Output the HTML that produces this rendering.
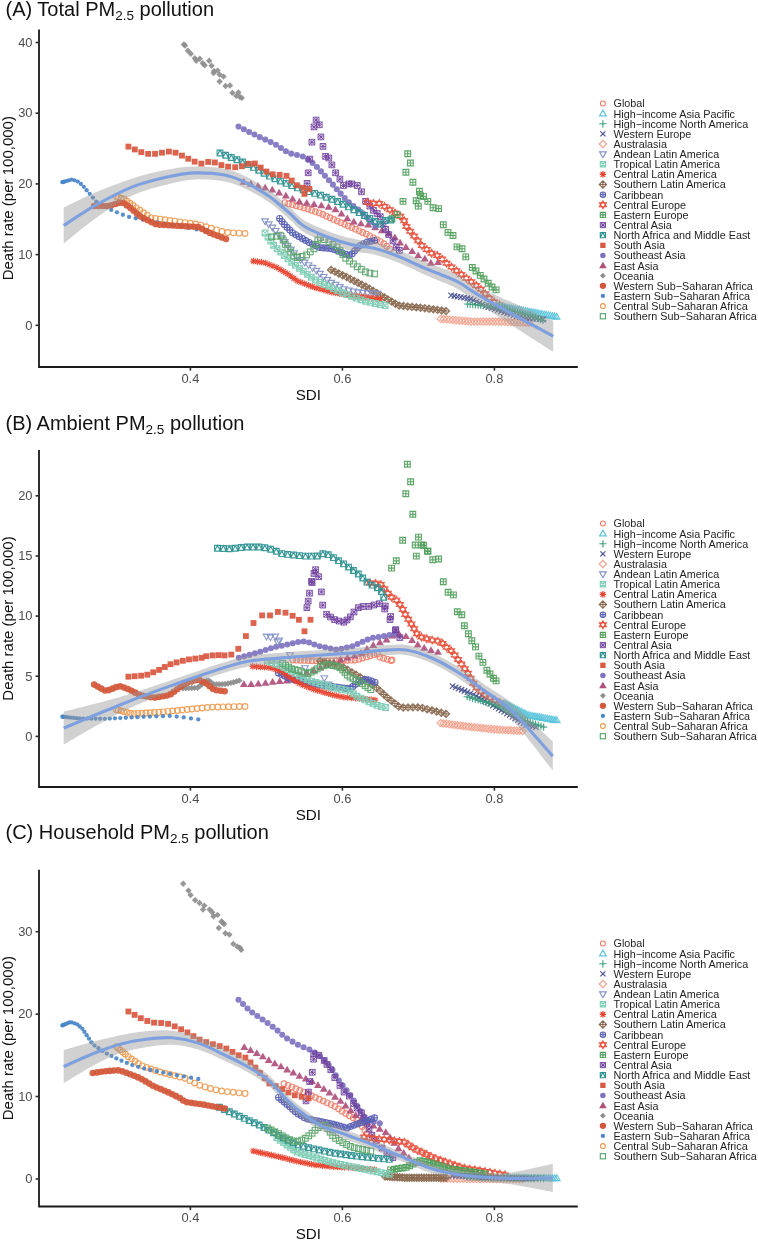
<!DOCTYPE html><html><head><meta charset="utf-8"><style>html,body{margin:0;padding:0;background:#fff;width:758px;height:1241px;overflow:hidden;position:relative}</style></head><body><svg width="758" height="1241" viewBox="0 0 758 1241" style="position:absolute;left:0;top:0;font-family:'Liberation Sans', sans-serif;filter:blur(0.3px)"><rect width="758" height="1241" fill="#fff"/><circle cx="284.90" cy="202.60" r="2.86" fill="none" stroke="#F07F6A" stroke-width="1.15" opacity="0.92"/><circle cx="288.73" cy="203.67" r="2.86" fill="none" stroke="#F07F6A" stroke-width="1.15" opacity="0.92"/><circle cx="292.56" cy="204.73" r="2.86" fill="none" stroke="#F07F6A" stroke-width="1.15" opacity="0.92"/><circle cx="296.39" cy="205.80" r="2.86" fill="none" stroke="#F07F6A" stroke-width="1.15" opacity="0.92"/><circle cx="300.22" cy="206.87" r="2.86" fill="none" stroke="#F07F6A" stroke-width="1.15" opacity="0.92"/><circle cx="304.05" cy="207.93" r="2.86" fill="none" stroke="#F07F6A" stroke-width="1.15" opacity="0.92"/><circle cx="307.89" cy="209.00" r="2.86" fill="none" stroke="#F07F6A" stroke-width="1.15" opacity="0.92"/><circle cx="311.65" cy="210.27" r="2.86" fill="none" stroke="#F07F6A" stroke-width="1.15" opacity="0.92"/><circle cx="315.40" cy="211.59" r="2.86" fill="none" stroke="#F07F6A" stroke-width="1.15" opacity="0.92"/><circle cx="319.16" cy="212.90" r="2.86" fill="none" stroke="#F07F6A" stroke-width="1.15" opacity="0.92"/><circle cx="322.81" cy="214.48" r="2.86" fill="none" stroke="#F07F6A" stroke-width="1.15" opacity="0.92"/><circle cx="326.42" cy="216.13" r="2.86" fill="none" stroke="#F07F6A" stroke-width="1.15" opacity="0.92"/><circle cx="330.04" cy="217.78" r="2.86" fill="none" stroke="#F07F6A" stroke-width="1.15" opacity="0.92"/><circle cx="333.66" cy="219.43" r="2.86" fill="none" stroke="#F07F6A" stroke-width="1.15" opacity="0.92"/><circle cx="337.29" cy="221.06" r="2.86" fill="none" stroke="#F07F6A" stroke-width="1.15" opacity="0.92"/><circle cx="340.92" cy="222.68" r="2.86" fill="none" stroke="#F07F6A" stroke-width="1.15" opacity="0.92"/><circle cx="344.55" cy="224.31" r="2.86" fill="none" stroke="#F07F6A" stroke-width="1.15" opacity="0.92"/><circle cx="348.18" cy="225.93" r="2.86" fill="none" stroke="#F07F6A" stroke-width="1.15" opacity="0.92"/><circle cx="351.81" cy="227.55" r="2.86" fill="none" stroke="#F07F6A" stroke-width="1.15" opacity="0.92"/><circle cx="355.44" cy="229.18" r="2.86" fill="none" stroke="#F07F6A" stroke-width="1.15" opacity="0.92"/><circle cx="359.06" cy="230.81" r="2.86" fill="none" stroke="#F07F6A" stroke-width="1.15" opacity="0.92"/><circle cx="362.69" cy="232.44" r="2.86" fill="none" stroke="#F07F6A" stroke-width="1.15" opacity="0.92"/><circle cx="366.32" cy="234.07" r="2.86" fill="none" stroke="#F07F6A" stroke-width="1.15" opacity="0.92"/><circle cx="369.85" cy="235.89" r="2.86" fill="none" stroke="#F07F6A" stroke-width="1.15" opacity="0.92"/><circle cx="373.33" cy="237.81" r="2.86" fill="none" stroke="#F07F6A" stroke-width="1.15" opacity="0.92"/><circle cx="376.82" cy="239.73" r="2.86" fill="none" stroke="#F07F6A" stroke-width="1.15" opacity="0.92"/><circle cx="380.30" cy="241.65" r="2.86" fill="none" stroke="#F07F6A" stroke-width="1.15" opacity="0.92"/><circle cx="383.71" cy="243.66" r="2.86" fill="none" stroke="#F07F6A" stroke-width="1.15" opacity="0.92"/><circle cx="386.71" cy="246.28" r="2.86" fill="none" stroke="#F07F6A" stroke-width="1.15" opacity="0.92"/><circle cx="389.70" cy="248.90" r="2.86" fill="none" stroke="#F07F6A" stroke-width="1.15" opacity="0.92"/><path d="M243.70 178.04L247.66 184.77H239.74Z" fill="#B04F7B" opacity="0.92"/><path d="M250.86 179.98L254.82 186.71H246.90Z" fill="#B04F7B" opacity="0.92"/><path d="M258.01 181.93L261.97 188.66H254.05Z" fill="#B04F7B" opacity="0.92"/><path d="M265.17 183.87L269.13 190.60H261.21Z" fill="#B04F7B" opacity="0.92"/><path d="M272.32 185.81L276.28 192.54H268.36Z" fill="#B04F7B" opacity="0.92"/><path d="M279.11 188.78L283.07 195.52H275.15Z" fill="#B04F7B" opacity="0.92"/><path d="M285.87 191.83L289.83 198.56H281.91Z" fill="#B04F7B" opacity="0.92"/><path d="M292.63 194.88L296.59 201.61H288.67Z" fill="#B04F7B" opacity="0.92"/><path d="M299.41 197.87L303.37 204.61H295.45Z" fill="#B04F7B" opacity="0.92"/><path d="M306.72 199.11L310.68 205.84H302.76Z" fill="#B04F7B" opacity="0.92"/><path d="M314.03 200.34L317.99 207.07H310.07Z" fill="#B04F7B" opacity="0.92"/><path d="M321.34 201.59L325.30 208.33H317.38Z" fill="#B04F7B" opacity="0.92"/><path d="M328.63 202.97L332.59 209.70H324.67Z" fill="#B04F7B" opacity="0.92"/><path d="M335.41 205.57L339.37 212.30H331.45Z" fill="#B04F7B" opacity="0.92"/><path d="M341.45 209.86L345.41 216.59H337.49Z" fill="#B04F7B" opacity="0.92"/><path d="M347.25 214.48L351.21 221.21H343.29Z" fill="#B04F7B" opacity="0.92"/><path d="M353.83 217.87L357.79 224.60H349.87Z" fill="#B04F7B" opacity="0.92"/><path d="M360.97 219.64L364.93 226.37H357.01Z" fill="#B04F7B" opacity="0.92"/><path d="M368.28 220.87L372.24 227.60H364.32Z" fill="#B04F7B" opacity="0.92"/><path d="M375.17 223.51L379.13 230.24H371.21Z" fill="#B04F7B" opacity="0.92"/><path d="M381.93 226.55L385.89 233.28H377.97Z" fill="#B04F7B" opacity="0.92"/><path d="M388.69 229.59L392.65 236.32H384.73Z" fill="#B04F7B" opacity="0.92"/><path d="M394.86 233.50L398.82 240.23H390.90Z" fill="#B04F7B" opacity="0.92"/><path d="M400.10 238.74L404.06 245.47H396.14Z" fill="#B04F7B" opacity="0.92"/><path d="M405.98 243.18L409.94 249.91H402.02Z" fill="#B04F7B" opacity="0.92"/><path d="M412.17 247.24L416.13 253.98H408.21Z" fill="#B04F7B" opacity="0.92"/><path d="M418.16 251.58L422.12 258.31H414.20Z" fill="#B04F7B" opacity="0.92"/><path d="M424.87 254.71L428.83 261.44H420.91Z" fill="#B04F7B" opacity="0.92"/><path d="M430.86 259.08L434.82 265.81H426.90Z" fill="#B04F7B" opacity="0.92"/><path d="M438.00 258.24L441.96 264.97H434.04Z" fill="#B04F7B" opacity="0.92"/><circle cx="238.50" cy="126.60" r="3.03" fill="#7E73C0" opacity="0.92"/><circle cx="243.82" cy="129.26" r="3.03" fill="#7E73C0" opacity="0.92"/><circle cx="249.13" cy="131.92" r="3.03" fill="#7E73C0" opacity="0.92"/><circle cx="254.45" cy="134.58" r="3.03" fill="#7E73C0" opacity="0.92"/><circle cx="259.81" cy="137.14" r="3.03" fill="#7E73C0" opacity="0.92"/><circle cx="265.21" cy="139.62" r="3.03" fill="#7E73C0" opacity="0.92"/><circle cx="270.62" cy="142.10" r="3.03" fill="#7E73C0" opacity="0.92"/><circle cx="275.97" cy="144.67" r="3.03" fill="#7E73C0" opacity="0.92"/><circle cx="280.93" cy="147.95" r="3.03" fill="#7E73C0" opacity="0.92"/><circle cx="285.89" cy="151.22" r="3.03" fill="#7E73C0" opacity="0.92"/><circle cx="291.22" cy="153.65" r="3.03" fill="#7E73C0" opacity="0.92"/><circle cx="297.00" cy="155.07" r="3.03" fill="#7E73C0" opacity="0.92"/><circle cx="302.77" cy="156.50" r="3.03" fill="#7E73C0" opacity="0.92"/><circle cx="307.80" cy="159.47" r="3.03" fill="#7E73C0" opacity="0.92"/><circle cx="312.55" cy="163.05" r="3.03" fill="#7E73C0" opacity="0.92"/><circle cx="316.94" cy="167.02" r="3.03" fill="#7E73C0" opacity="0.92"/><circle cx="320.96" cy="171.40" r="3.03" fill="#7E73C0" opacity="0.92"/><circle cx="324.97" cy="175.78" r="3.03" fill="#7E73C0" opacity="0.92"/><circle cx="328.99" cy="180.17" r="3.03" fill="#7E73C0" opacity="0.92"/><circle cx="332.90" cy="184.64" r="3.03" fill="#7E73C0" opacity="0.92"/><circle cx="336.77" cy="189.16" r="3.03" fill="#7E73C0" opacity="0.92"/><circle cx="340.67" cy="193.63" r="3.03" fill="#7E73C0" opacity="0.92"/><circle cx="344.74" cy="197.97" r="3.03" fill="#7E73C0" opacity="0.92"/><circle cx="348.80" cy="202.31" r="3.03" fill="#7E73C0" opacity="0.92"/><circle cx="353.38" cy="206.06" r="3.03" fill="#7E73C0" opacity="0.92"/><circle cx="358.20" cy="209.54" r="3.03" fill="#7E73C0" opacity="0.92"/><circle cx="362.79" cy="213.29" r="3.03" fill="#7E73C0" opacity="0.92"/><circle cx="366.99" cy="217.49" r="3.03" fill="#7E73C0" opacity="0.92"/><circle cx="371.20" cy="221.70" r="3.03" fill="#7E73C0" opacity="0.92"/><circle cx="375.40" cy="225.90" r="3.03" fill="#7E73C0" opacity="0.92"/><path d="M183.90 41.21L187.09 44.40L183.90 47.59L180.71 44.40Z" fill="#8E8E8E" opacity="0.92"/><path d="M185.00 42.31L188.19 45.50L185.00 48.69L181.81 45.50Z" fill="#8E8E8E" opacity="0.92"/><path d="M187.90 47.61L191.09 50.80L187.90 53.99L184.71 50.80Z" fill="#8E8E8E" opacity="0.92"/><path d="M190.80 50.61L193.99 53.80L190.80 56.99L187.61 53.80Z" fill="#8E8E8E" opacity="0.92"/><path d="M194.80 55.11L197.99 58.30L194.80 61.49L191.61 58.30Z" fill="#8E8E8E" opacity="0.92"/><path d="M199.80 55.61L202.99 58.80L199.80 61.99L196.61 58.80Z" fill="#8E8E8E" opacity="0.92"/><path d="M196.30 57.51L199.49 60.70L196.30 63.89L193.11 60.70Z" fill="#8E8E8E" opacity="0.92"/><path d="M202.70 60.01L205.89 63.20L202.70 66.39L199.51 63.20Z" fill="#8E8E8E" opacity="0.92"/><path d="M204.70 62.01L207.89 65.20L204.70 68.39L201.51 65.20Z" fill="#8E8E8E" opacity="0.92"/><path d="M209.20 57.51L212.39 60.70L209.20 63.89L206.01 60.70Z" fill="#8E8E8E" opacity="0.92"/><path d="M211.60 62.51L214.79 65.70L211.60 68.89L208.41 65.70Z" fill="#8E8E8E" opacity="0.92"/><path d="M214.10 67.91L217.29 71.10L214.10 74.29L210.91 71.10Z" fill="#8E8E8E" opacity="0.92"/><path d="M217.60 67.41L220.79 70.60L217.60 73.79L214.41 70.60Z" fill="#8E8E8E" opacity="0.92"/><path d="M213.60 69.91L216.79 73.10L213.60 76.29L210.41 73.10Z" fill="#8E8E8E" opacity="0.92"/><path d="M219.60 71.41L222.79 74.60L219.60 77.79L216.41 74.60Z" fill="#8E8E8E" opacity="0.92"/><path d="M223.50 73.41L226.69 76.60L223.50 79.79L220.31 76.60Z" fill="#8E8E8E" opacity="0.92"/><path d="M219.60 78.31L222.79 81.50L219.60 84.69L216.41 81.50Z" fill="#8E8E8E" opacity="0.92"/><path d="M225.50 82.81L228.69 86.00L225.50 89.19L222.31 86.00Z" fill="#8E8E8E" opacity="0.92"/><path d="M230.00 82.31L233.19 85.50L230.00 88.69L226.81 85.50Z" fill="#8E8E8E" opacity="0.92"/><path d="M232.40 89.71L235.59 92.90L232.40 96.09L229.21 92.90Z" fill="#8E8E8E" opacity="0.92"/><path d="M238.40 89.21L241.59 92.40L238.40 95.59L235.21 92.40Z" fill="#8E8E8E" opacity="0.92"/><path d="M236.40 92.71L239.59 95.90L236.40 99.09L233.21 95.90Z" fill="#8E8E8E" opacity="0.92"/><path d="M241.80 94.71L244.99 97.90L241.80 101.09L238.61 97.90Z" fill="#8E8E8E" opacity="0.92"/><path d="M240.00 93.81L243.19 97.00L240.00 100.19L236.81 97.00Z" fill="#8E8E8E" opacity="0.92"/><path d="M313.24 117.14H318.96V122.86H313.24ZM313.24 117.14L318.96 122.86M313.24 122.86L318.96 117.14M313.24 120.00H318.96M316.10 117.14V122.86" fill="none" stroke="#6E3F9E" stroke-width="0.92" opacity="0.92"/><path d="M316.44 121.94H322.16V127.66H316.44ZM316.44 121.94L322.16 127.66M316.44 127.66L322.16 121.94M316.44 124.80H322.16M319.30 121.94V127.66" fill="none" stroke="#6E3F9E" stroke-width="0.92" opacity="0.92"/><path d="M311.14 124.04H316.86V129.76H311.14ZM311.14 124.04L316.86 129.76M311.14 129.76L316.86 124.04M311.14 126.90H316.86M314.00 124.04V129.76" fill="none" stroke="#6E3F9E" stroke-width="0.92" opacity="0.92"/><path d="M318.04 134.04H323.76V139.76H318.04ZM318.04 134.04L323.76 139.76M318.04 139.76L323.76 134.04M318.04 136.90H323.76M320.90 134.04V139.76" fill="none" stroke="#6E3F9E" stroke-width="0.92" opacity="0.92"/><path d="M309.04 139.34H314.76V145.06H309.04ZM309.04 139.34L314.76 145.06M309.04 145.06L314.76 139.34M309.04 142.20H314.76M311.90 139.34V145.06" fill="none" stroke="#6E3F9E" stroke-width="0.92" opacity="0.92"/><path d="M320.14 143.54H325.86V149.26H320.14ZM320.14 143.54L325.86 149.26M320.14 149.26L325.86 143.54M320.14 146.40H325.86M323.00 143.54V149.26" fill="none" stroke="#6E3F9E" stroke-width="0.92" opacity="0.92"/><path d="M322.74 153.54H328.46V159.26H322.74ZM322.74 153.54L328.46 159.26M322.74 159.26L328.46 153.54M322.74 156.40H328.46M325.60 153.54V159.26" fill="none" stroke="#6E3F9E" stroke-width="0.92" opacity="0.92"/><path d="M325.94 155.14H331.66V160.86H325.94ZM325.94 155.14L331.66 160.86M325.94 160.86L331.66 155.14M325.94 158.00H331.66M328.80 155.14V160.86" fill="none" stroke="#6E3F9E" stroke-width="0.92" opacity="0.92"/><path d="M306.94 156.24H312.66V161.96H306.94ZM306.94 156.24L312.66 161.96M306.94 161.96L312.66 156.24M306.94 159.10H312.66M309.80 156.24V161.96" fill="none" stroke="#6E3F9E" stroke-width="0.92" opacity="0.92"/><path d="M329.04 162.04H334.76V167.76H329.04ZM329.04 162.04L334.76 167.76M329.04 167.76L334.76 162.04M329.04 164.90H334.76M331.90 162.04V167.76" fill="none" stroke="#6E3F9E" stroke-width="0.92" opacity="0.92"/><path d="M305.34 169.94H311.06V175.66H305.34ZM305.34 169.94L311.06 175.66M305.34 175.66L311.06 169.94M305.34 172.80H311.06M308.20 169.94V175.66" fill="none" stroke="#6E3F9E" stroke-width="0.92" opacity="0.92"/><path d="M332.74 169.94H338.46V175.66H332.74ZM332.74 169.94L338.46 175.66M332.74 175.66L338.46 169.94M332.74 172.80H338.46M335.60 169.94V175.66" fill="none" stroke="#6E3F9E" stroke-width="0.92" opacity="0.92"/><path d="M337.04 176.24H342.76V181.96H337.04ZM337.04 176.24L342.76 181.96M337.04 181.96L342.76 176.24M337.04 179.10H342.76M339.90 176.24V181.96" fill="none" stroke="#6E3F9E" stroke-width="0.92" opacity="0.92"/><path d="M304.24 180.54H309.96V186.26H304.24ZM304.24 180.54L309.96 186.26M304.24 186.26L309.96 180.54M304.24 183.40H309.96M307.10 180.54V186.26" fill="none" stroke="#6E3F9E" stroke-width="0.92" opacity="0.92"/><path d="M340.64 182.64H346.36V188.36H340.64ZM340.64 182.64L346.36 188.36M340.64 188.36L346.36 182.64M340.64 185.50H346.36M343.50 182.64V188.36" fill="none" stroke="#6E3F9E" stroke-width="0.92" opacity="0.92"/><path d="M345.94 181.04H351.66V186.76H345.94ZM345.94 181.04L351.66 186.76M345.94 186.76L351.66 181.04M345.94 183.90H351.66M348.80 181.04V186.76" fill="none" stroke="#6E3F9E" stroke-width="0.92" opacity="0.92"/><path d="M349.14 181.04H354.86V186.76H349.14ZM349.14 181.04L354.86 186.76M349.14 186.76L354.86 181.04M349.14 183.90H354.86M352.00 181.04V186.76" fill="none" stroke="#6E3F9E" stroke-width="0.92" opacity="0.92"/><path d="M354.44 182.64H360.16V188.36H354.44ZM354.44 182.64L360.16 188.36M354.44 188.36L360.16 182.64M354.44 185.50H360.16M357.30 182.64V188.36" fill="none" stroke="#6E3F9E" stroke-width="0.92" opacity="0.92"/><path d="M358.64 188.94H364.36V194.66H358.64ZM358.64 188.94L364.36 194.66M358.64 194.66L364.36 188.94M358.64 191.80H364.36M361.50 188.94V194.66" fill="none" stroke="#6E3F9E" stroke-width="0.92" opacity="0.92"/><path d="M362.74 198.54H368.46V204.26H362.74ZM362.74 198.54L368.46 204.26M362.74 204.26L368.46 198.54M362.74 201.40H368.46M365.60 198.54V204.26" fill="none" stroke="#6E3F9E" stroke-width="0.92" opacity="0.92"/><path d="M366.94 203.24H372.66V208.96H366.94ZM366.94 203.24L372.66 208.96M366.94 208.96L372.66 203.24M366.94 206.10H372.66M369.80 203.24V208.96" fill="none" stroke="#6E3F9E" stroke-width="0.92" opacity="0.92"/><path d="M370.64 207.44H376.36V213.16H370.64ZM370.64 207.44L376.36 213.16M370.64 213.16L376.36 207.44M370.64 210.30H376.36M373.50 207.44V213.16" fill="none" stroke="#6E3F9E" stroke-width="0.92" opacity="0.92"/><path d="M374.34 210.64H380.06V216.36H374.34ZM374.34 210.64L380.06 216.36M374.34 216.36L380.06 210.64M374.34 213.50H380.06M377.20 210.64V216.36" fill="none" stroke="#6E3F9E" stroke-width="0.92" opacity="0.92"/><path d="M377.44 213.84H383.16V219.56H377.44ZM377.44 213.84L383.16 219.56M377.44 219.56L383.16 213.84M377.44 216.70H383.16M380.30 213.84V219.56" fill="none" stroke="#6E3F9E" stroke-width="0.92" opacity="0.92"/><path d="M382.74 226.44H388.46V232.16H382.74ZM382.74 226.44L388.46 232.16M382.74 232.16L388.46 226.44M382.74 229.30H388.46M385.60 226.44V232.16" fill="none" stroke="#6E3F9E" stroke-width="0.92" opacity="0.92"/><path d="M385.94 231.74H391.66V237.46H385.94ZM385.94 231.74L391.66 237.46M385.94 237.46L391.66 231.74M385.94 234.60H391.66M388.80 231.74V237.46" fill="none" stroke="#6E3F9E" stroke-width="0.92" opacity="0.92"/><path d="M390.14 238.04H395.86V243.76H390.14ZM390.14 238.04L395.86 243.76M390.14 243.76L395.86 238.04M390.14 240.90H395.86M393.00 238.04V243.76" fill="none" stroke="#6E3F9E" stroke-width="0.92" opacity="0.92"/><path d="M393.34 244.44H399.06V250.16H393.34ZM393.34 244.44L399.06 250.16M393.34 250.16L399.06 244.44M393.34 247.30H399.06M396.20 244.44V250.16" fill="none" stroke="#6E3F9E" stroke-width="0.92" opacity="0.92"/><path d="M396.44 247.54H402.16V253.26H396.44ZM396.44 247.54L402.16 253.26M396.44 253.26L402.16 247.54M396.44 250.40H402.16M399.30 247.54V253.26" fill="none" stroke="#6E3F9E" stroke-width="0.92" opacity="0.92"/><path d="M380.14 221.14H385.86V226.86H380.14ZM380.14 221.14L385.86 226.86M380.14 226.86L385.86 221.14M380.14 224.00H385.86M383.00 221.14V226.86" fill="none" stroke="#6E3F9E" stroke-width="0.92" opacity="0.92"/><path d="M367.50 198.35L370.96 204.12H364.04ZM367.50 206.05L370.96 200.27H364.04Z" fill="none" stroke="#E8523E" stroke-width="1.15" opacity="0.92"/><path d="M373.49 199.50L376.95 205.28H370.02ZM373.49 207.20L376.95 201.43H370.02Z" fill="none" stroke="#E8523E" stroke-width="1.15" opacity="0.92"/><path d="M379.28 199.59L382.74 205.36H375.81ZM379.28 207.29L382.74 201.51H375.81Z" fill="none" stroke="#E8523E" stroke-width="1.15" opacity="0.92"/><path d="M384.59 202.70L388.05 208.47H381.12ZM384.59 210.40L388.05 204.62H381.12Z" fill="none" stroke="#E8523E" stroke-width="1.15" opacity="0.92"/><path d="M389.81 205.96L393.28 211.73H386.35ZM389.81 213.66L393.28 207.88H386.35Z" fill="none" stroke="#E8523E" stroke-width="1.15" opacity="0.92"/><path d="M395.05 209.19L398.52 214.96H391.59ZM395.05 216.89L398.52 211.11H391.59Z" fill="none" stroke="#E8523E" stroke-width="1.15" opacity="0.92"/><path d="M400.25 212.48L403.72 218.25H396.79ZM400.25 220.18L403.72 214.40H396.79Z" fill="none" stroke="#E8523E" stroke-width="1.15" opacity="0.92"/><path d="M404.24 216.89L407.70 222.67H400.77ZM404.24 224.59L407.70 218.82H400.77Z" fill="none" stroke="#E8523E" stroke-width="1.15" opacity="0.92"/><path d="M406.43 222.65L409.90 228.42H402.97ZM406.43 230.35L409.90 224.57H402.97Z" fill="none" stroke="#E8523E" stroke-width="1.15" opacity="0.92"/><path d="M410.18 227.49L413.64 233.26H406.71ZM410.18 235.19L413.64 229.41H406.71Z" fill="none" stroke="#E8523E" stroke-width="1.15" opacity="0.92"/><path d="M414.12 232.21L417.59 237.99H410.66ZM414.12 239.91L417.59 234.14H410.66Z" fill="none" stroke="#E8523E" stroke-width="1.15" opacity="0.92"/><path d="M418.03 236.97L421.50 242.75H414.57ZM418.03 244.67L421.50 238.90H414.57Z" fill="none" stroke="#E8523E" stroke-width="1.15" opacity="0.92"/><path d="M421.95 241.71L425.42 247.48H418.49ZM421.95 249.41L425.42 243.63H418.49Z" fill="none" stroke="#E8523E" stroke-width="1.15" opacity="0.92"/><path d="M426.78 245.53L430.24 251.31H423.31ZM426.78 253.23L430.24 247.46H423.31Z" fill="none" stroke="#E8523E" stroke-width="1.15" opacity="0.92"/><path d="M431.57 249.40L435.03 255.18H428.10ZM431.57 257.10L435.03 251.33H428.10Z" fill="none" stroke="#E8523E" stroke-width="1.15" opacity="0.92"/><path d="M437.27 251.64L440.74 257.41H433.81ZM437.27 259.34L440.74 253.56H433.81Z" fill="none" stroke="#E8523E" stroke-width="1.15" opacity="0.92"/><path d="M442.15 255.25L445.62 261.03H438.69ZM442.15 262.95L445.62 257.18H438.69Z" fill="none" stroke="#E8523E" stroke-width="1.15" opacity="0.92"/><path d="M446.73 259.37L450.20 265.15H443.27ZM446.73 267.07L450.20 261.30H443.27Z" fill="none" stroke="#E8523E" stroke-width="1.15" opacity="0.92"/><path d="M451.52 263.23L454.99 269.01H448.06ZM451.52 270.93L454.99 265.16H448.06Z" fill="none" stroke="#E8523E" stroke-width="1.15" opacity="0.92"/><path d="M456.46 266.92L459.92 272.69H452.99ZM456.46 274.62L459.92 268.84H452.99Z" fill="none" stroke="#E8523E" stroke-width="1.15" opacity="0.92"/><path d="M461.39 270.60L464.86 276.38H457.93ZM461.39 278.30L464.86 272.53H457.93Z" fill="none" stroke="#E8523E" stroke-width="1.15" opacity="0.92"/><path d="M466.32 274.29L469.79 280.06H462.86ZM466.32 281.99L469.79 276.21H462.86Z" fill="none" stroke="#E8523E" stroke-width="1.15" opacity="0.92"/><path d="M471.25 277.98L474.72 283.75H467.79ZM471.25 285.68L474.72 279.90H467.79Z" fill="none" stroke="#E8523E" stroke-width="1.15" opacity="0.92"/><path d="M476.18 281.67L479.65 287.45H472.72ZM476.18 289.37L479.65 283.60H472.72Z" fill="none" stroke="#E8523E" stroke-width="1.15" opacity="0.92"/><path d="M480.99 285.49L484.46 291.27H477.53ZM480.99 293.19L484.46 287.42H477.53Z" fill="none" stroke="#E8523E" stroke-width="1.15" opacity="0.92"/><path d="M485.20 290.00L488.66 295.77H481.73ZM485.20 297.70L488.66 291.92H481.73Z" fill="none" stroke="#E8523E" stroke-width="1.15" opacity="0.92"/><path d="M489.40 294.50L492.86 300.27H485.93ZM489.40 302.20L492.86 296.42H485.93Z" fill="none" stroke="#E8523E" stroke-width="1.15" opacity="0.92"/><path d="M494.20 298.23L497.66 304.00H490.73ZM494.20 305.93L497.66 300.15H490.73Z" fill="none" stroke="#E8523E" stroke-width="1.15" opacity="0.92"/><path d="M499.60 301.19L503.06 306.96H496.13ZM499.60 308.89L503.06 303.11H496.13Z" fill="none" stroke="#E8523E" stroke-width="1.15" opacity="0.92"/><path d="M505.00 304.15L508.46 309.93H501.54ZM505.00 311.85L508.46 306.07H501.54Z" fill="none" stroke="#E8523E" stroke-width="1.15" opacity="0.92"/><path d="M404.84 150.84H410.56V156.56H404.84ZM404.84 153.70H410.56M407.70 150.84V156.56" fill="none" stroke="#4F9E5A" stroke-width="1.15" opacity="0.92"/><path d="M407.54 160.14H413.26V165.86H407.54ZM407.54 163.00H413.26M410.40 160.14V165.86" fill="none" stroke="#4F9E5A" stroke-width="1.15" opacity="0.92"/><path d="M403.04 169.34H408.76V175.06H403.04ZM403.04 172.20H408.76M405.90 169.34V175.06" fill="none" stroke="#4F9E5A" stroke-width="1.15" opacity="0.92"/><path d="M410.04 179.34H415.76V185.06H410.04ZM410.04 182.20H415.76M412.90 179.34V185.06" fill="none" stroke="#4F9E5A" stroke-width="1.15" opacity="0.92"/><path d="M416.54 188.44H422.26V194.16H416.54ZM416.54 191.30H422.26M419.40 188.44V194.16" fill="none" stroke="#4F9E5A" stroke-width="1.15" opacity="0.92"/><path d="M417.54 192.74H423.26V198.46H417.54ZM417.54 195.60H423.26M420.40 192.74V198.46" fill="none" stroke="#4F9E5A" stroke-width="1.15" opacity="0.92"/><path d="M420.74 193.74H426.46V199.46H420.74ZM420.74 196.60H426.46M423.60 193.74V199.46" fill="none" stroke="#4F9E5A" stroke-width="1.15" opacity="0.92"/><path d="M424.94 198.54H430.66V204.26H424.94ZM424.94 201.40H430.66M427.80 198.54V204.26" fill="none" stroke="#4F9E5A" stroke-width="1.15" opacity="0.92"/><path d="M430.24 204.84H435.96V210.56H430.24ZM430.24 207.70H435.96M433.10 204.84V210.56" fill="none" stroke="#4F9E5A" stroke-width="1.15" opacity="0.92"/><path d="M415.44 203.24H421.16V208.96H415.44ZM415.44 206.10H421.16M418.30 203.24V208.96" fill="none" stroke="#4F9E5A" stroke-width="1.15" opacity="0.92"/><path d="M413.34 197.94H419.06V203.66H413.34ZM413.34 200.80H419.06M416.20 197.94V203.66" fill="none" stroke="#4F9E5A" stroke-width="1.15" opacity="0.92"/><path d="M400.14 198.54H405.86V204.26H400.14ZM400.14 201.40H405.86M403.00 198.54V204.26" fill="none" stroke="#4F9E5A" stroke-width="1.15" opacity="0.92"/><path d="M394.34 211.74H400.06V217.46H394.34ZM394.34 214.60H400.06M397.20 211.74V217.46" fill="none" stroke="#4F9E5A" stroke-width="1.15" opacity="0.92"/><path d="M389.04 215.94H394.76V221.66H389.04ZM389.04 218.80H394.76M391.90 215.94V221.66" fill="none" stroke="#4F9E5A" stroke-width="1.15" opacity="0.92"/><path d="M435.74 205.74H441.46V211.46H435.74ZM435.74 208.60H441.46M438.60 205.74V211.46" fill="none" stroke="#4F9E5A" stroke-width="1.15" opacity="0.92"/><path d="M440.44 221.84H446.16V227.56H440.44ZM440.44 224.70H446.16M443.30 221.84V227.56" fill="none" stroke="#4F9E5A" stroke-width="1.15" opacity="0.92"/><path d="M445.14 229.54H450.86V235.26H445.14ZM445.14 232.40H450.86M448.00 229.54V235.26" fill="none" stroke="#4F9E5A" stroke-width="1.15" opacity="0.92"/><path d="M450.14 232.64H455.86V238.36H450.14ZM450.14 235.50H455.86M453.00 232.64V238.36" fill="none" stroke="#4F9E5A" stroke-width="1.15" opacity="0.92"/><path d="M454.14 244.04H459.86V249.76H454.14ZM454.14 246.90H459.86M457.00 244.04V249.76" fill="none" stroke="#4F9E5A" stroke-width="1.15" opacity="0.92"/><path d="M459.14 245.84H464.86V251.56H459.14ZM459.14 248.70H464.86M462.00 245.84V251.56" fill="none" stroke="#4F9E5A" stroke-width="1.15" opacity="0.92"/><path d="M462.94 254.04H468.66V259.76H462.94ZM462.94 256.90H468.66M465.80 254.04V259.76" fill="none" stroke="#4F9E5A" stroke-width="1.15" opacity="0.92"/><path d="M469.44 264.64H475.16V270.36H469.44ZM469.44 267.50H475.16M472.30 264.64V270.36" fill="none" stroke="#4F9E5A" stroke-width="1.15" opacity="0.92"/><path d="M473.14 268.14H478.86V273.86H473.14ZM473.14 271.00H478.86M476.00 268.14V273.86" fill="none" stroke="#4F9E5A" stroke-width="1.15" opacity="0.92"/><path d="M477.44 272.54H483.16V278.26H477.44ZM477.44 275.40H483.16M480.30 272.54V278.26" fill="none" stroke="#4F9E5A" stroke-width="1.15" opacity="0.92"/><path d="M481.14 276.14H486.86V281.86H481.14ZM481.14 279.00H486.86M484.00 276.14V281.86" fill="none" stroke="#4F9E5A" stroke-width="1.15" opacity="0.92"/><path d="M485.34 280.44H491.06V286.16H485.34ZM485.34 283.30H491.06M488.20 280.44V286.16" fill="none" stroke="#4F9E5A" stroke-width="1.15" opacity="0.92"/><path d="M489.14 284.14H494.86V289.86H489.14ZM489.14 287.00H494.86M492.00 284.14V289.86" fill="none" stroke="#4F9E5A" stroke-width="1.15" opacity="0.92"/><path d="M493.24 287.04H498.96V292.76H493.24ZM493.24 289.90H498.96M496.10 287.04V292.76" fill="none" stroke="#4F9E5A" stroke-width="1.15" opacity="0.92"/><path d="M496.60 302.18L499.94 307.99H493.26Z" fill="none" stroke="#5CC4DB" stroke-width="1.15" opacity="0.92"/><path d="M498.67 302.56L502.01 308.37H495.33Z" fill="none" stroke="#5CC4DB" stroke-width="1.15" opacity="0.92"/><path d="M500.74 302.95L504.08 308.76H497.39Z" fill="none" stroke="#5CC4DB" stroke-width="1.15" opacity="0.92"/><path d="M502.81 303.33L506.15 309.14H499.46Z" fill="none" stroke="#5CC4DB" stroke-width="1.15" opacity="0.92"/><path d="M504.88 303.72L508.22 309.53H501.53Z" fill="none" stroke="#5CC4DB" stroke-width="1.15" opacity="0.92"/><path d="M506.95 304.10L510.29 309.91H503.60Z" fill="none" stroke="#5CC4DB" stroke-width="1.15" opacity="0.92"/><path d="M509.02 304.49L512.36 310.30H505.67Z" fill="none" stroke="#5CC4DB" stroke-width="1.15" opacity="0.92"/><path d="M511.08 304.87L514.43 310.68H507.74Z" fill="none" stroke="#5CC4DB" stroke-width="1.15" opacity="0.92"/><path d="M513.15 305.26L516.50 311.07H509.81Z" fill="none" stroke="#5CC4DB" stroke-width="1.15" opacity="0.92"/><path d="M515.22 305.64L518.57 311.45H511.88Z" fill="none" stroke="#5CC4DB" stroke-width="1.15" opacity="0.92"/><path d="M517.29 306.03L520.64 311.84H513.95Z" fill="none" stroke="#5CC4DB" stroke-width="1.15" opacity="0.92"/><path d="M519.36 306.41L522.71 312.22H516.02Z" fill="none" stroke="#5CC4DB" stroke-width="1.15" opacity="0.92"/><path d="M521.43 306.80L524.77 312.61H518.09Z" fill="none" stroke="#5CC4DB" stroke-width="1.15" opacity="0.92"/><path d="M523.50 307.18L526.84 312.99H520.16Z" fill="none" stroke="#5CC4DB" stroke-width="1.15" opacity="0.92"/><path d="M525.57 307.57L528.91 313.38H522.23Z" fill="none" stroke="#5CC4DB" stroke-width="1.15" opacity="0.92"/><path d="M527.64 307.96L530.98 313.76H524.29Z" fill="none" stroke="#5CC4DB" stroke-width="1.15" opacity="0.92"/><path d="M529.71 308.34L533.05 314.15H526.36Z" fill="none" stroke="#5CC4DB" stroke-width="1.15" opacity="0.92"/><path d="M531.78 308.73L535.12 314.54H528.43Z" fill="none" stroke="#5CC4DB" stroke-width="1.15" opacity="0.92"/><path d="M533.84 309.12L537.19 314.93H530.50Z" fill="none" stroke="#5CC4DB" stroke-width="1.15" opacity="0.92"/><path d="M535.91 309.51L539.26 315.31H532.57Z" fill="none" stroke="#5CC4DB" stroke-width="1.15" opacity="0.92"/><path d="M537.98 309.89L541.33 315.70H534.64Z" fill="none" stroke="#5CC4DB" stroke-width="1.15" opacity="0.92"/><path d="M540.05 310.28L543.39 316.09H536.71Z" fill="none" stroke="#5CC4DB" stroke-width="1.15" opacity="0.92"/><path d="M542.12 310.67L545.46 316.48H538.77Z" fill="none" stroke="#5CC4DB" stroke-width="1.15" opacity="0.92"/><path d="M544.19 311.06L547.53 316.86H540.84Z" fill="none" stroke="#5CC4DB" stroke-width="1.15" opacity="0.92"/><path d="M546.26 311.44L549.60 317.25H542.91Z" fill="none" stroke="#5CC4DB" stroke-width="1.15" opacity="0.92"/><path d="M548.33 311.83L551.67 317.64H544.98Z" fill="none" stroke="#5CC4DB" stroke-width="1.15" opacity="0.92"/><path d="M550.39 312.22L553.74 318.03H547.05Z" fill="none" stroke="#5CC4DB" stroke-width="1.15" opacity="0.92"/><path d="M552.46 312.61L555.81 318.41H549.12Z" fill="none" stroke="#5CC4DB" stroke-width="1.15" opacity="0.92"/><path d="M554.53 312.99L557.88 318.80H551.19Z" fill="none" stroke="#5CC4DB" stroke-width="1.15" opacity="0.92"/><path d="M556.60 313.38L559.94 319.19H553.26Z" fill="none" stroke="#5CC4DB" stroke-width="1.15" opacity="0.92"/><path d="M440.70 315.27L444.33 318.90L440.70 322.53L437.07 318.90Z" fill="none" stroke="#F5A08A" stroke-width="1.15" opacity="0.92"/><path d="M443.75 315.53L447.38 319.16L443.75 322.79L440.12 319.16Z" fill="none" stroke="#F5A08A" stroke-width="1.15" opacity="0.92"/><path d="M446.79 315.79L450.42 319.42L446.79 323.05L443.16 319.42Z" fill="none" stroke="#F5A08A" stroke-width="1.15" opacity="0.92"/><path d="M449.84 316.05L453.47 319.68L449.84 323.31L446.21 319.68Z" fill="none" stroke="#F5A08A" stroke-width="1.15" opacity="0.92"/><path d="M452.88 316.31L456.51 319.94L452.88 323.57L449.25 319.94Z" fill="none" stroke="#F5A08A" stroke-width="1.15" opacity="0.92"/><path d="M455.93 316.57L459.56 320.20L455.93 323.83L452.30 320.20Z" fill="none" stroke="#F5A08A" stroke-width="1.15" opacity="0.92"/><path d="M458.97 316.83L462.60 320.46L458.97 324.09L455.34 320.46Z" fill="none" stroke="#F5A08A" stroke-width="1.15" opacity="0.92"/><path d="M462.02 317.09L465.65 320.72L462.02 324.35L458.39 320.72Z" fill="none" stroke="#F5A08A" stroke-width="1.15" opacity="0.92"/><path d="M465.06 317.35L468.69 320.98L465.06 324.61L461.43 320.98Z" fill="none" stroke="#F5A08A" stroke-width="1.15" opacity="0.92"/><path d="M468.11 317.61L471.74 321.24L468.11 324.87L464.48 321.24Z" fill="none" stroke="#F5A08A" stroke-width="1.15" opacity="0.92"/><path d="M471.16 317.87L474.79 321.50L471.16 325.13L467.53 321.50Z" fill="none" stroke="#F5A08A" stroke-width="1.15" opacity="0.92"/><path d="M474.21 317.97L477.84 321.60L474.21 325.23L470.58 321.60Z" fill="none" stroke="#F5A08A" stroke-width="1.15" opacity="0.92"/><path d="M477.26 317.97L480.89 321.60L477.26 325.23L473.63 321.60Z" fill="none" stroke="#F5A08A" stroke-width="1.15" opacity="0.92"/><path d="M480.32 317.97L483.95 321.60L480.32 325.23L476.69 321.60Z" fill="none" stroke="#F5A08A" stroke-width="1.15" opacity="0.92"/><path d="M483.38 317.97L487.01 321.60L483.38 325.23L479.75 321.60Z" fill="none" stroke="#F5A08A" stroke-width="1.15" opacity="0.92"/><path d="M486.43 317.97L490.06 321.60L486.43 325.23L482.80 321.60Z" fill="none" stroke="#F5A08A" stroke-width="1.15" opacity="0.92"/><path d="M489.49 317.97L493.12 321.60L489.49 325.23L485.86 321.60Z" fill="none" stroke="#F5A08A" stroke-width="1.15" opacity="0.92"/><path d="M492.55 317.97L496.18 321.60L492.55 325.23L488.92 321.60Z" fill="none" stroke="#F5A08A" stroke-width="1.15" opacity="0.92"/><path d="M495.60 317.97L499.23 321.60L495.60 325.23L491.97 321.60Z" fill="none" stroke="#F5A08A" stroke-width="1.15" opacity="0.92"/><path d="M498.66 317.97L502.29 321.60L498.66 325.23L495.03 321.60Z" fill="none" stroke="#F5A08A" stroke-width="1.15" opacity="0.92"/><path d="M501.72 318.10L505.35 321.73L501.72 325.36L498.09 321.73Z" fill="none" stroke="#F5A08A" stroke-width="1.15" opacity="0.92"/><path d="M504.77 318.23L508.40 321.86L504.77 325.49L501.14 321.86Z" fill="none" stroke="#F5A08A" stroke-width="1.15" opacity="0.92"/><path d="M507.82 318.36L511.45 321.99L507.82 325.62L504.19 321.99Z" fill="none" stroke="#F5A08A" stroke-width="1.15" opacity="0.92"/><path d="M510.88 318.49L514.51 322.12L510.88 325.75L507.25 322.12Z" fill="none" stroke="#F5A08A" stroke-width="1.15" opacity="0.92"/><path d="M513.93 318.62L517.56 322.25L513.93 325.88L510.30 322.25Z" fill="none" stroke="#F5A08A" stroke-width="1.15" opacity="0.92"/><path d="M516.98 318.75L520.61 322.38L516.98 326.01L513.35 322.38Z" fill="none" stroke="#F5A08A" stroke-width="1.15" opacity="0.92"/><path d="M520.04 318.88L523.67 322.51L520.04 326.14L516.41 322.51Z" fill="none" stroke="#F5A08A" stroke-width="1.15" opacity="0.92"/><path d="M523.09 319.01L526.72 322.64L523.09 326.27L519.46 322.64Z" fill="none" stroke="#F5A08A" stroke-width="1.15" opacity="0.92"/><path d="M526.15 319.14L529.78 322.77L526.15 326.40L522.52 322.77Z" fill="none" stroke="#F5A08A" stroke-width="1.15" opacity="0.92"/><path d="M529.20 319.27L532.83 322.90L529.20 326.53L525.57 322.90Z" fill="none" stroke="#F5A08A" stroke-width="1.15" opacity="0.92"/><path d="M448.35 292.65L453.85 298.15M448.35 298.15L453.85 292.65" fill="none" stroke="#434C8E" stroke-width="1.15" opacity="0.92"/><path d="M451.60 293.22L457.10 298.72M451.60 298.72L457.10 293.22" fill="none" stroke="#434C8E" stroke-width="1.15" opacity="0.92"/><path d="M454.84 293.80L460.34 299.30M454.84 299.30L460.34 293.80" fill="none" stroke="#434C8E" stroke-width="1.15" opacity="0.92"/><path d="M458.09 294.37L463.59 299.87M458.09 299.87L463.59 294.37" fill="none" stroke="#434C8E" stroke-width="1.15" opacity="0.92"/><path d="M461.33 294.95L466.83 300.45M461.33 300.45L466.83 294.95" fill="none" stroke="#434C8E" stroke-width="1.15" opacity="0.92"/><path d="M464.58 295.52L470.08 301.02M464.58 301.02L470.08 295.52" fill="none" stroke="#434C8E" stroke-width="1.15" opacity="0.92"/><path d="M467.83 296.09L473.33 301.59M467.83 301.59L473.33 296.09" fill="none" stroke="#434C8E" stroke-width="1.15" opacity="0.92"/><path d="M470.83 297.42L476.33 302.92M470.83 302.92L476.33 297.42" fill="none" stroke="#434C8E" stroke-width="1.15" opacity="0.92"/><path d="M473.81 298.83L479.31 304.33M473.81 304.33L479.31 298.83" fill="none" stroke="#434C8E" stroke-width="1.15" opacity="0.92"/><path d="M476.79 300.24L482.29 305.74M476.79 305.74L482.29 300.24" fill="none" stroke="#434C8E" stroke-width="1.15" opacity="0.92"/><path d="M479.77 301.64L485.27 307.14M479.77 307.14L485.27 301.64" fill="none" stroke="#434C8E" stroke-width="1.15" opacity="0.92"/><path d="M482.76 303.05L488.26 308.55M482.76 308.55L488.26 303.05" fill="none" stroke="#434C8E" stroke-width="1.15" opacity="0.92"/><path d="M485.87 304.14L491.37 309.64M485.87 309.64L491.37 304.14" fill="none" stroke="#434C8E" stroke-width="1.15" opacity="0.92"/><path d="M488.98 305.24L494.48 310.74M488.98 310.74L494.48 305.24" fill="none" stroke="#434C8E" stroke-width="1.15" opacity="0.92"/><path d="M492.09 306.33L497.59 311.83M492.09 311.83L497.59 306.33" fill="none" stroke="#434C8E" stroke-width="1.15" opacity="0.92"/><path d="M495.20 307.42L500.70 312.92M495.20 312.92L500.70 307.42" fill="none" stroke="#434C8E" stroke-width="1.15" opacity="0.92"/><path d="M498.31 308.52L503.81 314.02M498.31 314.02L503.81 308.52" fill="none" stroke="#434C8E" stroke-width="1.15" opacity="0.92"/><path d="M501.42 309.60L506.92 315.10M501.42 315.10L506.92 309.60" fill="none" stroke="#434C8E" stroke-width="1.15" opacity="0.92"/><path d="M504.59 310.51L510.09 316.01M504.59 316.01L510.09 310.51" fill="none" stroke="#434C8E" stroke-width="1.15" opacity="0.92"/><path d="M507.76 311.41L513.26 316.91M507.76 316.91L513.26 311.41" fill="none" stroke="#434C8E" stroke-width="1.15" opacity="0.92"/><path d="M510.93 312.32L516.43 317.82M510.93 317.82L516.43 312.32" fill="none" stroke="#434C8E" stroke-width="1.15" opacity="0.92"/><path d="M514.09 313.23L519.59 318.73M514.09 318.73L519.59 313.23" fill="none" stroke="#434C8E" stroke-width="1.15" opacity="0.92"/><path d="M517.26 314.14L522.76 319.64M517.26 319.64L522.76 314.14" fill="none" stroke="#434C8E" stroke-width="1.15" opacity="0.92"/><path d="M520.46 314.92L525.96 320.42M520.46 320.42L525.96 314.92" fill="none" stroke="#434C8E" stroke-width="1.15" opacity="0.92"/><path d="M523.74 315.22L529.24 320.72M523.74 320.72L529.24 315.22" fill="none" stroke="#434C8E" stroke-width="1.15" opacity="0.92"/><path d="M527.02 315.53L532.52 321.03M527.02 321.03L532.52 315.53" fill="none" stroke="#434C8E" stroke-width="1.15" opacity="0.92"/><path d="M530.30 315.83L535.80 321.33M530.30 321.33L535.80 315.83" fill="none" stroke="#434C8E" stroke-width="1.15" opacity="0.92"/><path d="M533.59 316.14L539.09 321.64M533.59 321.64L539.09 316.14" fill="none" stroke="#434C8E" stroke-width="1.15" opacity="0.92"/><path d="M536.87 316.44L542.37 321.94M536.87 321.94L542.37 316.44" fill="none" stroke="#434C8E" stroke-width="1.15" opacity="0.92"/><path d="M540.15 316.75L545.65 322.25M540.15 322.25L545.65 316.75" fill="none" stroke="#434C8E" stroke-width="1.15" opacity="0.92"/><path d="M331.00 266.27L334.63 269.90L331.00 273.53L327.37 269.90ZM327.37 269.90H334.63M331.00 266.27V273.53" fill="none" stroke="#8A6A50" stroke-width="1.15" opacity="0.92"/><path d="M334.90 268.04L338.53 271.67L334.90 275.30L331.27 271.67ZM331.27 271.67H338.53M334.90 268.04V275.30" fill="none" stroke="#8A6A50" stroke-width="1.15" opacity="0.92"/><path d="M338.80 269.82L342.43 273.45L338.80 277.08L335.17 273.45ZM335.17 273.45H342.43M338.80 269.82V277.08" fill="none" stroke="#8A6A50" stroke-width="1.15" opacity="0.92"/><path d="M342.70 271.59L346.33 275.22L342.70 278.85L339.07 275.22ZM339.07 275.22H346.33M342.70 271.59V278.85" fill="none" stroke="#8A6A50" stroke-width="1.15" opacity="0.92"/><path d="M346.57 273.41L350.20 277.04L346.57 280.67L342.94 277.04ZM342.94 277.04H350.20M346.57 273.41V280.67" fill="none" stroke="#8A6A50" stroke-width="1.15" opacity="0.92"/><path d="M350.40 275.33L354.03 278.96L350.40 282.59L346.77 278.96ZM346.77 278.96H354.03M350.40 275.33V282.59" fill="none" stroke="#8A6A50" stroke-width="1.15" opacity="0.92"/><path d="M354.23 277.26L357.86 280.89L354.23 284.52L350.60 280.89ZM350.60 280.89H357.86M354.23 277.26V284.52" fill="none" stroke="#8A6A50" stroke-width="1.15" opacity="0.92"/><path d="M358.06 279.18L361.69 282.81L358.06 286.44L354.43 282.81ZM354.43 282.81H361.69M358.06 279.18V286.44" fill="none" stroke="#8A6A50" stroke-width="1.15" opacity="0.92"/><path d="M361.88 281.10L365.51 284.73L361.88 288.36L358.25 284.73ZM358.25 284.73H365.51M361.88 281.10V288.36" fill="none" stroke="#8A6A50" stroke-width="1.15" opacity="0.92"/><path d="M365.71 283.02L369.34 286.65L365.71 290.28L362.08 286.65ZM362.08 286.65H369.34M365.71 283.02V290.28" fill="none" stroke="#8A6A50" stroke-width="1.15" opacity="0.92"/><path d="M369.45 285.12L373.08 288.75L369.45 292.38L365.82 288.75ZM365.82 288.75H373.08M369.45 285.12V292.38" fill="none" stroke="#8A6A50" stroke-width="1.15" opacity="0.92"/><path d="M373.15 287.26L376.78 290.89L373.15 294.52L369.52 290.89ZM369.52 290.89H376.78M373.15 287.26V294.52" fill="none" stroke="#8A6A50" stroke-width="1.15" opacity="0.92"/><path d="M376.86 289.41L380.49 293.04L376.86 296.67L373.23 293.04ZM373.23 293.04H380.49M376.86 289.41V296.67" fill="none" stroke="#8A6A50" stroke-width="1.15" opacity="0.92"/><path d="M380.57 291.55L384.20 295.18L380.57 298.81L376.94 295.18ZM376.94 295.18H384.20M380.57 291.55V298.81" fill="none" stroke="#8A6A50" stroke-width="1.15" opacity="0.92"/><path d="M384.27 293.70L387.90 297.33L384.27 300.96L380.64 297.33ZM380.64 297.33H387.90M384.27 293.70V300.96" fill="none" stroke="#8A6A50" stroke-width="1.15" opacity="0.92"/><path d="M387.98 295.86L391.61 299.49L387.98 303.12L384.35 299.49ZM384.35 299.49H391.61M387.98 295.86V303.12" fill="none" stroke="#8A6A50" stroke-width="1.15" opacity="0.92"/><path d="M391.68 298.01L395.31 301.64L391.68 305.27L388.05 301.64ZM388.05 301.64H395.31M391.68 298.01V305.27" fill="none" stroke="#8A6A50" stroke-width="1.15" opacity="0.92"/><path d="M395.38 300.17L399.01 303.80L395.38 307.43L391.75 303.80ZM391.75 303.80H399.01M395.38 300.17V307.43" fill="none" stroke="#8A6A50" stroke-width="1.15" opacity="0.92"/><path d="M399.20 301.96L402.83 305.59L399.20 309.22L395.57 305.59ZM395.57 305.59H402.83M399.20 301.96V309.22" fill="none" stroke="#8A6A50" stroke-width="1.15" opacity="0.92"/><path d="M403.46 302.40L407.09 306.03L403.46 309.66L399.83 306.03ZM399.83 306.03H407.09M403.46 302.40V309.66" fill="none" stroke="#8A6A50" stroke-width="1.15" opacity="0.92"/><path d="M407.72 302.83L411.35 306.46L407.72 310.09L404.09 306.46ZM404.09 306.46H411.35M407.72 302.83V310.09" fill="none" stroke="#8A6A50" stroke-width="1.15" opacity="0.92"/><path d="M411.98 303.27L415.61 306.90L411.98 310.53L408.35 306.90ZM408.35 306.90H415.61M411.98 303.27V310.53" fill="none" stroke="#8A6A50" stroke-width="1.15" opacity="0.92"/><path d="M416.24 303.71L419.87 307.34L416.24 310.97L412.61 307.34ZM412.61 307.34H419.87M416.24 303.71V310.97" fill="none" stroke="#8A6A50" stroke-width="1.15" opacity="0.92"/><path d="M420.50 304.14L424.13 307.77L420.50 311.40L416.87 307.77ZM416.87 307.77H424.13M420.50 304.14V311.40" fill="none" stroke="#8A6A50" stroke-width="1.15" opacity="0.92"/><path d="M424.77 304.58L428.40 308.21L424.77 311.84L421.14 308.21ZM421.14 308.21H428.40M424.77 304.58V311.84" fill="none" stroke="#8A6A50" stroke-width="1.15" opacity="0.92"/><path d="M429.01 305.14L432.64 308.77L429.01 312.40L425.38 308.77ZM425.38 308.77H432.64M429.01 305.14V312.40" fill="none" stroke="#8A6A50" stroke-width="1.15" opacity="0.92"/><path d="M433.26 305.70L436.89 309.33L433.26 312.96L429.63 309.33ZM429.63 309.33H436.89M433.26 305.70V312.96" fill="none" stroke="#8A6A50" stroke-width="1.15" opacity="0.92"/><path d="M437.51 306.25L441.14 309.88L437.51 313.51L433.88 309.88ZM433.88 309.88H441.14M437.51 306.25V313.51" fill="none" stroke="#8A6A50" stroke-width="1.15" opacity="0.92"/><path d="M441.75 306.81L445.38 310.44L441.75 314.07L438.12 310.44ZM438.12 310.44H445.38M441.75 306.81V314.07" fill="none" stroke="#8A6A50" stroke-width="1.15" opacity="0.92"/><path d="M446.00 307.37L449.63 311.00L446.00 314.63L442.37 311.00ZM442.37 311.00H449.63M446.00 307.37V314.63" fill="none" stroke="#8A6A50" stroke-width="1.15" opacity="0.92"/><path d="M463.77 304.00H471.03M467.40 300.37V307.63" fill="none" stroke="#3D9E7E" stroke-width="1.15" opacity="0.92"/><path d="M466.44 304.26H473.70M470.07 300.63V307.89" fill="none" stroke="#3D9E7E" stroke-width="1.15" opacity="0.92"/><path d="M469.10 304.53H476.36M472.73 300.90V308.16" fill="none" stroke="#3D9E7E" stroke-width="1.15" opacity="0.92"/><path d="M471.77 304.79H479.03M475.40 301.16V308.42" fill="none" stroke="#3D9E7E" stroke-width="1.15" opacity="0.92"/><path d="M474.44 305.06H481.70M478.07 301.43V308.69" fill="none" stroke="#3D9E7E" stroke-width="1.15" opacity="0.92"/><path d="M477.10 305.32H484.36M480.73 301.69V308.95" fill="none" stroke="#3D9E7E" stroke-width="1.15" opacity="0.92"/><path d="M479.77 305.58H487.03M483.40 301.95V309.21" fill="none" stroke="#3D9E7E" stroke-width="1.15" opacity="0.92"/><path d="M482.43 305.85H489.69M486.06 302.22V309.48" fill="none" stroke="#3D9E7E" stroke-width="1.15" opacity="0.92"/><path d="M485.10 306.11H492.36M488.73 302.48V309.74" fill="none" stroke="#3D9E7E" stroke-width="1.15" opacity="0.92"/><path d="M487.77 306.38H495.03M491.40 302.75V310.01" fill="none" stroke="#3D9E7E" stroke-width="1.15" opacity="0.92"/><path d="M490.43 306.64H497.69M494.06 303.01V310.27" fill="none" stroke="#3D9E7E" stroke-width="1.15" opacity="0.92"/><path d="M493.10 306.90H500.36M496.73 303.27V310.53" fill="none" stroke="#3D9E7E" stroke-width="1.15" opacity="0.92"/><path d="M495.75 307.28H503.01M499.38 303.65V310.91" fill="none" stroke="#3D9E7E" stroke-width="1.15" opacity="0.92"/><path d="M498.33 307.99H505.59M501.96 304.36V311.62" fill="none" stroke="#3D9E7E" stroke-width="1.15" opacity="0.92"/><path d="M500.92 308.69H508.18M504.55 305.06V312.32" fill="none" stroke="#3D9E7E" stroke-width="1.15" opacity="0.92"/><path d="M503.50 309.39H510.76M507.13 305.76V313.02" fill="none" stroke="#3D9E7E" stroke-width="1.15" opacity="0.92"/><path d="M506.09 310.09H513.35M509.72 306.46V313.72" fill="none" stroke="#3D9E7E" stroke-width="1.15" opacity="0.92"/><path d="M508.68 310.79H515.94M512.31 307.16V314.42" fill="none" stroke="#3D9E7E" stroke-width="1.15" opacity="0.92"/><path d="M511.26 311.50H518.52M514.89 307.87V315.13" fill="none" stroke="#3D9E7E" stroke-width="1.15" opacity="0.92"/><path d="M513.85 312.20H521.11M517.48 308.57V315.83" fill="none" stroke="#3D9E7E" stroke-width="1.15" opacity="0.92"/><path d="M516.43 312.90H523.69M520.06 309.27V316.53" fill="none" stroke="#3D9E7E" stroke-width="1.15" opacity="0.92"/><path d="M519.02 313.60H526.28M522.65 309.97V317.23" fill="none" stroke="#3D9E7E" stroke-width="1.15" opacity="0.92"/><path d="M521.60 314.30H528.86M525.23 310.67V317.93" fill="none" stroke="#3D9E7E" stroke-width="1.15" opacity="0.92"/><path d="M524.19 315.01H531.45M527.82 311.38V318.64" fill="none" stroke="#3D9E7E" stroke-width="1.15" opacity="0.92"/><path d="M526.72 315.89H533.98M530.35 312.26V319.52" fill="none" stroke="#3D9E7E" stroke-width="1.15" opacity="0.92"/><path d="M529.25 316.77H536.51M532.88 313.14V320.40" fill="none" stroke="#3D9E7E" stroke-width="1.15" opacity="0.92"/><path d="M531.78 317.65H539.04M535.41 314.02V321.28" fill="none" stroke="#3D9E7E" stroke-width="1.15" opacity="0.92"/><path d="M534.31 318.54H541.57M537.94 314.91V322.17" fill="none" stroke="#3D9E7E" stroke-width="1.15" opacity="0.92"/><path d="M536.84 319.42H544.10M540.47 315.79V323.05" fill="none" stroke="#3D9E7E" stroke-width="1.15" opacity="0.92"/><path d="M539.37 320.30H546.63M543.00 316.67V323.93" fill="none" stroke="#3D9E7E" stroke-width="1.15" opacity="0.92"/><path d="M276.63 218.50H282.57M279.60 215.53V221.47" fill="none" stroke="#5A62B4" stroke-width="1.15" opacity="0.92"/><circle cx="279.60" cy="218.50" r="2.97" fill="none" stroke="#5A62B4" stroke-width="1.15" opacity="0.92"/><path d="M279.04 221.51H284.98M282.01 218.54V224.48" fill="none" stroke="#5A62B4" stroke-width="1.15" opacity="0.92"/><circle cx="282.01" cy="221.51" r="2.97" fill="none" stroke="#5A62B4" stroke-width="1.15" opacity="0.92"/><path d="M281.46 224.51H287.40M284.43 221.54V227.48" fill="none" stroke="#5A62B4" stroke-width="1.15" opacity="0.92"/><circle cx="284.43" cy="224.51" r="2.97" fill="none" stroke="#5A62B4" stroke-width="1.15" opacity="0.92"/><path d="M284.12 227.29H290.06M287.09 224.32V230.26" fill="none" stroke="#5A62B4" stroke-width="1.15" opacity="0.92"/><circle cx="287.09" cy="227.29" r="2.97" fill="none" stroke="#5A62B4" stroke-width="1.15" opacity="0.92"/><path d="M286.85 230.02H292.79M289.82 227.05V232.99" fill="none" stroke="#5A62B4" stroke-width="1.15" opacity="0.92"/><circle cx="289.82" cy="230.02" r="2.97" fill="none" stroke="#5A62B4" stroke-width="1.15" opacity="0.92"/><path d="M289.57 232.74H295.51M292.54 229.77V235.71" fill="none" stroke="#5A62B4" stroke-width="1.15" opacity="0.92"/><circle cx="292.54" cy="232.74" r="2.97" fill="none" stroke="#5A62B4" stroke-width="1.15" opacity="0.92"/><path d="M292.85 234.76H298.79M295.82 231.79V237.73" fill="none" stroke="#5A62B4" stroke-width="1.15" opacity="0.92"/><circle cx="295.82" cy="234.76" r="2.97" fill="none" stroke="#5A62B4" stroke-width="1.15" opacity="0.92"/><path d="M296.18 236.70H302.12M299.15 233.73V239.67" fill="none" stroke="#5A62B4" stroke-width="1.15" opacity="0.92"/><circle cx="299.15" cy="236.70" r="2.97" fill="none" stroke="#5A62B4" stroke-width="1.15" opacity="0.92"/><path d="M299.51 238.63H305.45M302.48 235.66V241.60" fill="none" stroke="#5A62B4" stroke-width="1.15" opacity="0.92"/><circle cx="302.48" cy="238.63" r="2.97" fill="none" stroke="#5A62B4" stroke-width="1.15" opacity="0.92"/><path d="M302.84 240.57H308.78M305.81 237.60V243.54" fill="none" stroke="#5A62B4" stroke-width="1.15" opacity="0.92"/><circle cx="305.81" cy="240.57" r="2.97" fill="none" stroke="#5A62B4" stroke-width="1.15" opacity="0.92"/><path d="M306.19 242.48H312.13M309.16 239.51V245.45" fill="none" stroke="#5A62B4" stroke-width="1.15" opacity="0.92"/><circle cx="309.16" cy="242.48" r="2.97" fill="none" stroke="#5A62B4" stroke-width="1.15" opacity="0.92"/><path d="M309.64 244.20H315.58M312.61 241.23V247.17" fill="none" stroke="#5A62B4" stroke-width="1.15" opacity="0.92"/><circle cx="312.61" cy="244.20" r="2.97" fill="none" stroke="#5A62B4" stroke-width="1.15" opacity="0.92"/><path d="M313.08 245.93H319.02M316.05 242.96V248.90" fill="none" stroke="#5A62B4" stroke-width="1.15" opacity="0.92"/><circle cx="316.05" cy="245.93" r="2.97" fill="none" stroke="#5A62B4" stroke-width="1.15" opacity="0.92"/><path d="M316.56 247.53H322.50M319.53 244.56V250.50" fill="none" stroke="#5A62B4" stroke-width="1.15" opacity="0.92"/><circle cx="319.53" cy="247.53" r="2.97" fill="none" stroke="#5A62B4" stroke-width="1.15" opacity="0.92"/><path d="M320.40 247.91H326.34M323.37 244.94V250.88" fill="none" stroke="#5A62B4" stroke-width="1.15" opacity="0.92"/><circle cx="323.37" cy="247.91" r="2.97" fill="none" stroke="#5A62B4" stroke-width="1.15" opacity="0.92"/><path d="M324.24 248.29H330.18M327.21 245.32V251.26" fill="none" stroke="#5A62B4" stroke-width="1.15" opacity="0.92"/><circle cx="327.21" cy="248.29" r="2.97" fill="none" stroke="#5A62B4" stroke-width="1.15" opacity="0.92"/><path d="M328.07 248.68H334.01M331.04 245.71V251.65" fill="none" stroke="#5A62B4" stroke-width="1.15" opacity="0.92"/><circle cx="331.04" cy="248.68" r="2.97" fill="none" stroke="#5A62B4" stroke-width="1.15" opacity="0.92"/><path d="M331.73 249.76H337.67M334.70 246.79V252.73" fill="none" stroke="#5A62B4" stroke-width="1.15" opacity="0.92"/><circle cx="334.70" cy="249.76" r="2.97" fill="none" stroke="#5A62B4" stroke-width="1.15" opacity="0.92"/><path d="M335.31 251.20H341.25M338.28 248.23V254.17" fill="none" stroke="#5A62B4" stroke-width="1.15" opacity="0.92"/><circle cx="338.28" cy="251.20" r="2.97" fill="none" stroke="#5A62B4" stroke-width="1.15" opacity="0.92"/><path d="M338.89 252.64H344.83M341.86 249.67V255.61" fill="none" stroke="#5A62B4" stroke-width="1.15" opacity="0.92"/><circle cx="341.86" cy="252.64" r="2.97" fill="none" stroke="#5A62B4" stroke-width="1.15" opacity="0.92"/><path d="M342.46 254.07H348.40M345.43 251.10V257.04" fill="none" stroke="#5A62B4" stroke-width="1.15" opacity="0.92"/><circle cx="345.43" cy="254.07" r="2.97" fill="none" stroke="#5A62B4" stroke-width="1.15" opacity="0.92"/><path d="M346.20 255.00H352.14M349.17 252.03V257.97" fill="none" stroke="#5A62B4" stroke-width="1.15" opacity="0.92"/><circle cx="349.17" cy="255.00" r="2.97" fill="none" stroke="#5A62B4" stroke-width="1.15" opacity="0.92"/><path d="M349.25 253.75H355.19M352.22 250.78V256.72" fill="none" stroke="#5A62B4" stroke-width="1.15" opacity="0.92"/><circle cx="352.22" cy="253.75" r="2.97" fill="none" stroke="#5A62B4" stroke-width="1.15" opacity="0.92"/><path d="M351.76 250.82H357.70M354.73 247.85V253.79" fill="none" stroke="#5A62B4" stroke-width="1.15" opacity="0.92"/><circle cx="354.73" cy="250.82" r="2.97" fill="none" stroke="#5A62B4" stroke-width="1.15" opacity="0.92"/><path d="M354.27 247.90H360.21M357.24 244.93V250.87" fill="none" stroke="#5A62B4" stroke-width="1.15" opacity="0.92"/><circle cx="357.24" cy="247.90" r="2.97" fill="none" stroke="#5A62B4" stroke-width="1.15" opacity="0.92"/><path d="M357.17 245.47H363.11M360.14 242.50V248.44" fill="none" stroke="#5A62B4" stroke-width="1.15" opacity="0.92"/><circle cx="360.14" cy="245.47" r="2.97" fill="none" stroke="#5A62B4" stroke-width="1.15" opacity="0.92"/><path d="M360.61 243.73H366.55M363.58 240.76V246.70" fill="none" stroke="#5A62B4" stroke-width="1.15" opacity="0.92"/><circle cx="363.58" cy="243.73" r="2.97" fill="none" stroke="#5A62B4" stroke-width="1.15" opacity="0.92"/><path d="M364.09 242.10H370.03M367.06 239.13V245.07" fill="none" stroke="#5A62B4" stroke-width="1.15" opacity="0.92"/><circle cx="367.06" cy="242.10" r="2.97" fill="none" stroke="#5A62B4" stroke-width="1.15" opacity="0.92"/><path d="M367.86 241.30H373.80M370.83 238.33V244.27" fill="none" stroke="#5A62B4" stroke-width="1.15" opacity="0.92"/><circle cx="370.83" cy="241.30" r="2.97" fill="none" stroke="#5A62B4" stroke-width="1.15" opacity="0.92"/><path d="M371.63 240.50H377.57M374.60 237.53V243.47" fill="none" stroke="#5A62B4" stroke-width="1.15" opacity="0.92"/><circle cx="374.60" cy="240.50" r="2.97" fill="none" stroke="#5A62B4" stroke-width="1.15" opacity="0.92"/><path d="M265.10 224.62L268.44 218.81H261.76Z" fill="none" stroke="#8391C4" stroke-width="1.15" opacity="0.92"/><path d="M268.74 227.74L272.08 221.93H265.39Z" fill="none" stroke="#8391C4" stroke-width="1.15" opacity="0.92"/><path d="M272.37 230.86L275.71 225.05H269.03Z" fill="none" stroke="#8391C4" stroke-width="1.15" opacity="0.92"/><path d="M275.71 234.27L279.05 228.46H272.36Z" fill="none" stroke="#8391C4" stroke-width="1.15" opacity="0.92"/><path d="M278.71 238.01L282.05 232.20H275.36Z" fill="none" stroke="#8391C4" stroke-width="1.15" opacity="0.92"/><path d="M281.71 241.74L285.05 235.94H278.36Z" fill="none" stroke="#8391C4" stroke-width="1.15" opacity="0.92"/><path d="M284.71 245.48L288.05 239.67H281.36Z" fill="none" stroke="#8391C4" stroke-width="1.15" opacity="0.92"/><path d="M287.76 249.17L291.11 243.36H284.42Z" fill="none" stroke="#8391C4" stroke-width="1.15" opacity="0.92"/><path d="M290.82 252.86L294.16 247.05H287.48Z" fill="none" stroke="#8391C4" stroke-width="1.15" opacity="0.92"/><path d="M293.88 256.55L297.22 250.74H290.53Z" fill="none" stroke="#8391C4" stroke-width="1.15" opacity="0.92"/><path d="M296.94 260.24L300.28 254.43H293.59Z" fill="none" stroke="#8391C4" stroke-width="1.15" opacity="0.92"/><path d="M300.60 263.25L303.94 257.45H297.26Z" fill="none" stroke="#8391C4" stroke-width="1.15" opacity="0.92"/><path d="M304.59 265.91L307.93 260.10H301.24Z" fill="none" stroke="#8391C4" stroke-width="1.15" opacity="0.92"/><path d="M308.57 268.57L311.92 262.76H305.23Z" fill="none" stroke="#8391C4" stroke-width="1.15" opacity="0.92"/><path d="M312.56 271.23L315.90 265.42H309.22Z" fill="none" stroke="#8391C4" stroke-width="1.15" opacity="0.92"/><path d="M316.34 274.16L319.69 268.35H313.00Z" fill="none" stroke="#8391C4" stroke-width="1.15" opacity="0.92"/><path d="M320.02 277.23L323.36 271.42H316.67Z" fill="none" stroke="#8391C4" stroke-width="1.15" opacity="0.92"/><path d="M323.70 280.30L327.04 274.50H320.35Z" fill="none" stroke="#8391C4" stroke-width="1.15" opacity="0.92"/><path d="M327.37 283.38L330.72 277.57H324.03Z" fill="none" stroke="#8391C4" stroke-width="1.15" opacity="0.92"/><path d="M331.27 286.11L334.62 280.30H327.93Z" fill="none" stroke="#8391C4" stroke-width="1.15" opacity="0.92"/><path d="M335.56 288.25L338.90 282.44H332.21Z" fill="none" stroke="#8391C4" stroke-width="1.15" opacity="0.92"/><path d="M339.84 290.39L343.19 284.58H336.50Z" fill="none" stroke="#8391C4" stroke-width="1.15" opacity="0.92"/><path d="M344.13 292.53L347.47 286.73H340.78Z" fill="none" stroke="#8391C4" stroke-width="1.15" opacity="0.92"/><path d="M348.70 293.85L352.04 288.04H345.35Z" fill="none" stroke="#8391C4" stroke-width="1.15" opacity="0.92"/><path d="M353.40 294.78L356.74 288.97H350.05Z" fill="none" stroke="#8391C4" stroke-width="1.15" opacity="0.92"/><path d="M358.10 295.70L361.44 289.89H354.76Z" fill="none" stroke="#8391C4" stroke-width="1.15" opacity="0.92"/><path d="M362.87 296.14L366.21 290.33H359.52Z" fill="none" stroke="#8391C4" stroke-width="1.15" opacity="0.92"/><path d="M367.64 296.50L370.99 290.69H364.30Z" fill="none" stroke="#8391C4" stroke-width="1.15" opacity="0.92"/><path d="M372.42 296.86L375.77 291.05H369.08Z" fill="none" stroke="#8391C4" stroke-width="1.15" opacity="0.92"/><path d="M377.20 297.22L380.54 291.41H373.86Z" fill="none" stroke="#8391C4" stroke-width="1.15" opacity="0.92"/><path d="M250.10 261.10H256.70M253.40 257.80V264.40M251.02 258.72L255.78 263.48M251.02 263.48L255.78 258.72" fill="none" stroke="#E8412C" stroke-width="1.15" opacity="0.92"/><path d="M254.13 261.63H260.73M257.43 258.33V264.93M255.05 259.26L259.80 264.01M255.05 264.01L259.80 259.26" fill="none" stroke="#E8412C" stroke-width="1.15" opacity="0.92"/><path d="M258.15 262.16H264.75M261.45 258.86V265.46M259.08 259.79L263.83 264.54M259.08 264.54L263.83 259.79" fill="none" stroke="#E8412C" stroke-width="1.15" opacity="0.92"/><path d="M262.09 263.04H268.69M265.39 259.74V266.34M263.01 260.66L267.76 265.42M263.01 265.42L267.76 260.66" fill="none" stroke="#E8412C" stroke-width="1.15" opacity="0.92"/><path d="M265.87 264.51H272.47M269.17 261.21V267.81M266.80 262.14L271.55 266.89M266.80 266.89L271.55 262.14" fill="none" stroke="#E8412C" stroke-width="1.15" opacity="0.92"/><path d="M269.66 265.98H276.26M272.96 262.68V269.28M270.58 263.61L275.33 268.36M270.58 268.36L275.33 263.61" fill="none" stroke="#E8412C" stroke-width="1.15" opacity="0.92"/><path d="M273.43 267.48H280.03M276.73 264.18V270.78M274.36 265.10L279.11 269.85M274.36 269.85L279.11 265.10" fill="none" stroke="#E8412C" stroke-width="1.15" opacity="0.92"/><path d="M276.93 269.53H283.53M280.23 266.23V272.83M277.86 267.16L282.61 271.91M277.86 271.91L282.61 267.16" fill="none" stroke="#E8412C" stroke-width="1.15" opacity="0.92"/><path d="M280.44 271.59H287.04M283.74 268.29V274.89M281.36 269.21L286.11 273.96M281.36 273.96L286.11 269.21" fill="none" stroke="#E8412C" stroke-width="1.15" opacity="0.92"/><path d="M283.93 273.66H290.53M287.23 270.36V276.96M284.85 271.29L289.60 276.04M284.85 276.04L289.60 271.29" fill="none" stroke="#E8412C" stroke-width="1.15" opacity="0.92"/><path d="M287.24 276.01H293.84M290.54 272.71V279.31M288.16 273.64L292.91 278.39M288.16 278.39L292.91 273.64" fill="none" stroke="#E8412C" stroke-width="1.15" opacity="0.92"/><path d="M290.55 278.36H297.15M293.85 275.06V281.66M291.47 275.99L296.22 280.74M291.47 280.74L296.22 275.99" fill="none" stroke="#E8412C" stroke-width="1.15" opacity="0.92"/><path d="M293.86 280.72H300.46M297.16 277.42V284.02M294.78 278.34L299.54 283.09M294.78 283.09L299.54 278.34" fill="none" stroke="#E8412C" stroke-width="1.15" opacity="0.92"/><path d="M297.58 282.30H304.18M300.88 279.00V285.60M298.50 279.93L303.25 284.68M298.50 284.68L303.25 279.93" fill="none" stroke="#E8412C" stroke-width="1.15" opacity="0.92"/><path d="M301.37 283.74H307.97M304.67 280.44V287.04M302.30 281.37L307.05 286.12M302.30 286.12L307.05 281.37" fill="none" stroke="#E8412C" stroke-width="1.15" opacity="0.92"/><path d="M305.17 285.18H311.77M308.47 281.88V288.48M306.10 282.80L310.85 287.56M306.10 287.56L310.85 282.80" fill="none" stroke="#E8412C" stroke-width="1.15" opacity="0.92"/><path d="M308.97 286.62H315.57M312.27 283.32V289.92M309.89 284.24L314.65 288.99M309.89 288.99L314.65 284.24" fill="none" stroke="#E8412C" stroke-width="1.15" opacity="0.92"/><path d="M312.81 287.91H319.41M316.11 284.61V291.21M313.74 285.54L318.49 290.29M313.74 290.29L318.49 285.54" fill="none" stroke="#E8412C" stroke-width="1.15" opacity="0.92"/><path d="M316.73 288.99H323.33M320.03 285.69V292.29M317.65 286.61L322.41 291.36M317.65 291.36L322.41 286.61" fill="none" stroke="#E8412C" stroke-width="1.15" opacity="0.92"/><path d="M320.65 290.06H327.25M323.95 286.76V293.36M321.57 287.68L326.32 292.43M321.57 292.43L326.32 287.68" fill="none" stroke="#E8412C" stroke-width="1.15" opacity="0.92"/><path d="M324.56 291.13H331.16M327.86 287.83V294.43M325.49 288.75L330.24 293.51M325.49 293.51L330.24 288.75" fill="none" stroke="#E8412C" stroke-width="1.15" opacity="0.92"/><path d="M328.48 292.20H335.08M331.78 288.90V295.50M329.40 289.83L334.16 294.58M329.40 294.58L334.16 289.83" fill="none" stroke="#E8412C" stroke-width="1.15" opacity="0.92"/><path d="M332.45 293.03H339.05M335.75 289.73V296.33M333.37 290.65L338.13 295.40M333.37 295.40L338.13 290.65" fill="none" stroke="#E8412C" stroke-width="1.15" opacity="0.92"/><path d="M336.46 293.63H343.06M339.76 290.33V296.93M337.39 291.26L342.14 296.01M337.39 296.01L342.14 291.26" fill="none" stroke="#E8412C" stroke-width="1.15" opacity="0.92"/><path d="M340.48 294.24H347.08M343.78 290.94V297.54M341.40 291.87L346.16 296.62M341.40 296.62L346.16 291.87" fill="none" stroke="#E8412C" stroke-width="1.15" opacity="0.92"/><path d="M344.49 294.85H351.09M347.79 291.55V298.15M345.42 292.48L350.17 297.23M345.42 297.23L350.17 292.48" fill="none" stroke="#E8412C" stroke-width="1.15" opacity="0.92"/><path d="M348.51 295.46H355.11M351.81 292.16V298.76M349.43 293.09L354.19 297.84M349.43 297.84L354.19 293.09" fill="none" stroke="#E8412C" stroke-width="1.15" opacity="0.92"/><path d="M352.53 296.04H359.13M355.83 292.74V299.34M353.45 293.66L358.20 298.42M353.45 298.42L358.20 293.66" fill="none" stroke="#E8412C" stroke-width="1.15" opacity="0.92"/><path d="M356.56 296.54H363.16M359.86 293.24V299.84M357.48 294.16L362.23 298.92M357.48 298.92L362.23 294.16" fill="none" stroke="#E8412C" stroke-width="1.15" opacity="0.92"/><path d="M360.59 297.04H367.19M363.89 293.74V300.34M361.51 294.67L366.26 299.42M361.51 299.42L366.26 294.67" fill="none" stroke="#E8412C" stroke-width="1.15" opacity="0.92"/><path d="M364.62 297.54H371.22M367.92 294.24V300.84M365.54 295.17L370.29 299.92M365.54 299.92L370.29 295.17" fill="none" stroke="#E8412C" stroke-width="1.15" opacity="0.92"/><path d="M368.65 298.05H375.25M371.95 294.75V301.35M369.57 295.67L374.32 300.42M369.57 300.42L374.32 295.67" fill="none" stroke="#E8412C" stroke-width="1.15" opacity="0.92"/><path d="M372.67 298.57H379.27M375.97 295.27V301.87M373.60 296.20L378.35 300.95M373.60 300.95L378.35 296.20" fill="none" stroke="#E8412C" stroke-width="1.15" opacity="0.92"/><path d="M376.70 299.10H383.30M380.00 295.80V302.40M377.62 296.72L382.38 301.48M377.62 301.48L382.38 296.72" fill="none" stroke="#E8412C" stroke-width="1.15" opacity="0.92"/><path d="M262.24 230.14H267.96V235.86H262.24ZL267.96 235.86M262.24 235.86L267.96 230.14" fill="none" stroke="#7FCDB6" stroke-width="1.15" opacity="0.92"/><path d="M265.08 234.21H270.80V239.93H265.08ZL270.80 239.93M265.08 239.93L270.80 234.21" fill="none" stroke="#7FCDB6" stroke-width="1.15" opacity="0.92"/><path d="M267.92 238.29H273.64V244.01H267.92ZL273.64 244.01M267.92 244.01L273.64 238.29" fill="none" stroke="#7FCDB6" stroke-width="1.15" opacity="0.92"/><path d="M270.76 242.36H276.48V248.08H270.76ZL276.48 248.08M270.76 248.08L276.48 242.36" fill="none" stroke="#7FCDB6" stroke-width="1.15" opacity="0.92"/><path d="M274.21 245.90H279.93V251.62H274.21ZL279.93 251.62M274.21 251.62L279.93 245.90" fill="none" stroke="#7FCDB6" stroke-width="1.15" opacity="0.92"/><path d="M277.85 249.27H283.57V254.99H277.85ZL283.57 254.99M277.85 254.99L283.57 249.27" fill="none" stroke="#7FCDB6" stroke-width="1.15" opacity="0.92"/><path d="M281.50 252.64H287.22V258.36H281.50ZL287.22 258.36M281.50 258.36L287.22 252.64" fill="none" stroke="#7FCDB6" stroke-width="1.15" opacity="0.92"/><path d="M285.14 256.01H290.86V261.73H285.14ZL290.86 261.73M285.14 261.73L290.86 256.01" fill="none" stroke="#7FCDB6" stroke-width="1.15" opacity="0.92"/><path d="M288.79 259.38H294.51V265.10H288.79ZL294.51 265.10M288.79 265.10L294.51 259.38" fill="none" stroke="#7FCDB6" stroke-width="1.15" opacity="0.92"/><path d="M292.65 262.48H298.37V268.20H292.65ZL298.37 268.20M292.65 268.20L298.37 262.48" fill="none" stroke="#7FCDB6" stroke-width="1.15" opacity="0.92"/><path d="M296.62 265.47H302.34V271.19H296.62ZL302.34 271.19M296.62 271.19L302.34 265.47" fill="none" stroke="#7FCDB6" stroke-width="1.15" opacity="0.92"/><path d="M300.58 268.46H306.30V274.18H300.58ZL306.30 274.18M300.58 274.18L306.30 268.46" fill="none" stroke="#7FCDB6" stroke-width="1.15" opacity="0.92"/><path d="M304.55 271.45H310.27V277.17H304.55ZL310.27 277.17M304.55 277.17L310.27 271.45" fill="none" stroke="#7FCDB6" stroke-width="1.15" opacity="0.92"/><path d="M308.51 274.43H314.23V280.15H308.51ZL314.23 280.15M308.51 280.15L314.23 274.43" fill="none" stroke="#7FCDB6" stroke-width="1.15" opacity="0.92"/><path d="M312.65 277.14H318.37V282.86H312.65ZL318.37 282.86M312.65 282.86L318.37 277.14" fill="none" stroke="#7FCDB6" stroke-width="1.15" opacity="0.92"/><path d="M317.09 279.36H322.81V285.08H317.09ZL322.81 285.08M317.09 285.08L322.81 279.36" fill="none" stroke="#7FCDB6" stroke-width="1.15" opacity="0.92"/><path d="M321.53 281.58H327.25V287.30H321.53ZL327.25 287.30M321.53 287.30L327.25 281.58" fill="none" stroke="#7FCDB6" stroke-width="1.15" opacity="0.92"/><path d="M325.97 283.80H331.69V289.52H325.97ZL331.69 289.52M325.97 289.52L331.69 283.80" fill="none" stroke="#7FCDB6" stroke-width="1.15" opacity="0.92"/><path d="M330.43 285.96H336.15V291.68H330.43ZL336.15 291.68M330.43 291.68L336.15 285.96" fill="none" stroke="#7FCDB6" stroke-width="1.15" opacity="0.92"/><path d="M335.00 287.91H340.72V293.63H335.00ZL340.72 293.63M335.00 293.63L340.72 287.91" fill="none" stroke="#7FCDB6" stroke-width="1.15" opacity="0.92"/><path d="M339.57 289.86H345.29V295.58H339.57ZL345.29 295.58M339.57 295.58L345.29 289.86" fill="none" stroke="#7FCDB6" stroke-width="1.15" opacity="0.92"/><path d="M344.13 291.81H349.85V297.53H344.13ZL349.85 297.53M344.13 297.53L349.85 291.81" fill="none" stroke="#7FCDB6" stroke-width="1.15" opacity="0.92"/><path d="M348.72 293.70H354.44V299.42H348.72ZL354.44 299.42M348.72 299.42L354.44 293.70" fill="none" stroke="#7FCDB6" stroke-width="1.15" opacity="0.92"/><path d="M353.43 295.28H359.15V301.00H353.43ZL359.15 301.00M353.43 301.00L359.15 295.28" fill="none" stroke="#7FCDB6" stroke-width="1.15" opacity="0.92"/><path d="M358.13 296.86H363.85V302.58H358.13ZL363.85 302.58M358.13 302.58L363.85 296.86" fill="none" stroke="#7FCDB6" stroke-width="1.15" opacity="0.92"/><path d="M362.84 298.44H368.56V304.16H362.84ZL368.56 304.16M362.84 304.16L368.56 298.44" fill="none" stroke="#7FCDB6" stroke-width="1.15" opacity="0.92"/><path d="M367.67 299.57H373.39V305.29H367.67ZL373.39 305.29M367.67 305.29L373.39 299.57" fill="none" stroke="#7FCDB6" stroke-width="1.15" opacity="0.92"/><path d="M372.53 300.59H378.25V306.31H372.53ZL378.25 306.31M372.53 306.31L378.25 300.59" fill="none" stroke="#7FCDB6" stroke-width="1.15" opacity="0.92"/><path d="M377.38 301.62H383.10V307.34H377.38ZL383.10 307.34M377.38 307.34L383.10 301.62" fill="none" stroke="#7FCDB6" stroke-width="1.15" opacity="0.92"/><path d="M382.24 302.64H387.96V308.36H382.24ZL387.96 308.36M382.24 308.36L387.96 302.64" fill="none" stroke="#7FCDB6" stroke-width="1.15" opacity="0.92"/><path d="M217.14 150.14H222.86V155.86H217.14ZM217.14 155.86L220.00 150.14L222.86 155.86" fill="none" stroke="#2E9191" stroke-width="1.15" opacity="0.92"/><path d="M222.78 152.38H228.50V158.10H222.78ZM222.78 158.10L225.64 152.38L228.50 158.10" fill="none" stroke="#2E9191" stroke-width="1.15" opacity="0.92"/><path d="M228.42 154.63H234.14V160.35H228.42ZM228.42 160.35L231.28 154.63L234.14 160.35" fill="none" stroke="#2E9191" stroke-width="1.15" opacity="0.92"/><path d="M234.07 156.87H239.79V162.59H234.07ZM234.07 162.59L236.93 156.87L239.79 162.59" fill="none" stroke="#2E9191" stroke-width="1.15" opacity="0.92"/><path d="M239.71 159.12H245.43V164.84H239.71ZM239.71 164.84L242.57 159.12L245.43 164.84" fill="none" stroke="#2E9191" stroke-width="1.15" opacity="0.92"/><path d="M245.25 161.58H250.97V167.30H245.25ZM245.25 167.30L248.11 161.58L250.97 167.30" fill="none" stroke="#2E9191" stroke-width="1.15" opacity="0.92"/><path d="M250.57 164.50H256.29V170.22H250.57ZM250.57 170.22L253.43 164.50L256.29 170.22" fill="none" stroke="#2E9191" stroke-width="1.15" opacity="0.92"/><path d="M255.89 167.42H261.61V173.14H255.89ZM255.89 173.14L258.75 167.42L261.61 173.14" fill="none" stroke="#2E9191" stroke-width="1.15" opacity="0.92"/><path d="M261.21 170.35H266.93V176.07H261.21ZM261.21 176.07L264.07 170.35L266.93 176.07" fill="none" stroke="#2E9191" stroke-width="1.15" opacity="0.92"/><path d="M266.53 173.27H272.25V178.99H266.53ZM266.53 178.99L269.39 173.27L272.25 178.99" fill="none" stroke="#2E9191" stroke-width="1.15" opacity="0.92"/><path d="M271.97 175.95H277.69V181.67H271.97ZM271.97 181.67L274.83 175.95L277.69 181.67" fill="none" stroke="#2E9191" stroke-width="1.15" opacity="0.92"/><path d="M277.60 178.22H283.32V183.94H277.60ZM277.60 183.94L280.46 178.22L283.32 183.94" fill="none" stroke="#2E9191" stroke-width="1.15" opacity="0.92"/><path d="M283.24 180.48H288.96V186.20H283.24ZM283.24 186.20L286.10 180.48L288.96 186.20" fill="none" stroke="#2E9191" stroke-width="1.15" opacity="0.92"/><path d="M288.87 182.74H294.59V188.46H288.87ZM288.87 188.46L291.73 182.74L294.59 188.46" fill="none" stroke="#2E9191" stroke-width="1.15" opacity="0.92"/><path d="M294.51 185.00H300.23V190.72H294.51ZM294.51 190.72L297.37 185.00L300.23 190.72" fill="none" stroke="#2E9191" stroke-width="1.15" opacity="0.92"/><path d="M300.26 186.94H305.98V192.66H300.26ZM300.26 192.66L303.12 186.94L305.98 192.66" fill="none" stroke="#2E9191" stroke-width="1.15" opacity="0.92"/><path d="M306.06 188.73H311.78V194.45H306.06ZM306.06 194.45L308.92 188.73L311.78 194.45" fill="none" stroke="#2E9191" stroke-width="1.15" opacity="0.92"/><path d="M311.86 190.52H317.58V196.24H311.86ZM311.86 196.24L314.72 190.52L317.58 196.24" fill="none" stroke="#2E9191" stroke-width="1.15" opacity="0.92"/><path d="M317.66 192.32H323.38V198.04H317.66ZM317.66 198.04L320.52 192.32L323.38 198.04" fill="none" stroke="#2E9191" stroke-width="1.15" opacity="0.92"/><path d="M323.38 194.35H329.10V200.07H323.38ZM323.38 200.07L326.24 194.35L329.10 200.07" fill="none" stroke="#2E9191" stroke-width="1.15" opacity="0.92"/><path d="M329.10 196.38H334.82V202.10H329.10ZM329.10 202.10L331.96 196.38L334.82 202.10" fill="none" stroke="#2E9191" stroke-width="1.15" opacity="0.92"/><path d="M334.73 198.63H340.45V204.35H334.73ZM334.73 204.35L337.59 198.63L340.45 204.35" fill="none" stroke="#2E9191" stroke-width="1.15" opacity="0.92"/><path d="M340.17 201.33H345.89V207.05H340.17ZM340.17 207.05L343.03 201.33L345.89 207.05" fill="none" stroke="#2E9191" stroke-width="1.15" opacity="0.92"/><path d="M345.61 204.03H351.33V209.75H345.61ZM345.61 209.75L348.47 204.03L351.33 209.75" fill="none" stroke="#2E9191" stroke-width="1.15" opacity="0.92"/><path d="M351.00 206.83H356.72V212.55H351.00ZM351.00 212.55L353.86 206.83L356.72 212.55" fill="none" stroke="#2E9191" stroke-width="1.15" opacity="0.92"/><path d="M356.32 209.76H362.04V215.48H356.32ZM356.32 215.48L359.18 209.76L362.04 215.48" fill="none" stroke="#2E9191" stroke-width="1.15" opacity="0.92"/><path d="M361.63 212.69H367.35V218.41H361.63ZM361.63 218.41L364.49 212.69L367.35 218.41" fill="none" stroke="#2E9191" stroke-width="1.15" opacity="0.92"/><path d="M366.94 215.63H372.66V221.35H366.94ZM366.94 221.35L369.80 215.63L372.66 221.35" fill="none" stroke="#2E9191" stroke-width="1.15" opacity="0.92"/><path d="M372.24 218.59H377.96V224.31H372.24ZM372.24 224.31L375.10 218.59L377.96 224.31" fill="none" stroke="#2E9191" stroke-width="1.15" opacity="0.92"/><path d="M377.53 221.30H383.25V227.02H377.53ZM377.53 227.02L380.39 221.30L383.25 227.02" fill="none" stroke="#2E9191" stroke-width="1.15" opacity="0.92"/><path d="M382.39 217.67H388.11V223.39H382.39ZM382.39 223.39L385.25 217.67L388.11 223.39" fill="none" stroke="#2E9191" stroke-width="1.15" opacity="0.92"/><path d="M388.14 217.14H393.86V222.86H388.14ZM388.14 222.86L391.00 217.14L393.86 222.86" fill="none" stroke="#2E9191" stroke-width="1.15" opacity="0.92"/><rect x="125.48" y="143.69" width="5.83" height="5.83" fill="#D9573F" opacity="0.92"/><rect x="131.91" y="146.55" width="5.83" height="5.83" fill="#D9573F" opacity="0.92"/><rect x="138.39" y="149.23" width="5.83" height="5.83" fill="#D9573F" opacity="0.92"/><rect x="145.22" y="150.92" width="5.83" height="5.83" fill="#D9573F" opacity="0.92"/><rect x="152.12" y="150.90" width="5.83" height="5.83" fill="#D9573F" opacity="0.92"/><rect x="159.06" y="149.78" width="5.83" height="5.83" fill="#D9573F" opacity="0.92"/><rect x="166.00" y="148.67" width="5.83" height="5.83" fill="#D9573F" opacity="0.92"/><rect x="172.67" y="149.77" width="5.83" height="5.83" fill="#D9573F" opacity="0.92"/><rect x="179.07" y="152.68" width="5.83" height="5.83" fill="#D9573F" opacity="0.92"/><rect x="185.36" y="155.82" width="5.83" height="5.83" fill="#D9573F" opacity="0.92"/><rect x="191.75" y="158.73" width="5.83" height="5.83" fill="#D9573F" opacity="0.92"/><rect x="198.45" y="160.70" width="5.83" height="5.83" fill="#D9573F" opacity="0.92"/><rect x="205.27" y="159.01" width="5.83" height="5.83" fill="#D9573F" opacity="0.92"/><rect x="211.94" y="159.53" width="5.83" height="5.83" fill="#D9573F" opacity="0.92"/><rect x="218.47" y="162.15" width="5.83" height="5.83" fill="#D9573F" opacity="0.92"/><rect x="225.23" y="163.76" width="5.83" height="5.83" fill="#D9573F" opacity="0.92"/><rect x="232.24" y="164.32" width="5.83" height="5.83" fill="#D9573F" opacity="0.92"/><rect x="239.04" y="163.32" width="5.83" height="5.83" fill="#D9573F" opacity="0.92"/><rect x="245.65" y="160.91" width="5.83" height="5.83" fill="#D9573F" opacity="0.92"/><rect x="251.98" y="160.60" width="5.83" height="5.83" fill="#D9573F" opacity="0.92"/><rect x="257.75" y="164.62" width="5.83" height="5.83" fill="#D9573F" opacity="0.92"/><rect x="263.52" y="168.64" width="5.83" height="5.83" fill="#D9573F" opacity="0.92"/><rect x="269.75" y="171.39" width="5.83" height="5.83" fill="#D9573F" opacity="0.92"/><rect x="276.76" y="171.97" width="5.83" height="5.83" fill="#D9573F" opacity="0.92"/><rect x="283.59" y="172.94" width="5.83" height="5.83" fill="#D9573F" opacity="0.92"/><rect x="288.82" y="177.65" width="5.83" height="5.83" fill="#D9573F" opacity="0.92"/><rect x="294.04" y="182.36" width="5.83" height="5.83" fill="#D9573F" opacity="0.92"/><rect x="300.27" y="184.88" width="5.83" height="5.83" fill="#D9573F" opacity="0.92"/><rect x="306.46" y="186.01" width="5.83" height="5.83" fill="#D9573F" opacity="0.92"/><rect x="301.48" y="190.99" width="5.83" height="5.83" fill="#D9573F" opacity="0.92"/><circle cx="116.50" cy="196.70" r="2.86" fill="none" stroke="#EE9A50" stroke-width="1.15" opacity="0.92"/><circle cx="118.42" cy="197.36" r="2.86" fill="none" stroke="#EE9A50" stroke-width="1.15" opacity="0.92"/><circle cx="121.06" cy="198.26" r="2.86" fill="none" stroke="#EE9A50" stroke-width="1.15" opacity="0.92"/><circle cx="124.07" cy="199.29" r="2.86" fill="none" stroke="#EE9A50" stroke-width="1.15" opacity="0.92"/><circle cx="126.96" cy="201.18" r="2.86" fill="none" stroke="#EE9A50" stroke-width="1.15" opacity="0.92"/><circle cx="129.98" cy="203.29" r="2.86" fill="none" stroke="#EE9A50" stroke-width="1.15" opacity="0.92"/><circle cx="133.16" cy="205.51" r="2.86" fill="none" stroke="#EE9A50" stroke-width="1.15" opacity="0.92"/><circle cx="136.48" cy="207.82" r="2.86" fill="none" stroke="#EE9A50" stroke-width="1.15" opacity="0.92"/><circle cx="139.92" cy="210.22" r="2.86" fill="none" stroke="#EE9A50" stroke-width="1.15" opacity="0.92"/><circle cx="143.47" cy="212.69" r="2.86" fill="none" stroke="#EE9A50" stroke-width="1.15" opacity="0.92"/><circle cx="147.12" cy="215.23" r="2.86" fill="none" stroke="#EE9A50" stroke-width="1.15" opacity="0.92"/><circle cx="150.87" cy="217.81" r="2.86" fill="none" stroke="#EE9A50" stroke-width="1.15" opacity="0.92"/><circle cx="155.49" cy="218.45" r="2.86" fill="none" stroke="#EE9A50" stroke-width="1.15" opacity="0.92"/><circle cx="160.20" cy="219.11" r="2.86" fill="none" stroke="#EE9A50" stroke-width="1.15" opacity="0.92"/><circle cx="165.01" cy="219.77" r="2.86" fill="none" stroke="#EE9A50" stroke-width="1.15" opacity="0.92"/><circle cx="169.91" cy="220.46" r="2.86" fill="none" stroke="#EE9A50" stroke-width="1.15" opacity="0.92"/><circle cx="174.89" cy="221.15" r="2.86" fill="none" stroke="#EE9A50" stroke-width="1.15" opacity="0.92"/><circle cx="179.94" cy="221.85" r="2.86" fill="none" stroke="#EE9A50" stroke-width="1.15" opacity="0.92"/><circle cx="185.08" cy="222.56" r="2.86" fill="none" stroke="#EE9A50" stroke-width="1.15" opacity="0.92"/><circle cx="190.28" cy="223.29" r="2.86" fill="none" stroke="#EE9A50" stroke-width="1.15" opacity="0.92"/><circle cx="195.55" cy="224.02" r="2.86" fill="none" stroke="#EE9A50" stroke-width="1.15" opacity="0.92"/><circle cx="200.81" cy="225.15" r="2.86" fill="none" stroke="#EE9A50" stroke-width="1.15" opacity="0.92"/><circle cx="206.03" cy="226.71" r="2.86" fill="none" stroke="#EE9A50" stroke-width="1.15" opacity="0.92"/><circle cx="211.32" cy="228.29" r="2.86" fill="none" stroke="#EE9A50" stroke-width="1.15" opacity="0.92"/><circle cx="216.66" cy="229.89" r="2.86" fill="none" stroke="#EE9A50" stroke-width="1.15" opacity="0.92"/><circle cx="222.06" cy="231.51" r="2.86" fill="none" stroke="#EE9A50" stroke-width="1.15" opacity="0.92"/><circle cx="227.63" cy="232.47" r="2.86" fill="none" stroke="#EE9A50" stroke-width="1.15" opacity="0.92"/><circle cx="233.37" cy="232.81" r="2.86" fill="none" stroke="#EE9A50" stroke-width="1.15" opacity="0.92"/><circle cx="239.16" cy="233.15" r="2.86" fill="none" stroke="#EE9A50" stroke-width="1.15" opacity="0.92"/><circle cx="245.00" cy="233.50" r="2.86" fill="none" stroke="#EE9A50" stroke-width="1.15" opacity="0.92"/><circle cx="62.40" cy="182.20" r="2.15" fill="#4A86C8" opacity="0.92"/><circle cx="63.09" cy="182.01" r="2.15" fill="#4A86C8" opacity="0.92"/><circle cx="64.50" cy="181.61" r="2.15" fill="#4A86C8" opacity="0.92"/><circle cx="66.41" cy="181.08" r="2.15" fill="#4A86C8" opacity="0.92"/><circle cx="68.75" cy="180.42" r="2.15" fill="#4A86C8" opacity="0.92"/><circle cx="71.48" cy="179.66" r="2.15" fill="#4A86C8" opacity="0.92"/><circle cx="74.57" cy="180.36" r="2.15" fill="#4A86C8" opacity="0.92"/><circle cx="77.81" cy="181.61" r="2.15" fill="#4A86C8" opacity="0.92"/><circle cx="80.89" cy="183.92" r="2.15" fill="#4A86C8" opacity="0.92"/><circle cx="83.81" cy="186.83" r="2.15" fill="#4A86C8" opacity="0.92"/><circle cx="86.65" cy="190.23" r="2.15" fill="#4A86C8" opacity="0.92"/><circle cx="89.69" cy="193.83" r="2.15" fill="#4A86C8" opacity="0.92"/><circle cx="92.93" cy="197.61" r="2.15" fill="#4A86C8" opacity="0.92"/><circle cx="96.33" cy="201.57" r="2.15" fill="#4A86C8" opacity="0.92"/><circle cx="101.02" cy="204.35" r="2.15" fill="#4A86C8" opacity="0.92"/><circle cx="106.04" cy="207.09" r="2.15" fill="#4A86C8" opacity="0.92"/><circle cx="111.26" cy="209.93" r="2.15" fill="#4A86C8" opacity="0.92"/><circle cx="116.96" cy="212.31" r="2.15" fill="#4A86C8" opacity="0.92"/><circle cx="122.87" cy="214.77" r="2.15" fill="#4A86C8" opacity="0.92"/><circle cx="129.09" cy="216.92" r="2.15" fill="#4A86C8" opacity="0.92"/><circle cx="135.79" cy="218.26" r="2.15" fill="#4A86C8" opacity="0.92"/><circle cx="142.69" cy="219.64" r="2.15" fill="#4A86C8" opacity="0.92"/><circle cx="149.79" cy="221.06" r="2.15" fill="#4A86C8" opacity="0.92"/><circle cx="157.10" cy="222.43" r="2.15" fill="#4A86C8" opacity="0.92"/><circle cx="164.62" cy="223.76" r="2.15" fill="#4A86C8" opacity="0.92"/><circle cx="172.33" cy="225.12" r="2.15" fill="#4A86C8" opacity="0.92"/><circle cx="180.23" cy="226.51" r="2.15" fill="#4A86C8" opacity="0.92"/><circle cx="188.31" cy="227.94" r="2.15" fill="#4A86C8" opacity="0.92"/><circle cx="196.58" cy="229.40" r="2.15" fill="#4A86C8" opacity="0.92"/><circle cx="205.00" cy="231.00" r="2.15" fill="#4A86C8" opacity="0.92"/><rect x="268.84" y="234.04" width="5.72" height="5.72" fill="none" stroke="#5BA56B" stroke-width="1.15" opacity="0.92"/><rect x="273.57" y="233.37" width="5.72" height="5.72" fill="none" stroke="#5BA56B" stroke-width="1.15" opacity="0.92"/><rect x="278.16" y="232.98" width="5.72" height="5.72" fill="none" stroke="#5BA56B" stroke-width="1.15" opacity="0.92"/><rect x="280.29" y="237.25" width="5.72" height="5.72" fill="none" stroke="#5BA56B" stroke-width="1.15" opacity="0.92"/><rect x="282.43" y="241.52" width="5.72" height="5.72" fill="none" stroke="#5BA56B" stroke-width="1.15" opacity="0.92"/><rect x="285.03" y="245.50" width="5.72" height="5.72" fill="none" stroke="#5BA56B" stroke-width="1.15" opacity="0.92"/><rect x="287.96" y="249.27" width="5.72" height="5.72" fill="none" stroke="#5BA56B" stroke-width="1.15" opacity="0.92"/><rect x="290.90" y="253.04" width="5.72" height="5.72" fill="none" stroke="#5BA56B" stroke-width="1.15" opacity="0.92"/><rect x="294.59" y="254.64" width="5.72" height="5.72" fill="none" stroke="#5BA56B" stroke-width="1.15" opacity="0.92"/><rect x="299.23" y="253.50" width="5.72" height="5.72" fill="none" stroke="#5BA56B" stroke-width="1.15" opacity="0.92"/><rect x="303.72" y="252.06" width="5.72" height="5.72" fill="none" stroke="#5BA56B" stroke-width="1.15" opacity="0.92"/><rect x="307.38" y="248.99" width="5.72" height="5.72" fill="none" stroke="#5BA56B" stroke-width="1.15" opacity="0.92"/><rect x="311.05" y="245.93" width="5.72" height="5.72" fill="none" stroke="#5BA56B" stroke-width="1.15" opacity="0.92"/><rect x="312.99" y="241.56" width="5.72" height="5.72" fill="none" stroke="#5BA56B" stroke-width="1.15" opacity="0.92"/><rect x="314.93" y="237.20" width="5.72" height="5.72" fill="none" stroke="#5BA56B" stroke-width="1.15" opacity="0.92"/><rect x="317.52" y="234.63" width="5.72" height="5.72" fill="none" stroke="#5BA56B" stroke-width="1.15" opacity="0.92"/><rect x="321.78" y="236.79" width="5.72" height="5.72" fill="none" stroke="#5BA56B" stroke-width="1.15" opacity="0.92"/><rect x="326.05" y="238.94" width="5.72" height="5.72" fill="none" stroke="#5BA56B" stroke-width="1.15" opacity="0.92"/><rect x="330.07" y="241.51" width="5.72" height="5.72" fill="none" stroke="#5BA56B" stroke-width="1.15" opacity="0.92"/><rect x="334.04" y="244.17" width="5.72" height="5.72" fill="none" stroke="#5BA56B" stroke-width="1.15" opacity="0.92"/><rect x="337.10" y="247.78" width="5.72" height="5.72" fill="none" stroke="#5BA56B" stroke-width="1.15" opacity="0.92"/><rect x="339.98" y="251.60" width="5.72" height="5.72" fill="none" stroke="#5BA56B" stroke-width="1.15" opacity="0.92"/><rect x="342.92" y="255.35" width="5.72" height="5.72" fill="none" stroke="#5BA56B" stroke-width="1.15" opacity="0.92"/><rect x="346.73" y="258.23" width="5.72" height="5.72" fill="none" stroke="#5BA56B" stroke-width="1.15" opacity="0.92"/><rect x="350.54" y="261.10" width="5.72" height="5.72" fill="none" stroke="#5BA56B" stroke-width="1.15" opacity="0.92"/><rect x="354.42" y="263.88" width="5.72" height="5.72" fill="none" stroke="#5BA56B" stroke-width="1.15" opacity="0.92"/><rect x="358.47" y="266.43" width="5.72" height="5.72" fill="none" stroke="#5BA56B" stroke-width="1.15" opacity="0.92"/><rect x="362.51" y="268.97" width="5.72" height="5.72" fill="none" stroke="#5BA56B" stroke-width="1.15" opacity="0.92"/><rect x="367.02" y="270.27" width="5.72" height="5.72" fill="none" stroke="#5BA56B" stroke-width="1.15" opacity="0.92"/><rect x="371.74" y="271.04" width="5.72" height="5.72" fill="none" stroke="#5BA56B" stroke-width="1.15" opacity="0.92"/><circle cx="94.10" cy="206.00" r="3.30" fill="#D3583B" opacity="0.92"/><circle cx="98.40" cy="206.00" r="3.30" fill="#D3583B" opacity="0.92"/><circle cx="102.71" cy="206.00" r="3.30" fill="#D3583B" opacity="0.92"/><circle cx="107.01" cy="206.00" r="3.30" fill="#D3583B" opacity="0.92"/><circle cx="111.20" cy="205.21" r="3.30" fill="#D3583B" opacity="0.92"/><circle cx="115.32" cy="203.96" r="3.30" fill="#D3583B" opacity="0.92"/><circle cx="119.44" cy="202.72" r="3.30" fill="#D3583B" opacity="0.92"/><circle cx="123.32" cy="203.02" r="3.30" fill="#D3583B" opacity="0.92"/><circle cx="126.90" cy="205.42" r="3.30" fill="#D3583B" opacity="0.92"/><circle cx="130.40" cy="207.91" r="3.30" fill="#D3583B" opacity="0.92"/><circle cx="133.65" cy="210.73" r="3.30" fill="#D3583B" opacity="0.92"/><circle cx="136.90" cy="213.55" r="3.30" fill="#D3583B" opacity="0.92"/><circle cx="140.15" cy="216.37" r="3.30" fill="#D3583B" opacity="0.92"/><circle cx="143.98" cy="218.34" r="3.30" fill="#D3583B" opacity="0.92"/><circle cx="147.82" cy="220.26" r="3.30" fill="#D3583B" opacity="0.92"/><circle cx="151.67" cy="222.19" r="3.30" fill="#D3583B" opacity="0.92"/><circle cx="155.52" cy="224.11" r="3.30" fill="#D3583B" opacity="0.92"/><circle cx="159.75" cy="224.64" r="3.30" fill="#D3583B" opacity="0.92"/><circle cx="164.05" cy="224.93" r="3.30" fill="#D3583B" opacity="0.92"/><circle cx="168.34" cy="225.21" r="3.30" fill="#D3583B" opacity="0.92"/><circle cx="172.63" cy="225.50" r="3.30" fill="#D3583B" opacity="0.92"/><circle cx="176.93" cy="225.78" r="3.30" fill="#D3583B" opacity="0.92"/><circle cx="181.23" cy="226.03" r="3.30" fill="#D3583B" opacity="0.92"/><circle cx="185.52" cy="226.27" r="3.30" fill="#D3583B" opacity="0.92"/><circle cx="189.82" cy="226.52" r="3.30" fill="#D3583B" opacity="0.92"/><circle cx="194.12" cy="226.76" r="3.30" fill="#D3583B" opacity="0.92"/><circle cx="198.40" cy="227.05" r="3.30" fill="#D3583B" opacity="0.92"/><circle cx="202.24" cy="229.00" r="3.30" fill="#D3583B" opacity="0.92"/><circle cx="206.08" cy="230.95" r="3.30" fill="#D3583B" opacity="0.92"/><circle cx="209.92" cy="232.90" r="3.30" fill="#D3583B" opacity="0.92"/><circle cx="213.87" cy="234.57" r="3.30" fill="#D3583B" opacity="0.92"/><circle cx="217.92" cy="236.04" r="3.30" fill="#D3583B" opacity="0.92"/><circle cx="221.96" cy="237.52" r="3.30" fill="#D3583B" opacity="0.92"/><circle cx="226.00" cy="239.00" r="3.30" fill="#D3583B" opacity="0.92"/><path d="M63.70 207.50C68.98 204.98 83.95 197.25 95.40 192.40C106.85 187.55 120.08 182.25 132.40 178.40C144.72 174.55 158.83 171.28 169.30 169.28C179.77 167.28 185.97 166.49 195.20 166.40C204.43 166.31 216.08 166.98 224.70 168.74C233.32 170.50 239.52 173.40 246.90 176.95C254.28 180.50 263.48 186.39 269.00 190.05C274.52 193.71 276.30 195.82 280.00 198.90C283.70 201.99 287.25 205.04 291.20 208.56C295.15 212.07 297.65 216.26 303.70 219.99C309.75 223.71 319.58 227.85 327.50 230.90C335.42 233.96 343.28 236.43 351.20 238.32C359.12 240.21 367.08 240.26 375.00 242.23C382.92 244.20 390.78 247.06 398.70 250.15C406.62 253.24 414.58 257.48 422.50 260.76C430.42 264.05 439.95 267.42 446.20 269.86C452.45 272.29 453.45 272.01 460.00 275.39C466.55 278.77 469.97 282.58 485.50 290.15C501.03 297.72 541.92 315.69 553.20 320.80 L553.20 351.80C541.92 344.54 501.03 318.45 485.50 308.25C469.97 298.05 466.55 294.73 460.00 290.61C453.45 286.49 452.45 286.37 446.20 283.54C439.95 280.72 430.42 277.09 422.50 273.64C414.58 270.19 406.62 266.00 398.70 262.85C390.78 259.71 382.92 256.80 375.00 254.77C367.08 252.74 359.12 252.63 351.20 250.68C343.28 248.74 335.42 246.21 327.50 243.10C319.58 239.99 309.75 235.76 303.70 232.01C297.65 228.27 295.15 224.13 291.20 220.64C287.25 217.16 283.70 214.14 280.00 211.10C276.30 208.05 274.52 205.95 269.00 202.35C263.48 198.74 254.28 192.93 246.90 189.45C239.52 185.97 233.32 183.13 224.70 181.46C216.08 179.78 204.43 178.99 195.20 179.40C185.97 179.81 179.77 181.25 169.30 183.92C158.83 186.59 144.72 189.65 132.40 195.40C120.08 201.15 106.85 210.38 95.40 218.40C83.95 226.42 68.98 239.32 63.70 243.50Z" fill="#999999" fill-opacity="0.45"/><path d="M63.70 225.50C68.98 222.15 83.95 211.83 95.40 205.40C106.85 198.97 120.08 191.70 132.40 186.90C144.72 182.10 158.83 178.93 169.30 176.60C179.77 174.27 185.97 173.15 195.20 172.90C204.43 172.65 216.08 173.38 224.70 175.10C233.32 176.82 239.52 179.68 246.90 183.20C254.28 186.72 263.48 192.57 269.00 196.20C274.52 199.83 276.30 201.93 280.00 205.00C283.70 208.07 287.25 211.10 291.20 214.60C295.15 218.10 297.65 222.27 303.70 226.00C309.75 229.73 319.58 233.92 327.50 237.00C335.42 240.08 343.28 242.58 351.20 244.50C359.12 246.42 367.08 246.50 375.00 248.50C382.92 250.50 390.78 253.38 398.70 256.50C406.62 259.62 414.58 263.83 422.50 267.20C430.42 270.57 439.95 274.07 446.20 276.70C452.45 279.33 453.45 279.25 460.00 283.00C466.55 286.75 469.97 290.32 485.50 299.20C501.03 308.08 541.92 330.12 553.20 336.30" fill="none" stroke="#7FA0DE" stroke-width="3.1" stroke-linejoin="round"/><path d="M39.0 29.4V367.0H577.8" fill="none" stroke="#1a1a1a" stroke-width="1.8"/><path d="M35.6 325.3H39.0" stroke="#2a2a2a" stroke-width="1.6"/><text x="32.5" y="329.5" font-size="12.9" fill="#4D4D4D" text-anchor="end">0</text><path d="M35.6 254.6H39.0" stroke="#2a2a2a" stroke-width="1.6"/><text x="32.5" y="258.8" font-size="12.9" fill="#4D4D4D" text-anchor="end">10</text><path d="M35.6 183.9H39.0" stroke="#2a2a2a" stroke-width="1.6"/><text x="32.5" y="188.1" font-size="12.9" fill="#4D4D4D" text-anchor="end">20</text><path d="M35.6 113.2H39.0" stroke="#2a2a2a" stroke-width="1.6"/><text x="32.5" y="117.4" font-size="12.9" fill="#4D4D4D" text-anchor="end">30</text><path d="M35.6 42.5H39.0" stroke="#2a2a2a" stroke-width="1.6"/><text x="32.5" y="46.7" font-size="12.9" fill="#4D4D4D" text-anchor="end">40</text><path d="M190.4 367.0V370.6" stroke="#2a2a2a" stroke-width="1.6"/><text x="190.4" y="382.8" font-size="12.9" fill="#4D4D4D" text-anchor="middle">0.4</text><path d="M342.4 367.0V370.6" stroke="#2a2a2a" stroke-width="1.6"/><text x="342.4" y="382.8" font-size="12.9" fill="#4D4D4D" text-anchor="middle">0.6</text><path d="M494.4 367.0V370.6" stroke="#2a2a2a" stroke-width="1.6"/><text x="494.4" y="382.8" font-size="12.9" fill="#4D4D4D" text-anchor="middle">0.8</text><text x="308.3" y="399.6" font-size="15.2" fill="#111" text-anchor="middle">SDI</text><text transform="translate(12.6 198.2) rotate(-90)" font-size="15" fill="#111" text-anchor="middle">Death rate (per 100,000)</text><text x="5.5" y="15.8" font-size="20" fill="#111">(A) Total PM<tspan font-size="13.5" dy="4">2.5</tspan><tspan dy="-4"> pollution</tspan></text><circle cx="602.90" cy="103.50" r="2.47" fill="none" stroke="#F07F6A" stroke-width="1.15"/><text x="613.5" y="107.4" font-size="10.8" fill="#1e1e1e">Global</text><path d="M602.90 110.11L606.24 115.92H599.56Z" fill="none" stroke="#5CC4DB" stroke-width="1.15"/><text x="613.5" y="117.5" font-size="10.8" fill="#1e1e1e">High−income Asia Pacific</text><path d="M599.27 123.76H606.53M602.90 120.13V127.39" fill="none" stroke="#3D9E7E" stroke-width="1.15"/><text x="613.5" y="127.7" font-size="10.8" fill="#1e1e1e">High−income North America</text><path d="M600.40 131.39L605.40 136.39M600.40 136.39L605.40 131.39" fill="none" stroke="#434C8E" stroke-width="1.15"/><text x="613.5" y="137.8" font-size="10.8" fill="#1e1e1e">Western Europe</text><path d="M602.90 140.39L606.53 144.02L602.90 147.65L599.27 144.02Z" fill="none" stroke="#F5A08A" stroke-width="1.15"/><text x="613.5" y="147.9" font-size="10.8" fill="#1e1e1e">Australasia</text><path d="M602.90 157.67L606.24 151.86H599.56Z" fill="none" stroke="#8391C4" stroke-width="1.15"/><text x="613.5" y="158.1" font-size="10.8" fill="#1e1e1e">Andean Latin America</text><path d="M600.30 161.68H605.50V166.88H600.30ZL605.50 166.88M600.30 166.88L605.50 161.68" fill="none" stroke="#7FCDB6" stroke-width="1.15"/><text x="613.5" y="168.2" font-size="10.8" fill="#1e1e1e">Tropical Latin America</text><path d="M599.60 174.41H606.20M602.90 171.11V177.71M600.52 172.03L605.28 176.79M600.52 176.79L605.28 172.03" fill="none" stroke="#E8412C" stroke-width="1.15"/><text x="613.5" y="178.3" font-size="10.8" fill="#1e1e1e">Central Latin America</text><path d="M602.90 180.91L606.53 184.54L602.90 188.17L599.27 184.54ZM599.27 184.54H606.53M602.90 180.91V188.17" fill="none" stroke="#8A6A50" stroke-width="1.15"/><text x="613.5" y="188.4" font-size="10.8" fill="#1e1e1e">Southern Latin America</text><path d="M600.20 194.67H605.60M602.90 191.97V197.37" fill="none" stroke="#5A62B4" stroke-width="1.15"/><circle cx="602.90" cy="194.67" r="2.70" fill="none" stroke="#5A62B4" stroke-width="1.15"/><text x="613.5" y="198.6" font-size="10.8" fill="#1e1e1e">Caribbean</text><path d="M602.90 200.95L606.37 206.73H599.43ZM602.90 208.65L606.37 202.88H599.43Z" fill="none" stroke="#E8523E" stroke-width="1.15"/><text x="613.5" y="208.7" font-size="10.8" fill="#1e1e1e">Central Europe</text><path d="M600.30 212.33H605.50V217.53H600.30ZM600.30 214.93H605.50M602.90 212.33V217.53" fill="none" stroke="#4F9E5A" stroke-width="1.15"/><text x="613.5" y="218.8" font-size="10.8" fill="#1e1e1e">Eastern Europe</text><path d="M600.30 222.46H605.50V227.66H600.30ZM600.30 222.46L605.50 227.66M600.30 227.66L605.50 222.46M600.30 225.06H605.50M602.90 222.46V227.66" fill="none" stroke="#6E3F9E" stroke-width="0.92"/><text x="613.5" y="229.0" font-size="10.8" fill="#1e1e1e">Central Asia</text><path d="M600.30 232.59H605.50V237.79H600.30ZM600.30 237.79L602.90 232.59L605.50 237.79" fill="none" stroke="#2E9191" stroke-width="1.15"/><text x="613.5" y="239.1" font-size="10.8" fill="#1e1e1e">North Africa and Middle East</text><rect x="600.25" y="242.67" width="5.30" height="5.30" fill="#D9573F"/><text x="613.5" y="249.2" font-size="10.8" fill="#1e1e1e">South Asia</text><circle cx="602.90" cy="255.45" r="2.75" fill="#7E73C0"/><text x="613.5" y="259.4" font-size="10.8" fill="#1e1e1e">Southeast Asia</text><path d="M602.90 261.80L606.68 268.23H599.12Z" fill="#B04F7B"/><text x="613.5" y="269.5" font-size="10.8" fill="#1e1e1e">East Asia</text><path d="M602.90 272.81L605.80 275.71L602.90 278.61L600.00 275.71Z" fill="#8E8E8E"/><text x="613.5" y="279.6" font-size="10.8" fill="#1e1e1e">Oceania</text><circle cx="602.90" cy="285.84" r="3.15" fill="#D3583B"/><text x="613.5" y="289.7" font-size="10.8" fill="#1e1e1e">Western Sub−Saharan Africa</text><circle cx="602.90" cy="295.97" r="2.15" fill="#4A86C8"/><text x="613.5" y="299.9" font-size="10.8" fill="#1e1e1e">Eastern Sub−Saharan Africa</text><circle cx="602.90" cy="306.10" r="2.47" fill="none" stroke="#EE9A50" stroke-width="1.15"/><text x="613.5" y="310.0" font-size="10.8" fill="#1e1e1e">Central Sub−Saharan Africa</text><rect x="600.30" y="313.63" width="5.20" height="5.20" fill="none" stroke="#5BA56B" stroke-width="1.15"/><text x="613.5" y="320.1" font-size="10.8" fill="#1e1e1e">Southern Sub−Saharan Africa</text><circle cx="292.70" cy="660.00" r="2.86" fill="none" stroke="#F07F6A" stroke-width="1.15" opacity="0.92"/><circle cx="296.60" cy="660.14" r="2.86" fill="none" stroke="#F07F6A" stroke-width="1.15" opacity="0.92"/><circle cx="300.50" cy="660.27" r="2.86" fill="none" stroke="#F07F6A" stroke-width="1.15" opacity="0.92"/><circle cx="304.40" cy="660.41" r="2.86" fill="none" stroke="#F07F6A" stroke-width="1.15" opacity="0.92"/><circle cx="308.30" cy="660.54" r="2.86" fill="none" stroke="#F07F6A" stroke-width="1.15" opacity="0.92"/><circle cx="312.20" cy="660.68" r="2.86" fill="none" stroke="#F07F6A" stroke-width="1.15" opacity="0.92"/><circle cx="316.10" cy="660.81" r="2.86" fill="none" stroke="#F07F6A" stroke-width="1.15" opacity="0.92"/><circle cx="320.00" cy="660.95" r="2.86" fill="none" stroke="#F07F6A" stroke-width="1.15" opacity="0.92"/><circle cx="323.90" cy="661.08" r="2.86" fill="none" stroke="#F07F6A" stroke-width="1.15" opacity="0.92"/><circle cx="327.80" cy="660.98" r="2.86" fill="none" stroke="#F07F6A" stroke-width="1.15" opacity="0.92"/><circle cx="331.70" cy="660.85" r="2.86" fill="none" stroke="#F07F6A" stroke-width="1.15" opacity="0.92"/><circle cx="335.60" cy="660.71" r="2.86" fill="none" stroke="#F07F6A" stroke-width="1.15" opacity="0.92"/><circle cx="339.50" cy="660.57" r="2.86" fill="none" stroke="#F07F6A" stroke-width="1.15" opacity="0.92"/><circle cx="343.40" cy="660.44" r="2.86" fill="none" stroke="#F07F6A" stroke-width="1.15" opacity="0.92"/><circle cx="347.30" cy="660.30" r="2.86" fill="none" stroke="#F07F6A" stroke-width="1.15" opacity="0.92"/><circle cx="351.20" cy="660.17" r="2.86" fill="none" stroke="#F07F6A" stroke-width="1.15" opacity="0.92"/><circle cx="355.10" cy="660.03" r="2.86" fill="none" stroke="#F07F6A" stroke-width="1.15" opacity="0.92"/><circle cx="358.88" cy="659.14" r="2.86" fill="none" stroke="#F07F6A" stroke-width="1.15" opacity="0.92"/><circle cx="362.62" cy="658.02" r="2.86" fill="none" stroke="#F07F6A" stroke-width="1.15" opacity="0.92"/><circle cx="366.36" cy="656.91" r="2.86" fill="none" stroke="#F07F6A" stroke-width="1.15" opacity="0.92"/><circle cx="370.10" cy="655.79" r="2.86" fill="none" stroke="#F07F6A" stroke-width="1.15" opacity="0.92"/><circle cx="373.84" cy="654.67" r="2.86" fill="none" stroke="#F07F6A" stroke-width="1.15" opacity="0.92"/><circle cx="377.42" cy="654.08" r="2.86" fill="none" stroke="#F07F6A" stroke-width="1.15" opacity="0.92"/><circle cx="379.91" cy="657.09" r="2.86" fill="none" stroke="#F07F6A" stroke-width="1.15" opacity="0.92"/><circle cx="383.61" cy="658.27" r="2.86" fill="none" stroke="#F07F6A" stroke-width="1.15" opacity="0.92"/><circle cx="387.35" cy="659.37" r="2.86" fill="none" stroke="#F07F6A" stroke-width="1.15" opacity="0.92"/><circle cx="391.09" cy="660.48" r="2.86" fill="none" stroke="#F07F6A" stroke-width="1.15" opacity="0.92"/><circle cx="391.90" cy="660.00" r="2.86" fill="none" stroke="#F07F6A" stroke-width="1.15" opacity="0.92"/><path d="M243.90 680.34L247.86 687.07H239.94Z" fill="#B04F7B" opacity="0.92"/><path d="M251.12 680.17L255.08 686.90H247.16Z" fill="#B04F7B" opacity="0.92"/><path d="M258.33 679.86L262.29 686.59H254.37Z" fill="#B04F7B" opacity="0.92"/><path d="M265.50 679.03L269.46 685.76H261.54Z" fill="#B04F7B" opacity="0.92"/><path d="M272.64 677.94L276.60 684.68H268.68Z" fill="#B04F7B" opacity="0.92"/><path d="M279.76 677.26L283.72 683.99H275.80Z" fill="#B04F7B" opacity="0.92"/><path d="M286.77 676.67L290.73 683.41H282.81Z" fill="#B04F7B" opacity="0.92"/><path d="M293.41 673.85L297.37 680.58H289.45Z" fill="#B04F7B" opacity="0.92"/><path d="M300.06 671.02L304.02 677.75H296.10Z" fill="#B04F7B" opacity="0.92"/><path d="M306.87 668.63L310.83 675.37H302.91Z" fill="#B04F7B" opacity="0.92"/><path d="M313.69 666.25L317.65 672.98H309.73Z" fill="#B04F7B" opacity="0.92"/><path d="M320.50 663.84L324.46 670.57H316.54Z" fill="#B04F7B" opacity="0.92"/><path d="M327.20 661.16L331.16 667.89H323.24Z" fill="#B04F7B" opacity="0.92"/><path d="M333.91 658.48L337.87 665.21H329.95Z" fill="#B04F7B" opacity="0.92"/><path d="M340.63 655.86L344.59 662.59H336.67Z" fill="#B04F7B" opacity="0.92"/><path d="M347.57 653.86L351.53 660.60H343.61Z" fill="#B04F7B" opacity="0.92"/><path d="M354.51 651.87L358.47 658.60H350.55Z" fill="#B04F7B" opacity="0.92"/><path d="M361.00 648.90L364.96 655.63H357.04Z" fill="#B04F7B" opacity="0.92"/><path d="M367.00 644.88L370.96 651.61H363.04Z" fill="#B04F7B" opacity="0.92"/><path d="M373.25 641.32L377.21 648.05H369.29Z" fill="#B04F7B" opacity="0.92"/><path d="M379.91 638.53L383.87 645.27H375.95Z" fill="#B04F7B" opacity="0.92"/><path d="M386.57 635.75L390.53 642.48H382.61Z" fill="#B04F7B" opacity="0.92"/><path d="M392.62 631.81L396.58 638.54H388.66Z" fill="#B04F7B" opacity="0.92"/><path d="M399.18 630.30L403.14 637.03H395.22Z" fill="#B04F7B" opacity="0.92"/><path d="M405.98 632.39L409.94 639.12H402.02Z" fill="#B04F7B" opacity="0.92"/><path d="M412.02 636.32L415.98 643.05H408.06Z" fill="#B04F7B" opacity="0.92"/><path d="M417.76 640.67L421.72 647.40H413.80Z" fill="#B04F7B" opacity="0.92"/><path d="M424.21 643.90L428.17 650.63H420.25Z" fill="#B04F7B" opacity="0.92"/><path d="M431.03 646.26L434.99 652.99H427.07Z" fill="#B04F7B" opacity="0.92"/><path d="M438.00 648.14L441.96 654.87H434.04Z" fill="#B04F7B" opacity="0.92"/><circle cx="238.80" cy="657.80" r="3.03" fill="#7E73C0" opacity="0.92"/><circle cx="244.20" cy="656.35" r="3.03" fill="#7E73C0" opacity="0.92"/><circle cx="249.59" cy="654.90" r="3.03" fill="#7E73C0" opacity="0.92"/><circle cx="254.95" cy="653.30" r="3.03" fill="#7E73C0" opacity="0.92"/><circle cx="260.29" cy="651.67" r="3.03" fill="#7E73C0" opacity="0.92"/><circle cx="265.62" cy="650.00" r="3.03" fill="#7E73C0" opacity="0.92"/><circle cx="270.95" cy="648.30" r="3.03" fill="#7E73C0" opacity="0.92"/><circle cx="276.32" cy="646.81" r="3.03" fill="#7E73C0" opacity="0.92"/><circle cx="281.80" cy="645.69" r="3.03" fill="#7E73C0" opacity="0.92"/><circle cx="287.27" cy="644.57" r="3.03" fill="#7E73C0" opacity="0.92"/><circle cx="292.71" cy="643.30" r="3.03" fill="#7E73C0" opacity="0.92"/><circle cx="298.14" cy="641.97" r="3.03" fill="#7E73C0" opacity="0.92"/><circle cx="303.62" cy="641.49" r="3.03" fill="#7E73C0" opacity="0.92"/><circle cx="309.08" cy="642.53" r="3.03" fill="#7E73C0" opacity="0.92"/><circle cx="314.34" cy="644.43" r="3.03" fill="#7E73C0" opacity="0.92"/><circle cx="319.63" cy="646.20" r="3.03" fill="#7E73C0" opacity="0.92"/><circle cx="325.10" cy="647.35" r="3.03" fill="#7E73C0" opacity="0.92"/><circle cx="330.57" cy="648.50" r="3.03" fill="#7E73C0" opacity="0.92"/><circle cx="336.03" cy="649.65" r="3.03" fill="#7E73C0" opacity="0.92"/><circle cx="341.47" cy="648.85" r="3.03" fill="#7E73C0" opacity="0.92"/><circle cx="346.89" cy="647.51" r="3.03" fill="#7E73C0" opacity="0.92"/><circle cx="352.32" cy="646.17" r="3.03" fill="#7E73C0" opacity="0.92"/><circle cx="357.48" cy="644.06" r="3.03" fill="#7E73C0" opacity="0.92"/><circle cx="362.61" cy="641.84" r="3.03" fill="#7E73C0" opacity="0.92"/><circle cx="367.74" cy="639.62" r="3.03" fill="#7E73C0" opacity="0.92"/><circle cx="372.98" cy="637.78" r="3.03" fill="#7E73C0" opacity="0.92"/><circle cx="378.51" cy="636.96" r="3.03" fill="#7E73C0" opacity="0.92"/><circle cx="384.03" cy="636.14" r="3.03" fill="#7E73C0" opacity="0.92"/><circle cx="389.52" cy="635.10" r="3.03" fill="#7E73C0" opacity="0.92"/><circle cx="395.00" cy="634.00" r="3.03" fill="#7E73C0" opacity="0.92"/><path d="M182.90 685.21L186.09 688.40L182.90 691.59L179.71 688.40Z" fill="#8E8E8E" opacity="0.92"/><path d="M185.82 685.07L189.01 688.26L185.82 691.45L182.63 688.26Z" fill="#8E8E8E" opacity="0.92"/><path d="M188.73 684.93L191.92 688.12L188.73 691.31L185.54 688.12Z" fill="#8E8E8E" opacity="0.92"/><path d="M191.65 684.80L194.84 687.99L191.65 691.18L188.46 687.99Z" fill="#8E8E8E" opacity="0.92"/><path d="M194.56 684.66L197.75 687.85L194.56 691.04L191.37 687.85Z" fill="#8E8E8E" opacity="0.92"/><path d="M197.48 684.52L200.67 687.71L197.48 690.90L194.29 687.71Z" fill="#8E8E8E" opacity="0.92"/><path d="M199.82 682.85L203.01 686.04L199.82 689.23L196.63 686.04Z" fill="#8E8E8E" opacity="0.92"/><path d="M202.12 681.04L205.31 684.23L202.12 687.42L198.93 684.23Z" fill="#8E8E8E" opacity="0.92"/><path d="M204.42 679.24L207.61 682.43L204.42 685.62L201.23 682.43Z" fill="#8E8E8E" opacity="0.92"/><path d="M206.71 677.44L209.90 680.63L206.71 683.82L203.52 680.63Z" fill="#8E8E8E" opacity="0.92"/><path d="M208.98 677.41L212.17 680.60L208.98 683.79L205.79 680.60Z" fill="#8E8E8E" opacity="0.92"/><path d="M211.22 679.29L214.41 682.48L211.22 685.67L208.03 682.48Z" fill="#8E8E8E" opacity="0.92"/><path d="M213.48 681.11L216.67 684.30L213.48 687.49L210.29 684.30Z" fill="#8E8E8E" opacity="0.92"/><path d="M216.40 681.11L219.59 684.30L216.40 687.49L213.21 684.30Z" fill="#8E8E8E" opacity="0.92"/><path d="M219.31 681.11L222.50 684.30L219.31 687.49L216.12 684.30Z" fill="#8E8E8E" opacity="0.92"/><path d="M222.23 681.11L225.42 684.30L222.23 687.49L219.04 684.30Z" fill="#8E8E8E" opacity="0.92"/><path d="M225.12 680.81L228.31 684.00L225.12 687.19L221.93 684.00Z" fill="#8E8E8E" opacity="0.92"/><path d="M227.99 680.25L231.18 683.44L227.99 686.63L224.80 683.44Z" fill="#8E8E8E" opacity="0.92"/><path d="M230.85 679.69L234.04 682.88L230.85 686.07L227.66 682.88Z" fill="#8E8E8E" opacity="0.92"/><path d="M233.70 679.05L236.89 682.24L233.70 685.43L230.51 682.24Z" fill="#8E8E8E" opacity="0.92"/><path d="M236.50 678.23L239.69 681.42L236.50 684.61L233.31 681.42Z" fill="#8E8E8E" opacity="0.92"/><path d="M239.30 677.41L242.49 680.60L239.30 683.79L236.11 680.60Z" fill="#8E8E8E" opacity="0.92"/><path d="M312.74 566.84H318.46V572.56H312.74ZM312.74 566.84L318.46 572.56M312.74 572.56L318.46 566.84M312.74 569.70H318.46M315.60 566.84V572.56" fill="none" stroke="#6E3F9E" stroke-width="0.92" opacity="0.92"/><path d="M311.14 570.64H316.86V576.36H311.14ZM311.14 570.64L316.86 576.36M311.14 576.36L316.86 570.64M311.14 573.50H316.86M314.00 570.64V576.36" fill="none" stroke="#6E3F9E" stroke-width="0.92" opacity="0.92"/><path d="M315.84 573.84H321.56V579.56H315.84ZM315.84 573.84L321.56 579.56M315.84 579.56L321.56 573.84M315.84 576.70H321.56M318.70 573.84V579.56" fill="none" stroke="#6E3F9E" stroke-width="0.92" opacity="0.92"/><path d="M308.64 578.54H314.36V584.26H308.64ZM308.64 578.54L314.36 584.26M308.64 584.26L314.36 578.54M308.64 581.40H314.36M311.50 578.54V584.26" fill="none" stroke="#6E3F9E" stroke-width="0.92" opacity="0.92"/><path d="M309.24 579.74H314.96V585.46H309.24ZM309.24 579.74L314.96 585.46M309.24 585.46L314.96 579.74M309.24 582.60H314.96M312.10 579.74V585.46" fill="none" stroke="#6E3F9E" stroke-width="0.92" opacity="0.92"/><path d="M306.64 590.34H312.36V596.06H306.64ZM306.64 590.34L312.36 596.06M306.64 596.06L312.36 590.34M306.64 593.20H312.36M309.50 590.34V596.06" fill="none" stroke="#6E3F9E" stroke-width="0.92" opacity="0.92"/><path d="M318.54 589.04H324.26V594.76H318.54ZM318.54 589.04L324.26 594.76M318.54 594.76L324.26 589.04M318.54 591.90H324.26M321.40 589.04V594.76" fill="none" stroke="#6E3F9E" stroke-width="0.92" opacity="0.92"/><path d="M305.34 598.24H311.06V603.96H305.34ZM305.34 598.24L311.06 603.96M305.34 603.96L311.06 598.24M305.34 601.10H311.06M308.20 598.24V603.96" fill="none" stroke="#6E3F9E" stroke-width="0.92" opacity="0.92"/><path d="M304.04 604.84H309.76V610.56H304.04ZM304.04 604.84L309.76 610.56M304.04 610.56L309.76 604.84M304.04 607.70H309.76M306.90 604.84V610.56" fill="none" stroke="#6E3F9E" stroke-width="0.92" opacity="0.92"/><path d="M319.84 602.24H325.56V607.96H319.84ZM319.84 602.24L325.56 607.96M319.84 607.96L325.56 602.24M319.84 605.10H325.56M322.70 602.24V607.96" fill="none" stroke="#6E3F9E" stroke-width="0.92" opacity="0.92"/><path d="M323.74 611.44H329.46V617.16H323.74ZM323.74 611.44L329.46 617.16M323.74 617.16L329.46 611.44M323.74 614.30H329.46M326.60 611.44V617.16" fill="none" stroke="#6E3F9E" stroke-width="0.92" opacity="0.92"/><path d="M327.64 614.14H333.36V619.86H327.64ZM327.64 614.14L333.36 619.86M327.64 619.86L333.36 614.14M327.64 617.00H333.36M330.50 614.14V619.86" fill="none" stroke="#6E3F9E" stroke-width="0.92" opacity="0.92"/><path d="M331.74 616.74H337.46V622.46H331.74ZM331.74 616.74L337.46 622.46M331.74 622.46L337.46 616.74M331.74 619.60H337.46M334.60 616.74V622.46" fill="none" stroke="#6E3F9E" stroke-width="0.92" opacity="0.92"/><path d="M336.14 618.14H341.86V623.86H336.14ZM336.14 618.14L341.86 623.86M336.14 623.86L341.86 618.14M336.14 621.00H341.86M339.00 618.14V623.86" fill="none" stroke="#6E3F9E" stroke-width="0.92" opacity="0.92"/><path d="M340.94 619.34H346.66V625.06H340.94ZM340.94 619.34L346.66 625.06M340.94 625.06L346.66 619.34M340.94 622.20H346.66M343.80 619.34V625.06" fill="none" stroke="#6E3F9E" stroke-width="0.92" opacity="0.92"/><path d="M344.14 617.14H349.86V622.86H344.14ZM344.14 617.14L349.86 622.86M344.14 622.86L349.86 617.14M344.14 620.00H349.86M347.00 617.14V622.86" fill="none" stroke="#6E3F9E" stroke-width="0.92" opacity="0.92"/><path d="M347.54 614.04H353.26V619.76H347.54ZM347.54 614.04L353.26 619.76M347.54 619.76L353.26 614.04M347.54 616.90H353.26M350.40 614.04V619.76" fill="none" stroke="#6E3F9E" stroke-width="0.92" opacity="0.92"/><path d="M351.14 609.14H356.86V614.86H351.14ZM351.14 609.14L356.86 614.86M351.14 614.86L356.86 609.14M351.14 612.00H356.86M354.00 609.14V614.86" fill="none" stroke="#6E3F9E" stroke-width="0.92" opacity="0.92"/><path d="M355.44 604.84H361.16V610.56H355.44ZM355.44 604.84L361.16 610.56M355.44 610.56L361.16 604.84M355.44 607.70H361.16M358.30 604.84V610.56" fill="none" stroke="#6E3F9E" stroke-width="0.92" opacity="0.92"/><path d="M360.14 603.64H365.86V609.36H360.14ZM360.14 603.64L365.86 609.36M360.14 609.36L365.86 603.64M360.14 606.50H365.86M363.00 603.64V609.36" fill="none" stroke="#6E3F9E" stroke-width="0.92" opacity="0.92"/><path d="M366.04 603.54H371.76V609.26H366.04ZM366.04 603.54L371.76 609.26M366.04 609.26L371.76 603.54M366.04 606.40H371.76M368.90 603.54V609.26" fill="none" stroke="#6E3F9E" stroke-width="0.92" opacity="0.92"/><path d="M371.14 602.14H376.86V607.86H371.14ZM371.14 602.14L376.86 607.86M371.14 607.86L376.86 602.14M371.14 605.00H376.86M374.00 602.14V607.86" fill="none" stroke="#6E3F9E" stroke-width="0.92" opacity="0.92"/><path d="M376.54 600.84H382.26V606.56H376.54ZM376.54 600.84L382.26 606.56M376.54 606.56L382.26 600.84M376.54 603.70H382.26M379.40 600.84V606.56" fill="none" stroke="#6E3F9E" stroke-width="0.92" opacity="0.92"/><path d="M381.84 606.14H387.56V611.86H381.84ZM381.84 606.14L387.56 611.86M381.84 611.86L387.56 606.14M381.84 609.00H387.56M384.70 606.14V611.86" fill="none" stroke="#6E3F9E" stroke-width="0.92" opacity="0.92"/><path d="M387.14 616.74H392.86V622.46H387.14ZM387.14 616.74L392.86 622.46M387.14 622.46L392.86 616.74M387.14 619.60H392.86M390.00 616.74V622.46" fill="none" stroke="#6E3F9E" stroke-width="0.92" opacity="0.92"/><path d="M382.44 603.14H388.16V608.86H382.44ZM382.44 603.14L388.16 608.86M382.44 608.86L388.16 603.14M382.44 606.00H388.16M385.30 603.14V608.86" fill="none" stroke="#6E3F9E" stroke-width="0.92" opacity="0.92"/><path d="M387.74 613.64H393.46V619.36H387.74ZM387.74 613.64L393.46 619.36M387.74 619.36L393.46 613.64M387.74 616.50H393.46M390.60 613.64V619.36" fill="none" stroke="#6E3F9E" stroke-width="0.92" opacity="0.92"/><path d="M392.94 626.84H398.66V632.56H392.94ZM392.94 626.84L398.66 632.56M392.94 632.56L398.66 626.84M392.94 629.70H398.66M395.80 626.84V632.56" fill="none" stroke="#6E3F9E" stroke-width="0.92" opacity="0.92"/><path d="M396.94 634.74H402.66V640.46H396.94ZM396.94 634.74L402.66 640.46M396.94 640.46L402.66 634.74M396.94 637.60H402.66M399.80 634.74V640.46" fill="none" stroke="#6E3F9E" stroke-width="0.92" opacity="0.92"/><path d="M392.44 627.24H398.16V632.96H392.44ZM392.44 627.24L398.16 632.96M392.44 632.96L398.16 627.24M392.44 630.10H398.16M395.30 627.24V632.96" fill="none" stroke="#6E3F9E" stroke-width="0.92" opacity="0.92"/><path d="M370.00 579.15L373.46 584.92H366.54ZM370.00 586.85L373.46 581.08H366.54Z" fill="none" stroke="#E8523E" stroke-width="1.15" opacity="0.92"/><path d="M375.62 579.43L379.09 585.21H372.16ZM375.62 587.13L379.09 581.36H372.16Z" fill="none" stroke="#E8523E" stroke-width="1.15" opacity="0.92"/><path d="M380.78 580.62L384.25 586.40H377.32ZM380.78 588.32L384.25 582.55H377.32Z" fill="none" stroke="#E8523E" stroke-width="1.15" opacity="0.92"/><path d="M384.31 585.01L387.77 590.79H380.84ZM384.31 592.71L387.77 586.94H380.84Z" fill="none" stroke="#E8523E" stroke-width="1.15" opacity="0.92"/><path d="M387.83 589.41L391.30 595.18H384.37ZM387.83 597.11L391.30 591.33H384.37Z" fill="none" stroke="#E8523E" stroke-width="1.15" opacity="0.92"/><path d="M391.68 593.41L395.14 599.18H388.21ZM391.68 601.11L395.14 595.33H388.21Z" fill="none" stroke="#E8523E" stroke-width="1.15" opacity="0.92"/><path d="M396.42 596.32L399.88 602.09H392.95ZM396.42 604.02L399.88 598.24H392.95Z" fill="none" stroke="#E8523E" stroke-width="1.15" opacity="0.92"/><path d="M399.94 600.71L403.41 606.48H396.48ZM399.94 608.41L403.41 602.63H396.48Z" fill="none" stroke="#E8523E" stroke-width="1.15" opacity="0.92"/><path d="M402.80 605.53L406.27 611.30H399.34ZM402.80 613.23L406.27 607.45H399.34Z" fill="none" stroke="#E8523E" stroke-width="1.15" opacity="0.92"/><path d="M405.34 610.55L408.81 616.33H401.88ZM405.34 618.25L408.81 612.48H401.88Z" fill="none" stroke="#E8523E" stroke-width="1.15" opacity="0.92"/><path d="M408.23 615.38L411.69 621.15H404.76ZM408.23 623.08L411.69 617.30H404.76Z" fill="none" stroke="#E8523E" stroke-width="1.15" opacity="0.92"/><path d="M411.37 620.05L414.83 625.83H407.90ZM411.37 627.75L414.83 621.98H407.90Z" fill="none" stroke="#E8523E" stroke-width="1.15" opacity="0.92"/><path d="M414.16 624.94L417.62 630.72H410.69ZM414.16 632.64L417.62 626.87H410.69Z" fill="none" stroke="#E8523E" stroke-width="1.15" opacity="0.92"/><path d="M416.91 629.85L420.37 635.63H413.44ZM416.91 637.55L420.37 631.78H413.44Z" fill="none" stroke="#E8523E" stroke-width="1.15" opacity="0.92"/><path d="M421.44 633.19L424.91 638.97H417.98ZM421.44 640.89L424.91 635.12H417.98Z" fill="none" stroke="#E8523E" stroke-width="1.15" opacity="0.92"/><path d="M426.74 634.91L430.21 640.68H423.28ZM426.74 642.61L430.21 636.83H423.28Z" fill="none" stroke="#E8523E" stroke-width="1.15" opacity="0.92"/><path d="M432.20 636.30L435.67 642.07H428.74ZM432.20 644.00L435.67 638.22H428.74Z" fill="none" stroke="#E8523E" stroke-width="1.15" opacity="0.92"/><path d="M437.75 637.26L441.21 643.04H434.28ZM437.75 644.96L441.21 639.19H434.28Z" fill="none" stroke="#E8523E" stroke-width="1.15" opacity="0.92"/><path d="M442.57 639.62L446.03 645.39H439.10ZM442.57 647.32L446.03 641.54H439.10Z" fill="none" stroke="#E8523E" stroke-width="1.15" opacity="0.92"/><path d="M446.62 643.51L450.08 649.29H443.15ZM446.62 651.21L450.08 645.44H443.15Z" fill="none" stroke="#E8523E" stroke-width="1.15" opacity="0.92"/><path d="M451.12 646.89L454.59 652.67H447.66ZM451.12 654.59L454.59 648.82H447.66Z" fill="none" stroke="#E8523E" stroke-width="1.15" opacity="0.92"/><path d="M454.67 651.27L458.13 657.04H451.20ZM454.67 658.97L458.13 653.19H451.20Z" fill="none" stroke="#E8523E" stroke-width="1.15" opacity="0.92"/><path d="M458.09 655.73L461.56 661.51H454.63ZM458.09 663.43L461.56 657.66H454.63Z" fill="none" stroke="#E8523E" stroke-width="1.15" opacity="0.92"/><path d="M461.44 660.26L464.91 666.03H457.98ZM461.44 667.96L464.91 662.18H457.98Z" fill="none" stroke="#E8523E" stroke-width="1.15" opacity="0.92"/><path d="M464.81 664.77L468.27 670.55H461.34ZM464.81 672.47L468.27 666.70H461.34Z" fill="none" stroke="#E8523E" stroke-width="1.15" opacity="0.92"/><path d="M467.96 669.43L471.42 675.20H464.49ZM467.96 677.13L471.42 671.35H464.49Z" fill="none" stroke="#E8523E" stroke-width="1.15" opacity="0.92"/><path d="M470.65 674.37L474.12 680.15H467.19ZM470.65 682.07L474.12 676.30H467.19Z" fill="none" stroke="#E8523E" stroke-width="1.15" opacity="0.92"/><path d="M473.35 679.32L476.81 685.09H469.88ZM473.35 687.02L476.81 681.24H469.88Z" fill="none" stroke="#E8523E" stroke-width="1.15" opacity="0.92"/><path d="M476.64 683.78L480.10 689.56H473.17ZM476.64 691.48L480.10 685.71H473.17Z" fill="none" stroke="#E8523E" stroke-width="1.15" opacity="0.92"/><path d="M480.87 687.49L484.34 693.27H477.41ZM480.87 695.19L484.34 689.42H477.41Z" fill="none" stroke="#E8523E" stroke-width="1.15" opacity="0.92"/><path d="M485.11 691.21L488.57 696.98H481.64ZM485.11 698.91L488.57 693.13H481.64Z" fill="none" stroke="#E8523E" stroke-width="1.15" opacity="0.92"/><path d="M490.03 693.92L493.49 699.70H486.56ZM490.03 701.62L493.49 695.85H486.56Z" fill="none" stroke="#E8523E" stroke-width="1.15" opacity="0.92"/><path d="M495.01 696.54L498.48 702.31H491.55ZM495.01 704.24L498.48 698.46H491.55Z" fill="none" stroke="#E8523E" stroke-width="1.15" opacity="0.92"/><path d="M500.00 699.15L503.46 704.92H496.54ZM500.00 706.85L503.46 701.08H496.54Z" fill="none" stroke="#E8523E" stroke-width="1.15" opacity="0.92"/><path d="M404.54 461.34H410.26V467.06H404.54ZM404.54 464.20H410.26M407.40 461.34V467.06" fill="none" stroke="#4F9E5A" stroke-width="1.15" opacity="0.92"/><path d="M407.74 478.84H413.46V484.56H407.74ZM407.74 481.70H413.46M410.60 478.84V484.56" fill="none" stroke="#4F9E5A" stroke-width="1.15" opacity="0.92"/><path d="M402.94 490.84H408.66V496.56H402.94ZM402.94 493.70H408.66M405.80 490.84V496.56" fill="none" stroke="#4F9E5A" stroke-width="1.15" opacity="0.92"/><path d="M409.94 511.44H415.66V517.16H409.94ZM409.94 514.30H415.66M412.80 511.44V517.16" fill="none" stroke="#4F9E5A" stroke-width="1.15" opacity="0.92"/><path d="M399.84 537.34H405.56V543.06H399.84ZM399.84 540.20H405.56M402.70 537.34V543.06" fill="none" stroke="#4F9E5A" stroke-width="1.15" opacity="0.92"/><path d="M415.64 534.24H421.36V539.96H415.64ZM415.64 537.10H421.36M418.50 534.24V539.96" fill="none" stroke="#4F9E5A" stroke-width="1.15" opacity="0.92"/><path d="M412.44 542.14H418.16V547.86H412.44ZM412.44 545.00H418.16M415.30 542.14V547.86" fill="none" stroke="#4F9E5A" stroke-width="1.15" opacity="0.92"/><path d="M418.84 542.14H424.56V547.86H418.84ZM418.84 545.00H424.56M421.70 542.14V547.86" fill="none" stroke="#4F9E5A" stroke-width="1.15" opacity="0.92"/><path d="M425.14 548.44H430.86V554.16H425.14ZM425.14 551.30H430.86M428.00 548.44V554.16" fill="none" stroke="#4F9E5A" stroke-width="1.15" opacity="0.92"/><path d="M413.44 553.24H419.16V558.96H413.44ZM413.44 556.10H419.16M416.30 553.24V558.96" fill="none" stroke="#4F9E5A" stroke-width="1.15" opacity="0.92"/><path d="M393.44 557.94H399.16V563.66H393.44ZM393.44 560.80H399.16M396.30 557.94V563.66" fill="none" stroke="#4F9E5A" stroke-width="1.15" opacity="0.92"/><path d="M388.74 565.24H394.46V570.96H388.74ZM388.74 568.10H394.46M391.60 565.24V570.96" fill="none" stroke="#4F9E5A" stroke-width="1.15" opacity="0.92"/><path d="M420.64 542.44H426.36V548.16H420.64ZM420.64 545.30H426.36M423.50 542.44V548.16" fill="none" stroke="#4F9E5A" stroke-width="1.15" opacity="0.92"/><path d="M424.64 548.24H430.36V553.96H424.64ZM424.64 551.10H430.36M427.50 548.24V553.96" fill="none" stroke="#4F9E5A" stroke-width="1.15" opacity="0.92"/><path d="M429.94 556.94H435.66V562.66H429.94ZM429.94 559.80H435.66M432.80 556.94V562.66" fill="none" stroke="#4F9E5A" stroke-width="1.15" opacity="0.92"/><path d="M435.74 556.14H441.46V561.86H435.74ZM435.74 559.00H441.46M438.60 556.14V561.86" fill="none" stroke="#4F9E5A" stroke-width="1.15" opacity="0.92"/><path d="M440.44 578.84H446.16V584.56H440.44ZM440.44 581.70H446.16M443.30 578.84V584.56" fill="none" stroke="#4F9E5A" stroke-width="1.15" opacity="0.92"/><path d="M445.24 589.34H450.96V595.06H445.24ZM445.24 592.20H450.96M448.10 589.34V595.06" fill="none" stroke="#4F9E5A" stroke-width="1.15" opacity="0.92"/><path d="M450.54 592.04H456.26V597.76H450.54ZM450.54 594.90H456.26M453.40 592.04V597.76" fill="none" stroke="#4F9E5A" stroke-width="1.15" opacity="0.92"/><path d="M454.44 608.94H460.16V614.66H454.44ZM454.44 611.80H460.16M457.30 608.94V614.66" fill="none" stroke="#4F9E5A" stroke-width="1.15" opacity="0.92"/><path d="M458.94 611.84H464.66V617.56H458.94ZM458.94 614.70H464.66M461.80 611.84V617.56" fill="none" stroke="#4F9E5A" stroke-width="1.15" opacity="0.92"/><path d="M461.54 622.94H467.26V628.66H461.54ZM461.54 625.80H467.26M464.40 622.94V628.66" fill="none" stroke="#4F9E5A" stroke-width="1.15" opacity="0.92"/><path d="M465.54 630.84H471.26V636.56H465.54ZM465.54 633.70H471.26M468.40 630.84V636.56" fill="none" stroke="#4F9E5A" stroke-width="1.15" opacity="0.92"/><path d="M468.94 637.94H474.66V643.66H468.94ZM468.94 640.80H474.66M471.80 637.94V643.66" fill="none" stroke="#4F9E5A" stroke-width="1.15" opacity="0.92"/><path d="M472.64 644.04H478.36V649.76H472.64ZM472.64 646.90H478.36M475.50 644.04V649.76" fill="none" stroke="#4F9E5A" stroke-width="1.15" opacity="0.92"/><path d="M476.04 653.24H481.76V658.96H476.04ZM476.04 656.10H481.76M478.90 653.24V658.96" fill="none" stroke="#4F9E5A" stroke-width="1.15" opacity="0.92"/><path d="M480.04 659.54H485.76V665.26H480.04ZM480.04 662.40H485.76M482.90 659.54V665.26" fill="none" stroke="#4F9E5A" stroke-width="1.15" opacity="0.92"/><path d="M484.04 667.44H489.76V673.16H484.04ZM484.04 670.30H489.76M486.90 667.44V673.16" fill="none" stroke="#4F9E5A" stroke-width="1.15" opacity="0.92"/><path d="M487.14 671.14H492.86V676.86H487.14ZM487.14 674.00H492.86M490.00 671.14V676.86" fill="none" stroke="#4F9E5A" stroke-width="1.15" opacity="0.92"/><path d="M490.64 675.44H496.36V681.16H490.64ZM490.64 678.30H496.36M493.50 675.44V681.16" fill="none" stroke="#4F9E5A" stroke-width="1.15" opacity="0.92"/><path d="M493.24 678.04H498.96V683.76H493.24ZM493.24 680.90H498.96M496.10 678.04V683.76" fill="none" stroke="#4F9E5A" stroke-width="1.15" opacity="0.92"/><path d="M504.00 699.78L507.34 705.59H500.66Z" fill="none" stroke="#5CC4DB" stroke-width="1.15" opacity="0.92"/><path d="M505.73 700.64L509.07 706.45H502.39Z" fill="none" stroke="#5CC4DB" stroke-width="1.15" opacity="0.92"/><path d="M507.46 701.51L510.80 707.32H504.12Z" fill="none" stroke="#5CC4DB" stroke-width="1.15" opacity="0.92"/><path d="M509.19 702.37L512.53 708.18H505.85Z" fill="none" stroke="#5CC4DB" stroke-width="1.15" opacity="0.92"/><path d="M510.92 703.24L514.26 709.05H507.58Z" fill="none" stroke="#5CC4DB" stroke-width="1.15" opacity="0.92"/><path d="M512.65 704.10L515.99 709.91H509.31Z" fill="none" stroke="#5CC4DB" stroke-width="1.15" opacity="0.92"/><path d="M514.38 704.97L517.72 710.78H511.04Z" fill="none" stroke="#5CC4DB" stroke-width="1.15" opacity="0.92"/><path d="M516.11 705.83L519.45 711.64H512.77Z" fill="none" stroke="#5CC4DB" stroke-width="1.15" opacity="0.92"/><path d="M517.84 706.70L521.18 712.51H514.50Z" fill="none" stroke="#5CC4DB" stroke-width="1.15" opacity="0.92"/><path d="M519.57 707.56L522.91 713.37H516.23Z" fill="none" stroke="#5CC4DB" stroke-width="1.15" opacity="0.92"/><path d="M521.30 708.43L524.64 714.24H517.96Z" fill="none" stroke="#5CC4DB" stroke-width="1.15" opacity="0.92"/><path d="M523.03 709.29L526.37 715.10H519.69Z" fill="none" stroke="#5CC4DB" stroke-width="1.15" opacity="0.92"/><path d="M524.76 710.16L528.10 715.97H521.42Z" fill="none" stroke="#5CC4DB" stroke-width="1.15" opacity="0.92"/><path d="M526.49 711.02L529.83 716.83H523.15Z" fill="none" stroke="#5CC4DB" stroke-width="1.15" opacity="0.92"/><path d="M528.26 711.76L531.60 717.57H524.92Z" fill="none" stroke="#5CC4DB" stroke-width="1.15" opacity="0.92"/><path d="M530.16 712.11L533.51 717.92H526.82Z" fill="none" stroke="#5CC4DB" stroke-width="1.15" opacity="0.92"/><path d="M532.07 712.46L535.41 718.27H528.72Z" fill="none" stroke="#5CC4DB" stroke-width="1.15" opacity="0.92"/><path d="M533.97 712.81L537.31 718.62H530.62Z" fill="none" stroke="#5CC4DB" stroke-width="1.15" opacity="0.92"/><path d="M535.87 713.16L539.22 718.96H532.53Z" fill="none" stroke="#5CC4DB" stroke-width="1.15" opacity="0.92"/><path d="M537.77 713.50L541.12 719.31H534.43Z" fill="none" stroke="#5CC4DB" stroke-width="1.15" opacity="0.92"/><path d="M539.68 713.85L543.02 719.66H536.33Z" fill="none" stroke="#5CC4DB" stroke-width="1.15" opacity="0.92"/><path d="M541.58 714.20L544.92 720.01H538.24Z" fill="none" stroke="#5CC4DB" stroke-width="1.15" opacity="0.92"/><path d="M543.48 714.55L546.83 720.35H540.14Z" fill="none" stroke="#5CC4DB" stroke-width="1.15" opacity="0.92"/><path d="M545.38 714.89L548.73 720.70H542.04Z" fill="none" stroke="#5CC4DB" stroke-width="1.15" opacity="0.92"/><path d="M547.29 715.24L550.63 721.05H543.94Z" fill="none" stroke="#5CC4DB" stroke-width="1.15" opacity="0.92"/><path d="M549.19 715.59L552.53 721.40H545.85Z" fill="none" stroke="#5CC4DB" stroke-width="1.15" opacity="0.92"/><path d="M551.09 715.94L554.44 721.74H547.75Z" fill="none" stroke="#5CC4DB" stroke-width="1.15" opacity="0.92"/><path d="M552.99 716.28L556.34 722.09H549.65Z" fill="none" stroke="#5CC4DB" stroke-width="1.15" opacity="0.92"/><path d="M554.90 716.63L558.24 722.44H551.55Z" fill="none" stroke="#5CC4DB" stroke-width="1.15" opacity="0.92"/><path d="M556.80 716.98L560.14 722.79H553.46Z" fill="none" stroke="#5CC4DB" stroke-width="1.15" opacity="0.92"/><path d="M440.70 719.47L444.33 723.10L440.70 726.73L437.07 723.10Z" fill="none" stroke="#F5A08A" stroke-width="1.15" opacity="0.92"/><path d="M443.51 719.83L447.14 723.46L443.51 727.09L439.88 723.46Z" fill="none" stroke="#F5A08A" stroke-width="1.15" opacity="0.92"/><path d="M446.33 720.18L449.96 723.81L446.33 727.44L442.70 723.81Z" fill="none" stroke="#F5A08A" stroke-width="1.15" opacity="0.92"/><path d="M449.14 720.54L452.77 724.17L449.14 727.80L445.51 724.17Z" fill="none" stroke="#F5A08A" stroke-width="1.15" opacity="0.92"/><path d="M451.95 720.89L455.58 724.52L451.95 728.15L448.32 724.52Z" fill="none" stroke="#F5A08A" stroke-width="1.15" opacity="0.92"/><path d="M454.76 721.25L458.39 724.88L454.76 728.51L451.13 724.88Z" fill="none" stroke="#F5A08A" stroke-width="1.15" opacity="0.92"/><path d="M457.58 721.61L461.21 725.24L457.58 728.87L453.95 725.24Z" fill="none" stroke="#F5A08A" stroke-width="1.15" opacity="0.92"/><path d="M460.39 721.96L464.02 725.59L460.39 729.22L456.76 725.59Z" fill="none" stroke="#F5A08A" stroke-width="1.15" opacity="0.92"/><path d="M463.20 722.32L466.83 725.95L463.20 729.58L459.57 725.95Z" fill="none" stroke="#F5A08A" stroke-width="1.15" opacity="0.92"/><path d="M466.01 722.67L469.64 726.30L466.01 729.93L462.38 726.30Z" fill="none" stroke="#F5A08A" stroke-width="1.15" opacity="0.92"/><path d="M468.83 723.03L472.46 726.66L468.83 730.29L465.20 726.66Z" fill="none" stroke="#F5A08A" stroke-width="1.15" opacity="0.92"/><path d="M471.64 723.39L475.27 727.02L471.64 730.65L468.01 727.02Z" fill="none" stroke="#F5A08A" stroke-width="1.15" opacity="0.92"/><path d="M474.46 723.68L478.09 727.31L474.46 730.94L470.83 727.31Z" fill="none" stroke="#F5A08A" stroke-width="1.15" opacity="0.92"/><path d="M477.28 723.96L480.91 727.59L477.28 731.22L473.65 727.59Z" fill="none" stroke="#F5A08A" stroke-width="1.15" opacity="0.92"/><path d="M480.10 724.24L483.73 727.87L480.10 731.50L476.47 727.87Z" fill="none" stroke="#F5A08A" stroke-width="1.15" opacity="0.92"/><path d="M482.92 724.52L486.55 728.15L482.92 731.78L479.29 728.15Z" fill="none" stroke="#F5A08A" stroke-width="1.15" opacity="0.92"/><path d="M485.74 724.79L489.37 728.42L485.74 732.05L482.11 728.42Z" fill="none" stroke="#F5A08A" stroke-width="1.15" opacity="0.92"/><path d="M488.56 725.07L492.19 728.70L488.56 732.33L484.93 728.70Z" fill="none" stroke="#F5A08A" stroke-width="1.15" opacity="0.92"/><path d="M491.39 725.35L495.02 728.98L491.39 732.61L487.76 728.98Z" fill="none" stroke="#F5A08A" stroke-width="1.15" opacity="0.92"/><path d="M494.21 725.63L497.84 729.26L494.21 732.89L490.58 729.26Z" fill="none" stroke="#F5A08A" stroke-width="1.15" opacity="0.92"/><path d="M497.03 725.91L500.66 729.54L497.03 733.17L493.40 729.54Z" fill="none" stroke="#F5A08A" stroke-width="1.15" opacity="0.92"/><path d="M499.85 726.13L503.48 729.76L499.85 733.39L496.22 729.76Z" fill="none" stroke="#F5A08A" stroke-width="1.15" opacity="0.92"/><path d="M502.68 726.29L506.31 729.92L502.68 733.55L499.05 729.92Z" fill="none" stroke="#F5A08A" stroke-width="1.15" opacity="0.92"/><path d="M505.52 726.44L509.15 730.07L505.52 733.70L501.89 730.07Z" fill="none" stroke="#F5A08A" stroke-width="1.15" opacity="0.92"/><path d="M508.35 726.60L511.98 730.23L508.35 733.86L504.72 730.23Z" fill="none" stroke="#F5A08A" stroke-width="1.15" opacity="0.92"/><path d="M511.18 726.75L514.81 730.38L511.18 734.01L507.55 730.38Z" fill="none" stroke="#F5A08A" stroke-width="1.15" opacity="0.92"/><path d="M514.01 726.91L517.64 730.54L514.01 734.17L510.38 730.54Z" fill="none" stroke="#F5A08A" stroke-width="1.15" opacity="0.92"/><path d="M516.84 727.06L520.47 730.69L516.84 734.32L513.21 730.69Z" fill="none" stroke="#F5A08A" stroke-width="1.15" opacity="0.92"/><path d="M519.67 727.22L523.30 730.85L519.67 734.48L516.04 730.85Z" fill="none" stroke="#F5A08A" stroke-width="1.15" opacity="0.92"/><path d="M522.50 727.37L526.13 731.00L522.50 734.63L518.87 731.00Z" fill="none" stroke="#F5A08A" stroke-width="1.15" opacity="0.92"/><path d="M449.85 683.45L455.35 688.95M449.85 688.95L455.35 683.45" fill="none" stroke="#434C8E" stroke-width="1.15" opacity="0.92"/><path d="M452.83 684.64L458.33 690.14M452.83 690.14L458.33 684.64" fill="none" stroke="#434C8E" stroke-width="1.15" opacity="0.92"/><path d="M455.81 685.84L461.31 691.34M455.81 691.34L461.31 685.84" fill="none" stroke="#434C8E" stroke-width="1.15" opacity="0.92"/><path d="M458.78 687.03L464.28 692.53M458.78 692.53L464.28 687.03" fill="none" stroke="#434C8E" stroke-width="1.15" opacity="0.92"/><path d="M461.76 688.23L467.26 693.73M461.76 693.73L467.26 688.23" fill="none" stroke="#434C8E" stroke-width="1.15" opacity="0.92"/><path d="M464.74 689.42L470.24 694.92M464.74 694.92L470.24 689.42" fill="none" stroke="#434C8E" stroke-width="1.15" opacity="0.92"/><path d="M467.72 690.62L473.22 696.12M467.72 696.12L473.22 690.62" fill="none" stroke="#434C8E" stroke-width="1.15" opacity="0.92"/><path d="M470.63 691.94L476.13 697.44M470.63 697.44L476.13 691.94" fill="none" stroke="#434C8E" stroke-width="1.15" opacity="0.92"/><path d="M473.45 693.49L478.95 698.99M473.45 698.99L478.95 693.49" fill="none" stroke="#434C8E" stroke-width="1.15" opacity="0.92"/><path d="M476.26 695.03L481.76 700.53M476.26 700.53L481.76 695.03" fill="none" stroke="#434C8E" stroke-width="1.15" opacity="0.92"/><path d="M479.07 696.58L484.57 702.08M479.07 702.08L484.57 696.58" fill="none" stroke="#434C8E" stroke-width="1.15" opacity="0.92"/><path d="M481.88 698.12L487.38 703.62M481.88 703.62L487.38 698.12" fill="none" stroke="#434C8E" stroke-width="1.15" opacity="0.92"/><path d="M484.69 699.67L490.19 705.17M484.69 705.17L490.19 699.67" fill="none" stroke="#434C8E" stroke-width="1.15" opacity="0.92"/><path d="M487.51 701.21L493.01 706.71M487.51 706.71L493.01 701.21" fill="none" stroke="#434C8E" stroke-width="1.15" opacity="0.92"/><path d="M490.32 702.76L495.82 708.26M490.32 708.26L495.82 702.76" fill="none" stroke="#434C8E" stroke-width="1.15" opacity="0.92"/><path d="M493.13 704.30L498.63 709.80M493.13 709.80L498.63 704.30" fill="none" stroke="#434C8E" stroke-width="1.15" opacity="0.92"/><path d="M495.94 705.85L501.44 711.35M495.94 711.35L501.44 705.85" fill="none" stroke="#434C8E" stroke-width="1.15" opacity="0.92"/><path d="M498.70 707.49L504.20 712.99M498.70 712.99L504.20 707.49" fill="none" stroke="#434C8E" stroke-width="1.15" opacity="0.92"/><path d="M501.45 709.14L506.95 714.64M501.45 714.64L506.95 709.14" fill="none" stroke="#434C8E" stroke-width="1.15" opacity="0.92"/><path d="M504.20 710.79L509.70 716.29M504.20 716.29L509.70 710.79" fill="none" stroke="#434C8E" stroke-width="1.15" opacity="0.92"/><path d="M506.96 712.44L512.46 717.94M506.96 717.94L512.46 712.44" fill="none" stroke="#434C8E" stroke-width="1.15" opacity="0.92"/><path d="M509.71 714.09L515.21 719.59M509.71 719.59L515.21 714.09" fill="none" stroke="#434C8E" stroke-width="1.15" opacity="0.92"/><path d="M512.46 715.73L517.96 721.23M512.46 721.23L517.96 715.73" fill="none" stroke="#434C8E" stroke-width="1.15" opacity="0.92"/><path d="M515.22 717.38L520.72 722.88M515.22 722.88L520.72 717.38" fill="none" stroke="#434C8E" stroke-width="1.15" opacity="0.92"/><path d="M517.97 719.03L523.47 724.53M517.97 724.53L523.47 719.03" fill="none" stroke="#434C8E" stroke-width="1.15" opacity="0.92"/><path d="M520.72 720.68L526.22 726.18M520.72 726.18L526.22 720.68" fill="none" stroke="#434C8E" stroke-width="1.15" opacity="0.92"/><path d="M523.62 721.97L529.12 727.47M523.62 727.47L529.12 721.97" fill="none" stroke="#434C8E" stroke-width="1.15" opacity="0.92"/><path d="M526.73 722.77L532.23 728.27M526.73 728.27L532.23 722.77" fill="none" stroke="#434C8E" stroke-width="1.15" opacity="0.92"/><path d="M529.84 723.56L535.34 729.06M529.84 729.06L535.34 723.56" fill="none" stroke="#434C8E" stroke-width="1.15" opacity="0.92"/><path d="M532.95 724.35L538.45 729.85M532.95 729.85L538.45 724.35" fill="none" stroke="#434C8E" stroke-width="1.15" opacity="0.92"/><path d="M320.20 657.47L323.83 661.10L320.20 664.73L316.57 661.10ZM316.57 661.10H323.83M320.20 657.47V664.73" fill="none" stroke="#8A6A50" stroke-width="1.15" opacity="0.92"/><path d="M324.90 658.65L328.53 662.28L324.90 665.91L321.27 662.28ZM321.27 662.28H328.53M324.90 658.65V665.91" fill="none" stroke="#8A6A50" stroke-width="1.15" opacity="0.92"/><path d="M329.60 659.83L333.23 663.46L329.60 667.09L325.97 663.46ZM325.97 663.46H333.23M329.60 659.83V667.09" fill="none" stroke="#8A6A50" stroke-width="1.15" opacity="0.92"/><path d="M334.30 661.01L337.93 664.64L334.30 668.27L330.67 664.64ZM330.67 664.64H337.93M334.30 661.01V668.27" fill="none" stroke="#8A6A50" stroke-width="1.15" opacity="0.92"/><path d="M339.00 662.19L342.63 665.82L339.00 669.45L335.37 665.82ZM335.37 665.82H342.63M339.00 662.19V669.45" fill="none" stroke="#8A6A50" stroke-width="1.15" opacity="0.92"/><path d="M343.45 663.99L347.08 667.62L343.45 671.25L339.82 667.62ZM339.82 667.62H347.08M343.45 663.99V671.25" fill="none" stroke="#8A6A50" stroke-width="1.15" opacity="0.92"/><path d="M347.67 666.37L351.30 670.00L347.67 673.63L344.04 670.00ZM344.04 670.00H351.30M347.67 666.37V673.63" fill="none" stroke="#8A6A50" stroke-width="1.15" opacity="0.92"/><path d="M351.88 668.76L355.51 672.39L351.88 676.02L348.25 672.39ZM348.25 672.39H355.51M351.88 668.76V676.02" fill="none" stroke="#8A6A50" stroke-width="1.15" opacity="0.92"/><path d="M356.10 671.14L359.73 674.77L356.10 678.40L352.47 674.77ZM352.47 674.77H359.73M356.10 671.14V678.40" fill="none" stroke="#8A6A50" stroke-width="1.15" opacity="0.92"/><path d="M360.27 673.62L363.90 677.25L360.27 680.88L356.64 677.25ZM356.64 677.25H363.90M360.27 673.62V680.88" fill="none" stroke="#8A6A50" stroke-width="1.15" opacity="0.92"/><path d="M364.38 676.17L368.01 679.80L364.38 683.43L360.75 679.80ZM360.75 679.80H368.01M364.38 676.17V683.43" fill="none" stroke="#8A6A50" stroke-width="1.15" opacity="0.92"/><path d="M368.50 678.73L372.13 682.36L368.50 685.99L364.87 682.36ZM364.87 682.36H372.13M368.50 678.73V685.99" fill="none" stroke="#8A6A50" stroke-width="1.15" opacity="0.92"/><path d="M372.61 681.29L376.24 684.92L372.61 688.55L368.98 684.92ZM368.98 684.92H376.24M372.61 681.29V688.55" fill="none" stroke="#8A6A50" stroke-width="1.15" opacity="0.92"/><path d="M376.50 684.14L380.13 687.77L376.50 691.40L372.87 687.77ZM372.87 687.77H380.13M376.50 684.14V691.40" fill="none" stroke="#8A6A50" stroke-width="1.15" opacity="0.92"/><path d="M380.08 687.41L383.71 691.04L380.08 694.67L376.45 691.04ZM376.45 691.04H383.71M380.08 687.41V694.67" fill="none" stroke="#8A6A50" stroke-width="1.15" opacity="0.92"/><path d="M383.66 690.68L387.29 694.31L383.66 697.94L380.03 694.31ZM380.03 694.31H387.29M383.66 690.68V697.94" fill="none" stroke="#8A6A50" stroke-width="1.15" opacity="0.92"/><path d="M387.23 693.94L390.86 697.57L387.23 701.20L383.60 697.57ZM383.60 697.57H390.86M387.23 693.94V701.20" fill="none" stroke="#8A6A50" stroke-width="1.15" opacity="0.92"/><path d="M391.04 696.95L394.67 700.58L391.04 704.21L387.41 700.58ZM387.41 700.58H394.67M391.04 696.95V704.21" fill="none" stroke="#8A6A50" stroke-width="1.15" opacity="0.92"/><path d="M394.87 699.91L398.50 703.54L394.87 707.17L391.24 703.54ZM391.24 703.54H398.50M394.87 699.91V707.17" fill="none" stroke="#8A6A50" stroke-width="1.15" opacity="0.92"/><path d="M398.70 702.87L402.33 706.50L398.70 710.13L395.07 706.50ZM395.07 706.50H402.33M398.70 702.87V710.13" fill="none" stroke="#8A6A50" stroke-width="1.15" opacity="0.92"/><path d="M403.21 703.84L406.84 707.47L403.21 711.10L399.58 707.47ZM399.58 707.47H406.84M403.21 703.84V711.10" fill="none" stroke="#8A6A50" stroke-width="1.15" opacity="0.92"/><path d="M408.05 703.79L411.68 707.42L408.05 711.05L404.42 707.42ZM404.42 707.42H411.68M408.05 703.79V711.05" fill="none" stroke="#8A6A50" stroke-width="1.15" opacity="0.92"/><path d="M412.90 703.74L416.53 707.37L412.90 711.00L409.27 707.37ZM409.27 707.37H416.53M412.90 703.74V711.00" fill="none" stroke="#8A6A50" stroke-width="1.15" opacity="0.92"/><path d="M417.74 703.69L421.37 707.32L417.74 710.95L414.11 707.32ZM414.11 707.32H421.37M417.74 703.69V710.95" fill="none" stroke="#8A6A50" stroke-width="1.15" opacity="0.92"/><path d="M422.50 704.39L426.13 708.02L422.50 711.65L418.87 708.02ZM418.87 708.02H426.13M422.50 704.39V711.65" fill="none" stroke="#8A6A50" stroke-width="1.15" opacity="0.92"/><path d="M427.20 705.57L430.83 709.20L427.20 712.83L423.57 709.20ZM423.57 709.20H430.83M427.20 705.57V712.83" fill="none" stroke="#8A6A50" stroke-width="1.15" opacity="0.92"/><path d="M431.90 706.74L435.53 710.37L431.90 714.00L428.27 710.37ZM428.27 710.37H435.53M431.90 706.74V714.00" fill="none" stroke="#8A6A50" stroke-width="1.15" opacity="0.92"/><path d="M436.60 707.92L440.23 711.55L436.60 715.18L432.97 711.55ZM432.97 711.55H440.23M436.60 707.92V715.18" fill="none" stroke="#8A6A50" stroke-width="1.15" opacity="0.92"/><path d="M441.30 709.09L444.93 712.72L441.30 716.35L437.67 712.72ZM437.67 712.72H444.93M441.30 709.09V716.35" fill="none" stroke="#8A6A50" stroke-width="1.15" opacity="0.92"/><path d="M446.00 710.27L449.63 713.90L446.00 717.53L442.37 713.90ZM442.37 713.90H449.63M446.00 710.27V717.53" fill="none" stroke="#8A6A50" stroke-width="1.15" opacity="0.92"/><path d="M463.47 696.70H470.73M467.10 693.07V700.33" fill="none" stroke="#3D9E7E" stroke-width="1.15" opacity="0.92"/><path d="M466.21 697.51H473.47M469.84 693.88V701.14" fill="none" stroke="#3D9E7E" stroke-width="1.15" opacity="0.92"/><path d="M468.94 698.31H476.20M472.57 694.68V701.94" fill="none" stroke="#3D9E7E" stroke-width="1.15" opacity="0.92"/><path d="M471.68 699.12H478.94M475.31 695.49V702.75" fill="none" stroke="#3D9E7E" stroke-width="1.15" opacity="0.92"/><path d="M474.41 699.92H481.67M478.04 696.29V703.55" fill="none" stroke="#3D9E7E" stroke-width="1.15" opacity="0.92"/><path d="M477.15 700.73H484.41M480.78 697.10V704.36" fill="none" stroke="#3D9E7E" stroke-width="1.15" opacity="0.92"/><path d="M479.88 701.53H487.14M483.51 697.90V705.16" fill="none" stroke="#3D9E7E" stroke-width="1.15" opacity="0.92"/><path d="M482.62 702.34H489.88M486.25 698.71V705.97" fill="none" stroke="#3D9E7E" stroke-width="1.15" opacity="0.92"/><path d="M485.36 703.14H492.62M488.99 699.51V706.77" fill="none" stroke="#3D9E7E" stroke-width="1.15" opacity="0.92"/><path d="M488.09 703.95H495.35M491.72 700.32V707.58" fill="none" stroke="#3D9E7E" stroke-width="1.15" opacity="0.92"/><path d="M490.83 704.75H498.09M494.46 701.12V708.38" fill="none" stroke="#3D9E7E" stroke-width="1.15" opacity="0.92"/><path d="M493.56 705.56H500.82M497.19 701.93V709.19" fill="none" stroke="#3D9E7E" stroke-width="1.15" opacity="0.92"/><path d="M496.19 706.62H503.45M499.82 702.99V710.25" fill="none" stroke="#3D9E7E" stroke-width="1.15" opacity="0.92"/><path d="M498.69 707.99H505.95M502.32 704.36V711.62" fill="none" stroke="#3D9E7E" stroke-width="1.15" opacity="0.92"/><path d="M501.19 709.36H508.45M504.82 705.73V712.99" fill="none" stroke="#3D9E7E" stroke-width="1.15" opacity="0.92"/><path d="M503.69 710.74H510.95M507.32 707.11V714.37" fill="none" stroke="#3D9E7E" stroke-width="1.15" opacity="0.92"/><path d="M506.19 712.11H513.45M509.82 708.48V715.74" fill="none" stroke="#3D9E7E" stroke-width="1.15" opacity="0.92"/><path d="M508.69 713.48H515.95M512.32 709.85V717.11" fill="none" stroke="#3D9E7E" stroke-width="1.15" opacity="0.92"/><path d="M511.19 714.85H518.45M514.82 711.22V718.48" fill="none" stroke="#3D9E7E" stroke-width="1.15" opacity="0.92"/><path d="M513.69 716.23H520.95M517.32 712.60V719.86" fill="none" stroke="#3D9E7E" stroke-width="1.15" opacity="0.92"/><path d="M516.19 717.60H523.45M519.82 713.97V721.23" fill="none" stroke="#3D9E7E" stroke-width="1.15" opacity="0.92"/><path d="M518.69 718.97H525.95M522.32 715.34V722.60" fill="none" stroke="#3D9E7E" stroke-width="1.15" opacity="0.92"/><path d="M521.19 720.35H528.45M524.82 716.72V723.98" fill="none" stroke="#3D9E7E" stroke-width="1.15" opacity="0.92"/><path d="M523.85 721.35H531.11M527.48 717.72V724.98" fill="none" stroke="#3D9E7E" stroke-width="1.15" opacity="0.92"/><path d="M526.54 722.31H533.80M530.17 718.68V725.94" fill="none" stroke="#3D9E7E" stroke-width="1.15" opacity="0.92"/><path d="M529.23 723.27H536.49M532.86 719.64V726.90" fill="none" stroke="#3D9E7E" stroke-width="1.15" opacity="0.92"/><path d="M531.91 724.23H539.17M535.54 720.60V727.86" fill="none" stroke="#3D9E7E" stroke-width="1.15" opacity="0.92"/><path d="M534.60 725.18H541.86M538.23 721.55V728.81" fill="none" stroke="#3D9E7E" stroke-width="1.15" opacity="0.92"/><path d="M537.28 726.14H544.54M540.91 722.51V729.77" fill="none" stroke="#3D9E7E" stroke-width="1.15" opacity="0.92"/><path d="M539.97 727.10H547.23M543.60 723.47V730.73" fill="none" stroke="#3D9E7E" stroke-width="1.15" opacity="0.92"/><path d="M275.43 672.90H281.37M278.40 669.93V675.87" fill="none" stroke="#5A62B4" stroke-width="1.15" opacity="0.92"/><circle cx="278.40" cy="672.90" r="2.97" fill="none" stroke="#5A62B4" stroke-width="1.15" opacity="0.92"/><path d="M278.58 674.49H284.52M281.55 671.52V677.46" fill="none" stroke="#5A62B4" stroke-width="1.15" opacity="0.92"/><circle cx="281.55" cy="674.49" r="2.97" fill="none" stroke="#5A62B4" stroke-width="1.15" opacity="0.92"/><path d="M281.74 676.08H287.68M284.71 673.11V679.05" fill="none" stroke="#5A62B4" stroke-width="1.15" opacity="0.92"/><circle cx="284.71" cy="676.08" r="2.97" fill="none" stroke="#5A62B4" stroke-width="1.15" opacity="0.92"/><path d="M284.89 677.67H290.83M287.86 674.70V680.64" fill="none" stroke="#5A62B4" stroke-width="1.15" opacity="0.92"/><circle cx="287.86" cy="677.67" r="2.97" fill="none" stroke="#5A62B4" stroke-width="1.15" opacity="0.92"/><path d="M288.05 679.26H293.99M291.02 676.29V682.23" fill="none" stroke="#5A62B4" stroke-width="1.15" opacity="0.92"/><circle cx="291.02" cy="679.26" r="2.97" fill="none" stroke="#5A62B4" stroke-width="1.15" opacity="0.92"/><path d="M291.50 679.97H297.44M294.47 677.00V682.94" fill="none" stroke="#5A62B4" stroke-width="1.15" opacity="0.92"/><circle cx="294.47" cy="679.97" r="2.97" fill="none" stroke="#5A62B4" stroke-width="1.15" opacity="0.92"/><path d="M294.97 680.66H300.91M297.94 677.69V683.63" fill="none" stroke="#5A62B4" stroke-width="1.15" opacity="0.92"/><circle cx="297.94" cy="680.66" r="2.97" fill="none" stroke="#5A62B4" stroke-width="1.15" opacity="0.92"/><path d="M298.43 681.34H304.37M301.40 678.37V684.31" fill="none" stroke="#5A62B4" stroke-width="1.15" opacity="0.92"/><circle cx="301.40" cy="681.34" r="2.97" fill="none" stroke="#5A62B4" stroke-width="1.15" opacity="0.92"/><path d="M301.90 682.04H307.84M304.87 679.07V685.01" fill="none" stroke="#5A62B4" stroke-width="1.15" opacity="0.92"/><circle cx="304.87" cy="682.04" r="2.97" fill="none" stroke="#5A62B4" stroke-width="1.15" opacity="0.92"/><path d="M305.36 682.74H311.30M308.33 679.77V685.71" fill="none" stroke="#5A62B4" stroke-width="1.15" opacity="0.92"/><circle cx="308.33" cy="682.74" r="2.97" fill="none" stroke="#5A62B4" stroke-width="1.15" opacity="0.92"/><path d="M308.82 683.44H314.76M311.79 680.47V686.41" fill="none" stroke="#5A62B4" stroke-width="1.15" opacity="0.92"/><circle cx="311.79" cy="683.44" r="2.97" fill="none" stroke="#5A62B4" stroke-width="1.15" opacity="0.92"/><path d="M312.28 684.14H318.22M315.25 681.17V687.11" fill="none" stroke="#5A62B4" stroke-width="1.15" opacity="0.92"/><circle cx="315.25" cy="684.14" r="2.97" fill="none" stroke="#5A62B4" stroke-width="1.15" opacity="0.92"/><path d="M315.76 684.76H321.70M318.73 681.79V687.73" fill="none" stroke="#5A62B4" stroke-width="1.15" opacity="0.92"/><circle cx="318.73" cy="684.76" r="2.97" fill="none" stroke="#5A62B4" stroke-width="1.15" opacity="0.92"/><path d="M319.26 685.23H325.20M322.23 682.26V688.20" fill="none" stroke="#5A62B4" stroke-width="1.15" opacity="0.92"/><circle cx="322.23" cy="685.23" r="2.97" fill="none" stroke="#5A62B4" stroke-width="1.15" opacity="0.92"/><path d="M322.76 685.69H328.70M325.73 682.72V688.66" fill="none" stroke="#5A62B4" stroke-width="1.15" opacity="0.92"/><circle cx="325.73" cy="685.69" r="2.97" fill="none" stroke="#5A62B4" stroke-width="1.15" opacity="0.92"/><path d="M326.26 686.16H332.20M329.23 683.19V689.13" fill="none" stroke="#5A62B4" stroke-width="1.15" opacity="0.92"/><circle cx="329.23" cy="686.16" r="2.97" fill="none" stroke="#5A62B4" stroke-width="1.15" opacity="0.92"/><path d="M329.77 686.62H335.71M332.74 683.65V689.59" fill="none" stroke="#5A62B4" stroke-width="1.15" opacity="0.92"/><circle cx="332.74" cy="686.62" r="2.97" fill="none" stroke="#5A62B4" stroke-width="1.15" opacity="0.92"/><path d="M333.27 687.07H339.21M336.24 684.10V690.04" fill="none" stroke="#5A62B4" stroke-width="1.15" opacity="0.92"/><circle cx="336.24" cy="687.07" r="2.97" fill="none" stroke="#5A62B4" stroke-width="1.15" opacity="0.92"/><path d="M336.77 687.51H342.71M339.74 684.54V690.48" fill="none" stroke="#5A62B4" stroke-width="1.15" opacity="0.92"/><circle cx="339.74" cy="687.51" r="2.97" fill="none" stroke="#5A62B4" stroke-width="1.15" opacity="0.92"/><path d="M340.28 687.95H346.22M343.25 684.98V690.92" fill="none" stroke="#5A62B4" stroke-width="1.15" opacity="0.92"/><circle cx="343.25" cy="687.95" r="2.97" fill="none" stroke="#5A62B4" stroke-width="1.15" opacity="0.92"/><path d="M343.78 688.39H349.72M346.75 685.42V691.36" fill="none" stroke="#5A62B4" stroke-width="1.15" opacity="0.92"/><circle cx="346.75" cy="688.39" r="2.97" fill="none" stroke="#5A62B4" stroke-width="1.15" opacity="0.92"/><path d="M347.23 688.64H353.17M350.20 685.67V691.61" fill="none" stroke="#5A62B4" stroke-width="1.15" opacity="0.92"/><circle cx="350.20" cy="688.64" r="2.97" fill="none" stroke="#5A62B4" stroke-width="1.15" opacity="0.92"/><path d="M349.97 686.40H355.91M352.94 683.43V689.37" fill="none" stroke="#5A62B4" stroke-width="1.15" opacity="0.92"/><circle cx="352.94" cy="686.40" r="2.97" fill="none" stroke="#5A62B4" stroke-width="1.15" opacity="0.92"/><path d="M352.71 684.17H358.65M355.68 681.20V687.14" fill="none" stroke="#5A62B4" stroke-width="1.15" opacity="0.92"/><circle cx="355.68" cy="684.17" r="2.97" fill="none" stroke="#5A62B4" stroke-width="1.15" opacity="0.92"/><path d="M355.51 682.06H361.45M358.48 679.09V685.03" fill="none" stroke="#5A62B4" stroke-width="1.15" opacity="0.92"/><circle cx="358.48" cy="682.06" r="2.97" fill="none" stroke="#5A62B4" stroke-width="1.15" opacity="0.92"/><path d="M358.82 680.81H364.76M361.79 677.84V683.78" fill="none" stroke="#5A62B4" stroke-width="1.15" opacity="0.92"/><circle cx="361.79" cy="680.81" r="2.97" fill="none" stroke="#5A62B4" stroke-width="1.15" opacity="0.92"/><path d="M362.12 679.57H368.06M365.09 676.60V682.54" fill="none" stroke="#5A62B4" stroke-width="1.15" opacity="0.92"/><circle cx="365.09" cy="679.57" r="2.97" fill="none" stroke="#5A62B4" stroke-width="1.15" opacity="0.92"/><path d="M365.43 679.68H371.37M368.40 676.71V682.65" fill="none" stroke="#5A62B4" stroke-width="1.15" opacity="0.92"/><circle cx="368.40" cy="679.68" r="2.97" fill="none" stroke="#5A62B4" stroke-width="1.15" opacity="0.92"/><path d="M368.73 680.94H374.67M371.70 677.97V683.91" fill="none" stroke="#5A62B4" stroke-width="1.15" opacity="0.92"/><circle cx="371.70" cy="680.94" r="2.97" fill="none" stroke="#5A62B4" stroke-width="1.15" opacity="0.92"/><path d="M372.03 682.20H377.97M375.00 679.23V685.17" fill="none" stroke="#5A62B4" stroke-width="1.15" opacity="0.92"/><circle cx="375.00" cy="682.20" r="2.97" fill="none" stroke="#5A62B4" stroke-width="1.15" opacity="0.92"/><path d="M266.50 639.92L269.84 634.11H263.16Z" fill="none" stroke="#8391C4" stroke-width="1.15" opacity="0.92"/><path d="M270.40 640.72L273.74 634.91H267.06Z" fill="none" stroke="#8391C4" stroke-width="1.15" opacity="0.92"/><path d="M275.20 639.92L278.54 634.11H271.86Z" fill="none" stroke="#8391C4" stroke-width="1.15" opacity="0.92"/><path d="M279.20 643.92L282.54 638.11H275.86Z" fill="none" stroke="#8391C4" stroke-width="1.15" opacity="0.92"/><path d="M277.60 645.52L280.94 639.71H274.26Z" fill="none" stroke="#8391C4" stroke-width="1.15" opacity="0.92"/><path d="M290.00 658.52L293.34 652.71H286.66Z" fill="none" stroke="#8391C4" stroke-width="1.15" opacity="0.92"/><path d="M305.00 671.52L308.34 665.71H301.66Z" fill="none" stroke="#8391C4" stroke-width="1.15" opacity="0.92"/><path d="M324.40 681.52L327.74 675.71H321.06Z" fill="none" stroke="#8391C4" stroke-width="1.15" opacity="0.92"/><path d="M328.60 687.82L331.94 682.01H325.26Z" fill="none" stroke="#8391C4" stroke-width="1.15" opacity="0.92"/><path d="M249.40 666.40H256.00M252.70 663.10V669.70M250.32 664.02L255.08 668.78M250.32 668.78L255.08 664.02" fill="none" stroke="#E8412C" stroke-width="1.15" opacity="0.92"/><path d="M253.30 666.69H259.90M256.60 663.39V669.99M254.22 664.32L258.97 669.07M254.22 669.07L258.97 664.32" fill="none" stroke="#E8412C" stroke-width="1.15" opacity="0.92"/><path d="M257.20 666.99H263.80M260.50 663.69V670.29M258.12 664.61L262.87 669.36M258.12 669.36L262.87 664.61" fill="none" stroke="#E8412C" stroke-width="1.15" opacity="0.92"/><path d="M261.09 667.28H267.69M264.39 663.98V670.58M262.02 664.90L266.77 669.65M262.02 669.65L266.77 664.90" fill="none" stroke="#E8412C" stroke-width="1.15" opacity="0.92"/><path d="M264.99 667.57H271.59M268.29 664.27V670.87M265.92 665.20L270.67 669.95M265.92 669.95L270.67 665.20" fill="none" stroke="#E8412C" stroke-width="1.15" opacity="0.92"/><path d="M268.81 668.32H275.41M272.11 665.02V671.62M269.73 665.94L274.48 670.69M269.73 670.69L274.48 665.94" fill="none" stroke="#E8412C" stroke-width="1.15" opacity="0.92"/><path d="M272.56 669.41H279.16M275.86 666.11V672.71M273.48 667.04L278.24 671.79M273.48 671.79L278.24 667.04" fill="none" stroke="#E8412C" stroke-width="1.15" opacity="0.92"/><path d="M276.31 670.51H282.91M279.61 667.21V673.81M277.24 668.14L281.99 672.89M277.24 672.89L281.99 668.14" fill="none" stroke="#E8412C" stroke-width="1.15" opacity="0.92"/><path d="M279.65 672.47H286.25M282.95 669.17V675.77M280.57 670.09L285.32 674.85M280.57 674.85L285.32 670.09" fill="none" stroke="#E8412C" stroke-width="1.15" opacity="0.92"/><path d="M282.83 674.74H289.43M286.13 671.44V678.04M283.76 672.36L288.51 677.11M283.76 677.11L288.51 672.36" fill="none" stroke="#E8412C" stroke-width="1.15" opacity="0.92"/><path d="M286.02 677.00H292.62M289.32 673.70V680.30M286.94 674.63L291.69 679.38M286.94 679.38L291.69 674.63" fill="none" stroke="#E8412C" stroke-width="1.15" opacity="0.92"/><path d="M289.28 679.15H295.88M292.58 675.85V682.45M290.21 676.77L294.96 681.52M290.21 681.52L294.96 676.77" fill="none" stroke="#E8412C" stroke-width="1.15" opacity="0.92"/><path d="M292.64 681.15H299.24M295.94 677.85V684.45M293.56 678.78L298.31 683.53M293.56 683.53L298.31 678.78" fill="none" stroke="#E8412C" stroke-width="1.15" opacity="0.92"/><path d="M295.99 683.16H302.59M299.29 679.86V686.46M296.92 680.78L301.67 685.54M296.92 685.54L301.67 680.78" fill="none" stroke="#E8412C" stroke-width="1.15" opacity="0.92"/><path d="M299.42 685.01H306.02M302.72 681.71V688.31M300.35 682.63L305.10 687.39M300.35 687.39L305.10 682.63" fill="none" stroke="#E8412C" stroke-width="1.15" opacity="0.92"/><path d="M303.05 686.46H309.65M306.35 683.16V689.76M303.98 684.09L308.73 688.84M303.98 688.84L308.73 684.09" fill="none" stroke="#E8412C" stroke-width="1.15" opacity="0.92"/><path d="M306.68 687.91H313.28M309.98 684.61V691.21M307.61 685.54L312.36 690.29M307.61 690.29L312.36 685.54" fill="none" stroke="#E8412C" stroke-width="1.15" opacity="0.92"/><path d="M310.36 689.24H316.96M313.66 685.94V692.54M311.28 686.86L316.03 691.62M311.28 691.62L316.03 686.86" fill="none" stroke="#E8412C" stroke-width="1.15" opacity="0.92"/><path d="M314.10 690.37H320.70M317.40 687.07V693.67M315.02 687.99L319.77 692.75M315.02 692.75L319.77 687.99" fill="none" stroke="#E8412C" stroke-width="1.15" opacity="0.92"/><path d="M317.84 691.50H324.44M321.14 688.20V694.80M318.76 689.12L323.52 693.87M318.76 693.87L323.52 689.12" fill="none" stroke="#E8412C" stroke-width="1.15" opacity="0.92"/><path d="M321.59 692.62H328.19M324.89 689.32V695.92M322.51 690.24L327.26 694.99M322.51 694.99L327.26 690.24" fill="none" stroke="#E8412C" stroke-width="1.15" opacity="0.92"/><path d="M325.34 693.72H331.94M328.64 690.42V697.02M326.26 691.35L331.01 696.10M326.26 696.10L331.01 691.35" fill="none" stroke="#E8412C" stroke-width="1.15" opacity="0.92"/><path d="M329.08 694.83H335.68M332.38 691.53V698.13M330.01 692.45L334.76 697.21M330.01 697.21L334.76 692.45" fill="none" stroke="#E8412C" stroke-width="1.15" opacity="0.92"/><path d="M332.90 695.67H339.50M336.20 692.37V698.97M333.82 693.30L338.57 698.05M333.82 698.05L338.57 693.30" fill="none" stroke="#E8412C" stroke-width="1.15" opacity="0.92"/><path d="M336.73 696.43H343.33M340.03 693.13V699.73M337.66 694.06L342.41 698.81M337.66 698.81L342.41 694.06" fill="none" stroke="#E8412C" stroke-width="1.15" opacity="0.92"/><path d="M340.57 697.19H347.17M343.87 693.89V700.49M341.49 694.82L346.24 699.57M341.49 699.57L346.24 694.82" fill="none" stroke="#E8412C" stroke-width="1.15" opacity="0.92"/><path d="M344.46 697.52H351.06M347.76 694.22V700.82M345.39 695.15L350.14 699.90M345.39 699.90L350.14 695.15" fill="none" stroke="#E8412C" stroke-width="1.15" opacity="0.92"/><path d="M348.36 697.85H354.96M351.66 694.55V701.15M349.28 695.47L354.03 700.23M349.28 700.23L354.03 695.47" fill="none" stroke="#E8412C" stroke-width="1.15" opacity="0.92"/><path d="M352.25 698.18H358.85M355.55 694.88V701.48M353.18 695.80L357.93 700.55M353.18 700.55L357.93 695.80" fill="none" stroke="#E8412C" stroke-width="1.15" opacity="0.92"/><path d="M356.15 698.50H362.75M359.45 695.20V701.80M357.07 696.13L361.82 700.88M357.07 700.88L361.82 696.13" fill="none" stroke="#E8412C" stroke-width="1.15" opacity="0.92"/><path d="M360.04 698.83H366.64M363.34 695.53V702.13M360.97 696.45L365.72 701.20M360.97 701.20L365.72 696.45" fill="none" stroke="#E8412C" stroke-width="1.15" opacity="0.92"/><path d="M363.94 699.18H370.54M367.24 695.88V702.48M364.86 696.80L369.61 701.55M364.86 701.55L369.61 696.80" fill="none" stroke="#E8412C" stroke-width="1.15" opacity="0.92"/><path d="M367.82 699.64H374.42M371.12 696.34V702.94M368.74 697.26L373.49 702.01M368.74 702.01L373.49 697.26" fill="none" stroke="#E8412C" stroke-width="1.15" opacity="0.92"/><path d="M371.70 700.10H378.30M375.00 696.80V703.40M372.62 697.72L377.38 702.48M372.62 702.48L377.38 697.72" fill="none" stroke="#E8412C" stroke-width="1.15" opacity="0.92"/><path d="M264.54 658.24H270.26V663.96H264.54ZL270.26 663.96M264.54 663.96L270.26 658.24" fill="none" stroke="#7FCDB6" stroke-width="1.15" opacity="0.92"/><path d="M268.72 659.67H274.44V665.39H268.72ZL274.44 665.39M268.72 665.39L274.44 659.67" fill="none" stroke="#7FCDB6" stroke-width="1.15" opacity="0.92"/><path d="M272.90 661.09H278.62V666.81H272.90ZL278.62 666.81M272.90 666.81L278.62 661.09" fill="none" stroke="#7FCDB6" stroke-width="1.15" opacity="0.92"/><path d="M277.08 662.52H282.80V668.24H277.08ZL282.80 668.24M277.08 668.24L282.80 662.52" fill="none" stroke="#7FCDB6" stroke-width="1.15" opacity="0.92"/><path d="M281.07 664.39H286.79V670.11H281.07ZL286.79 670.11M281.07 670.11L286.79 664.39" fill="none" stroke="#7FCDB6" stroke-width="1.15" opacity="0.92"/><path d="M285.03 666.35H290.75V672.07H285.03ZL290.75 672.07M285.03 672.07L290.75 666.35" fill="none" stroke="#7FCDB6" stroke-width="1.15" opacity="0.92"/><path d="M288.96 668.37H294.68V674.09H288.96ZL294.68 674.09M288.96 674.09L294.68 668.37" fill="none" stroke="#7FCDB6" stroke-width="1.15" opacity="0.92"/><path d="M292.74 670.66H298.46V676.38H292.74ZL298.46 676.38M292.74 676.38L298.46 670.66" fill="none" stroke="#7FCDB6" stroke-width="1.15" opacity="0.92"/><path d="M296.52 672.94H302.24V678.66H296.52ZL302.24 678.66M296.52 678.66L302.24 672.94" fill="none" stroke="#7FCDB6" stroke-width="1.15" opacity="0.92"/><path d="M300.42 674.97H306.14V680.69H300.42ZL306.14 680.69M300.42 680.69L306.14 674.97" fill="none" stroke="#7FCDB6" stroke-width="1.15" opacity="0.92"/><path d="M304.52 676.61H310.24V682.33H304.52ZL310.24 682.33M304.52 682.33L310.24 676.61" fill="none" stroke="#7FCDB6" stroke-width="1.15" opacity="0.92"/><path d="M308.62 678.25H314.34V683.97H308.62ZL314.34 683.97M308.62 683.97L314.34 678.25" fill="none" stroke="#7FCDB6" stroke-width="1.15" opacity="0.92"/><path d="M312.83 679.59H318.55V685.31H312.83ZL318.55 685.31M312.83 685.31L318.55 679.59" fill="none" stroke="#7FCDB6" stroke-width="1.15" opacity="0.92"/><path d="M317.06 680.87H322.78V686.59H317.06ZL322.78 686.59M317.06 686.59L322.78 680.87" fill="none" stroke="#7FCDB6" stroke-width="1.15" opacity="0.92"/><path d="M321.29 682.14H327.01V687.86H321.29ZL327.01 687.86M321.29 687.86L327.01 682.14" fill="none" stroke="#7FCDB6" stroke-width="1.15" opacity="0.92"/><path d="M325.53 683.39H331.25V689.11H325.53ZL331.25 689.11M325.53 689.11L331.25 683.39" fill="none" stroke="#7FCDB6" stroke-width="1.15" opacity="0.92"/><path d="M329.76 684.64H335.48V690.36H329.76ZL335.48 690.36M329.76 690.36L335.48 684.64" fill="none" stroke="#7FCDB6" stroke-width="1.15" opacity="0.92"/><path d="M334.08 685.54H339.80V691.26H334.08ZL339.80 691.26M334.08 691.26L339.80 685.54" fill="none" stroke="#7FCDB6" stroke-width="1.15" opacity="0.92"/><path d="M338.42 686.37H344.14V692.09H338.42ZL344.14 692.09M338.42 692.09L344.14 686.37" fill="none" stroke="#7FCDB6" stroke-width="1.15" opacity="0.92"/><path d="M342.76 687.20H348.48V692.92H342.76ZL348.48 692.92M342.76 692.92L348.48 687.20" fill="none" stroke="#7FCDB6" stroke-width="1.15" opacity="0.92"/><path d="M347.10 688.03H352.82V693.75H347.10ZL352.82 693.75M347.10 693.75L352.82 688.03" fill="none" stroke="#7FCDB6" stroke-width="1.15" opacity="0.92"/><path d="M350.50 690.84H356.22V696.56H350.50ZL356.22 696.56M350.50 696.56L356.22 690.84" fill="none" stroke="#7FCDB6" stroke-width="1.15" opacity="0.92"/><path d="M354.03 693.44H359.75V699.16H354.03ZL359.75 699.16M354.03 699.16L359.75 693.44" fill="none" stroke="#7FCDB6" stroke-width="1.15" opacity="0.92"/><path d="M358.06 695.26H363.78V700.98H358.06ZL363.78 700.98M358.06 700.98L363.78 695.26" fill="none" stroke="#7FCDB6" stroke-width="1.15" opacity="0.92"/><path d="M362.09 697.07H367.81V702.79H362.09ZL367.81 702.79M362.09 702.79L367.81 697.07" fill="none" stroke="#7FCDB6" stroke-width="1.15" opacity="0.92"/><path d="M366.11 698.88H371.83V704.60H366.11ZL371.83 704.60M366.11 704.60L371.83 698.88" fill="none" stroke="#7FCDB6" stroke-width="1.15" opacity="0.92"/><path d="M370.14 700.69H375.86V706.41H370.14ZL375.86 706.41M370.14 706.41L375.86 700.69" fill="none" stroke="#7FCDB6" stroke-width="1.15" opacity="0.92"/><path d="M374.17 702.51H379.89V708.23H374.17ZL379.89 708.23M374.17 708.23L379.89 702.51" fill="none" stroke="#7FCDB6" stroke-width="1.15" opacity="0.92"/><path d="M378.45 703.58H384.17V709.30H378.45ZL384.17 709.30M378.45 709.30L384.17 703.58" fill="none" stroke="#7FCDB6" stroke-width="1.15" opacity="0.92"/><path d="M382.74 704.64H388.46V710.36H382.74ZL388.46 710.36M382.74 710.36L388.46 704.64" fill="none" stroke="#7FCDB6" stroke-width="1.15" opacity="0.92"/><path d="M214.54 545.34H220.26V551.06H214.54ZM214.54 551.06L217.40 545.34L220.26 551.06" fill="none" stroke="#2E9191" stroke-width="1.15" opacity="0.92"/><path d="M220.50 545.59H226.22V551.31H220.50ZM220.50 551.31L223.36 545.59L226.22 551.31" fill="none" stroke="#2E9191" stroke-width="1.15" opacity="0.92"/><path d="M226.46 545.84H232.18V551.56H226.46ZM226.46 551.56L229.32 545.84L232.18 551.56" fill="none" stroke="#2E9191" stroke-width="1.15" opacity="0.92"/><path d="M232.39 545.43H238.11V551.15H232.39ZM232.39 551.15L235.25 545.43L238.11 551.15" fill="none" stroke="#2E9191" stroke-width="1.15" opacity="0.92"/><path d="M238.30 544.59H244.02V550.31H238.30ZM238.30 550.31L241.16 544.59L244.02 550.31" fill="none" stroke="#2E9191" stroke-width="1.15" opacity="0.92"/><path d="M244.23 544.14H249.95V549.86H244.23ZM244.23 549.86L247.09 544.14L249.95 549.86" fill="none" stroke="#2E9191" stroke-width="1.15" opacity="0.92"/><path d="M250.20 544.14H255.92V549.86H250.20ZM250.20 549.86L253.06 544.14L255.92 549.86" fill="none" stroke="#2E9191" stroke-width="1.15" opacity="0.92"/><path d="M256.17 544.14H261.89V549.86H256.17ZM256.17 549.86L259.03 544.14L261.89 549.86" fill="none" stroke="#2E9191" stroke-width="1.15" opacity="0.92"/><path d="M262.04 544.92H267.76V550.64H262.04ZM262.04 550.64L264.90 544.92L267.76 550.64" fill="none" stroke="#2E9191" stroke-width="1.15" opacity="0.92"/><path d="M267.84 546.33H273.56V552.05H267.84ZM267.84 552.05L270.70 546.33L273.56 552.05" fill="none" stroke="#2E9191" stroke-width="1.15" opacity="0.92"/><path d="M273.42 548.38H279.14V554.10H273.42ZM273.42 554.10L276.28 548.38L279.14 554.10" fill="none" stroke="#2E9191" stroke-width="1.15" opacity="0.92"/><path d="M278.88 550.79H284.60V556.51H278.88ZM278.88 556.51L281.74 550.79L284.60 556.51" fill="none" stroke="#2E9191" stroke-width="1.15" opacity="0.92"/><path d="M284.76 551.57H290.48V557.29H284.76ZM284.76 557.29L287.62 551.57L290.48 557.29" fill="none" stroke="#2E9191" stroke-width="1.15" opacity="0.92"/><path d="M290.70 552.16H296.42V557.88H290.70ZM290.70 557.88L293.56 552.16L296.42 557.88" fill="none" stroke="#2E9191" stroke-width="1.15" opacity="0.92"/><path d="M296.64 552.74H302.36V558.46H296.64ZM296.64 558.46L299.50 552.74L302.36 558.46" fill="none" stroke="#2E9191" stroke-width="1.15" opacity="0.92"/><path d="M302.58 553.24H308.30V558.96H302.58ZM302.58 558.96L305.44 553.24L308.30 558.96" fill="none" stroke="#2E9191" stroke-width="1.15" opacity="0.92"/><path d="M308.55 553.24H314.27V558.96H308.55ZM308.55 558.96L311.41 553.24L314.27 558.96" fill="none" stroke="#2E9191" stroke-width="1.15" opacity="0.92"/><path d="M314.50 553.17H320.22V558.89H314.50ZM314.50 558.89L317.36 553.17L320.22 558.89" fill="none" stroke="#2E9191" stroke-width="1.15" opacity="0.92"/><path d="M320.03 550.93H325.75V556.65H320.03ZM320.03 556.65L322.89 550.93L325.75 556.65" fill="none" stroke="#2E9191" stroke-width="1.15" opacity="0.92"/><path d="M325.36 551.81H331.08V557.53H325.36ZM325.36 557.53L328.22 551.81L331.08 557.53" fill="none" stroke="#2E9191" stroke-width="1.15" opacity="0.92"/><path d="M330.55 554.75H336.27V560.47H330.55ZM330.55 560.47L333.41 554.75L336.27 560.47" fill="none" stroke="#2E9191" stroke-width="1.15" opacity="0.92"/><path d="M335.67 557.82H341.39V563.54H335.67ZM335.67 563.54L338.53 557.82L341.39 563.54" fill="none" stroke="#2E9191" stroke-width="1.15" opacity="0.92"/><path d="M340.70 561.01H346.42V566.73H340.70ZM340.70 566.73L343.56 561.01L346.42 566.73" fill="none" stroke="#2E9191" stroke-width="1.15" opacity="0.92"/><path d="M345.74 564.21H351.46V569.93H345.74ZM345.74 569.93L348.60 564.21L351.46 569.93" fill="none" stroke="#2E9191" stroke-width="1.15" opacity="0.92"/><path d="M350.61 567.66H356.33V573.38H350.61ZM350.61 573.38L353.47 567.66L356.33 573.38" fill="none" stroke="#2E9191" stroke-width="1.15" opacity="0.92"/><path d="M355.47 571.12H361.19V576.84H355.47ZM355.47 576.84L358.33 571.12L361.19 576.84" fill="none" stroke="#2E9191" stroke-width="1.15" opacity="0.92"/><path d="M359.90 575.10H365.62V580.82H359.90ZM359.90 580.82L362.76 575.10L365.62 580.82" fill="none" stroke="#2E9191" stroke-width="1.15" opacity="0.92"/><path d="M364.12 579.32H369.84V585.04H364.12ZM364.12 585.04L366.98 579.32L369.84 585.04" fill="none" stroke="#2E9191" stroke-width="1.15" opacity="0.92"/><path d="M369.24 582.27H374.96V587.99H369.24ZM369.24 587.99L372.10 582.27L374.96 587.99" fill="none" stroke="#2E9191" stroke-width="1.15" opacity="0.92"/><path d="M374.59 584.92H380.31V590.64H374.59ZM374.59 590.64L377.45 584.92L380.31 590.64" fill="none" stroke="#2E9191" stroke-width="1.15" opacity="0.92"/><path d="M378.60 588.81H384.32V594.53H378.60ZM378.60 594.53L381.46 588.81L384.32 594.53" fill="none" stroke="#2E9191" stroke-width="1.15" opacity="0.92"/><path d="M380.84 594.34H386.56V600.06H380.84ZM380.84 600.06L383.70 594.34L386.56 600.06" fill="none" stroke="#2E9191" stroke-width="1.15" opacity="0.92"/><rect x="125.48" y="673.79" width="5.83" height="5.83" fill="#D9573F" opacity="0.92"/><rect x="131.78" y="673.29" width="5.83" height="5.83" fill="#D9573F" opacity="0.92"/><rect x="138.19" y="672.79" width="5.83" height="5.83" fill="#D9573F" opacity="0.92"/><rect x="144.39" y="671.79" width="5.83" height="5.83" fill="#D9573F" opacity="0.92"/><rect x="150.28" y="669.38" width="5.83" height="5.83" fill="#D9573F" opacity="0.92"/><rect x="156.19" y="666.99" width="5.83" height="5.83" fill="#D9573F" opacity="0.92"/><rect x="161.89" y="664.09" width="5.83" height="5.83" fill="#D9573F" opacity="0.92"/><rect x="167.59" y="661.29" width="5.83" height="5.83" fill="#D9573F" opacity="0.92"/><rect x="173.69" y="659.49" width="5.83" height="5.83" fill="#D9573F" opacity="0.92"/><rect x="179.89" y="657.88" width="5.83" height="5.83" fill="#D9573F" opacity="0.92"/><rect x="186.09" y="656.49" width="5.83" height="5.83" fill="#D9573F" opacity="0.92"/><rect x="192.39" y="655.69" width="5.83" height="5.83" fill="#D9573F" opacity="0.92"/><rect x="198.69" y="654.88" width="5.83" height="5.83" fill="#D9573F" opacity="0.92"/><rect x="203.39" y="653.29" width="5.83" height="5.83" fill="#D9573F" opacity="0.92"/><rect x="209.78" y="652.49" width="5.83" height="5.83" fill="#D9573F" opacity="0.92"/><rect x="215.78" y="652.19" width="5.83" height="5.83" fill="#D9573F" opacity="0.92"/><rect x="221.59" y="652.49" width="5.83" height="5.83" fill="#D9573F" opacity="0.92"/><rect x="228.39" y="651.69" width="5.83" height="5.83" fill="#D9573F" opacity="0.92"/><rect x="235.39" y="645.88" width="5.83" height="5.83" fill="#D9573F" opacity="0.92"/><rect x="242.99" y="633.19" width="5.83" height="5.83" fill="#D9573F" opacity="0.92"/><rect x="250.59" y="620.09" width="5.83" height="5.83" fill="#D9573F" opacity="0.92"/><rect x="259.19" y="612.49" width="5.83" height="5.83" fill="#D9573F" opacity="0.92"/><rect x="267.08" y="612.49" width="5.83" height="5.83" fill="#D9573F" opacity="0.92"/><rect x="274.98" y="608.99" width="5.83" height="5.83" fill="#D9573F" opacity="0.92"/><rect x="282.58" y="609.79" width="5.83" height="5.83" fill="#D9573F" opacity="0.92"/><rect x="289.69" y="612.88" width="5.83" height="5.83" fill="#D9573F" opacity="0.92"/><rect x="295.98" y="616.88" width="5.83" height="5.83" fill="#D9573F" opacity="0.92"/><rect x="301.58" y="628.38" width="5.83" height="5.83" fill="#D9573F" opacity="0.92"/><rect x="307.58" y="616.88" width="5.83" height="5.83" fill="#D9573F" opacity="0.92"/><circle cx="116.50" cy="709.70" r="2.86" fill="none" stroke="#EE9A50" stroke-width="1.15" opacity="0.92"/><circle cx="118.36" cy="710.17" r="2.86" fill="none" stroke="#EE9A50" stroke-width="1.15" opacity="0.92"/><circle cx="120.93" cy="710.82" r="2.86" fill="none" stroke="#EE9A50" stroke-width="1.15" opacity="0.92"/><circle cx="123.85" cy="711.56" r="2.86" fill="none" stroke="#EE9A50" stroke-width="1.15" opacity="0.92"/><circle cx="127.04" cy="712.37" r="2.86" fill="none" stroke="#EE9A50" stroke-width="1.15" opacity="0.92"/><circle cx="130.43" cy="713.23" r="2.86" fill="none" stroke="#EE9A50" stroke-width="1.15" opacity="0.92"/><circle cx="134.04" cy="713.61" r="2.86" fill="none" stroke="#EE9A50" stroke-width="1.15" opacity="0.92"/><circle cx="137.87" cy="713.40" r="2.86" fill="none" stroke="#EE9A50" stroke-width="1.15" opacity="0.92"/><circle cx="141.84" cy="713.19" r="2.86" fill="none" stroke="#EE9A50" stroke-width="1.15" opacity="0.92"/><circle cx="145.93" cy="712.98" r="2.86" fill="none" stroke="#EE9A50" stroke-width="1.15" opacity="0.92"/><circle cx="150.14" cy="712.75" r="2.86" fill="none" stroke="#EE9A50" stroke-width="1.15" opacity="0.92"/><circle cx="154.46" cy="712.52" r="2.86" fill="none" stroke="#EE9A50" stroke-width="1.15" opacity="0.92"/><circle cx="158.87" cy="712.28" r="2.86" fill="none" stroke="#EE9A50" stroke-width="1.15" opacity="0.92"/><circle cx="163.37" cy="711.84" r="2.86" fill="none" stroke="#EE9A50" stroke-width="1.15" opacity="0.92"/><circle cx="167.95" cy="711.39" r="2.86" fill="none" stroke="#EE9A50" stroke-width="1.15" opacity="0.92"/><circle cx="172.61" cy="710.93" r="2.86" fill="none" stroke="#EE9A50" stroke-width="1.15" opacity="0.92"/><circle cx="177.36" cy="710.46" r="2.86" fill="none" stroke="#EE9A50" stroke-width="1.15" opacity="0.92"/><circle cx="182.17" cy="709.99" r="2.86" fill="none" stroke="#EE9A50" stroke-width="1.15" opacity="0.92"/><circle cx="187.06" cy="709.51" r="2.86" fill="none" stroke="#EE9A50" stroke-width="1.15" opacity="0.92"/><circle cx="192.02" cy="709.02" r="2.86" fill="none" stroke="#EE9A50" stroke-width="1.15" opacity="0.92"/><circle cx="197.04" cy="708.52" r="2.86" fill="none" stroke="#EE9A50" stroke-width="1.15" opacity="0.92"/><circle cx="202.12" cy="708.02" r="2.86" fill="none" stroke="#EE9A50" stroke-width="1.15" opacity="0.92"/><circle cx="207.27" cy="707.52" r="2.86" fill="none" stroke="#EE9A50" stroke-width="1.15" opacity="0.92"/><circle cx="212.48" cy="707.08" r="2.86" fill="none" stroke="#EE9A50" stroke-width="1.15" opacity="0.92"/><circle cx="217.77" cy="706.97" r="2.86" fill="none" stroke="#EE9A50" stroke-width="1.15" opacity="0.92"/><circle cx="223.11" cy="706.86" r="2.86" fill="none" stroke="#EE9A50" stroke-width="1.15" opacity="0.92"/><circle cx="228.51" cy="706.74" r="2.86" fill="none" stroke="#EE9A50" stroke-width="1.15" opacity="0.92"/><circle cx="233.95" cy="706.63" r="2.86" fill="none" stroke="#EE9A50" stroke-width="1.15" opacity="0.92"/><circle cx="239.45" cy="706.51" r="2.86" fill="none" stroke="#EE9A50" stroke-width="1.15" opacity="0.92"/><circle cx="245.00" cy="706.50" r="2.86" fill="none" stroke="#EE9A50" stroke-width="1.15" opacity="0.92"/><circle cx="62.40" cy="716.70" r="2.15" fill="#4A86C8" opacity="0.92"/><circle cx="63.02" cy="716.76" r="2.15" fill="#4A86C8" opacity="0.92"/><circle cx="64.28" cy="716.90" r="2.15" fill="#4A86C8" opacity="0.92"/><circle cx="65.99" cy="717.08" r="2.15" fill="#4A86C8" opacity="0.92"/><circle cx="68.10" cy="717.30" r="2.15" fill="#4A86C8" opacity="0.92"/><circle cx="70.54" cy="717.55" r="2.15" fill="#4A86C8" opacity="0.92"/><circle cx="73.30" cy="717.84" r="2.15" fill="#4A86C8" opacity="0.92"/><circle cx="76.35" cy="718.16" r="2.15" fill="#4A86C8" opacity="0.92"/><circle cx="79.67" cy="718.50" r="2.15" fill="#4A86C8" opacity="0.92"/><circle cx="83.27" cy="718.54" r="2.15" fill="#4A86C8" opacity="0.92"/><circle cx="87.12" cy="718.59" r="2.15" fill="#4A86C8" opacity="0.92"/><circle cx="91.20" cy="718.63" r="2.15" fill="#4A86C8" opacity="0.92"/><circle cx="95.52" cy="718.68" r="2.15" fill="#4A86C8" opacity="0.92"/><circle cx="100.06" cy="718.73" r="2.15" fill="#4A86C8" opacity="0.92"/><circle cx="104.81" cy="718.79" r="2.15" fill="#4A86C8" opacity="0.92"/><circle cx="109.77" cy="718.60" r="2.15" fill="#4A86C8" opacity="0.92"/><circle cx="114.92" cy="718.33" r="2.15" fill="#4A86C8" opacity="0.92"/><circle cx="120.28" cy="718.04" r="2.15" fill="#4A86C8" opacity="0.92"/><circle cx="125.82" cy="717.75" r="2.15" fill="#4A86C8" opacity="0.92"/><circle cx="131.55" cy="717.44" r="2.15" fill="#4A86C8" opacity="0.92"/><circle cx="137.47" cy="717.13" r="2.15" fill="#4A86C8" opacity="0.92"/><circle cx="143.57" cy="716.80" r="2.15" fill="#4A86C8" opacity="0.92"/><circle cx="149.85" cy="716.57" r="2.15" fill="#4A86C8" opacity="0.92"/><circle cx="156.30" cy="716.37" r="2.15" fill="#4A86C8" opacity="0.92"/><circle cx="162.93" cy="716.17" r="2.15" fill="#4A86C8" opacity="0.92"/><circle cx="169.72" cy="715.97" r="2.15" fill="#4A86C8" opacity="0.92"/><circle cx="176.64" cy="716.53" r="2.15" fill="#4A86C8" opacity="0.92"/><circle cx="183.70" cy="717.46" r="2.15" fill="#4A86C8" opacity="0.92"/><circle cx="190.92" cy="718.42" r="2.15" fill="#4A86C8" opacity="0.92"/><circle cx="198.30" cy="719.40" r="2.15" fill="#4A86C8" opacity="0.92"/><rect x="279.84" y="660.54" width="5.72" height="5.72" fill="none" stroke="#5BA56B" stroke-width="1.15" opacity="0.92"/><rect x="282.78" y="662.39" width="5.72" height="5.72" fill="none" stroke="#5BA56B" stroke-width="1.15" opacity="0.92"/><rect x="285.72" y="664.25" width="5.72" height="5.72" fill="none" stroke="#5BA56B" stroke-width="1.15" opacity="0.92"/><rect x="288.72" y="665.96" width="5.72" height="5.72" fill="none" stroke="#5BA56B" stroke-width="1.15" opacity="0.92"/><rect x="292.09" y="666.79" width="5.72" height="5.72" fill="none" stroke="#5BA56B" stroke-width="1.15" opacity="0.92"/><rect x="295.47" y="667.63" width="5.72" height="5.72" fill="none" stroke="#5BA56B" stroke-width="1.15" opacity="0.92"/><rect x="298.72" y="668.81" width="5.72" height="5.72" fill="none" stroke="#5BA56B" stroke-width="1.15" opacity="0.92"/><rect x="301.91" y="670.20" width="5.72" height="5.72" fill="none" stroke="#5BA56B" stroke-width="1.15" opacity="0.92"/><rect x="305.09" y="670.69" width="5.72" height="5.72" fill="none" stroke="#5BA56B" stroke-width="1.15" opacity="0.92"/><rect x="308.28" y="669.31" width="5.72" height="5.72" fill="none" stroke="#5BA56B" stroke-width="1.15" opacity="0.92"/><rect x="311.47" y="667.92" width="5.72" height="5.72" fill="none" stroke="#5BA56B" stroke-width="1.15" opacity="0.92"/><rect x="314.37" y="666.01" width="5.72" height="5.72" fill="none" stroke="#5BA56B" stroke-width="1.15" opacity="0.92"/><rect x="317.28" y="664.11" width="5.72" height="5.72" fill="none" stroke="#5BA56B" stroke-width="1.15" opacity="0.92"/><rect x="320.54" y="662.96" width="5.72" height="5.72" fill="none" stroke="#5BA56B" stroke-width="1.15" opacity="0.92"/><rect x="323.88" y="662.00" width="5.72" height="5.72" fill="none" stroke="#5BA56B" stroke-width="1.15" opacity="0.92"/><rect x="327.26" y="662.06" width="5.72" height="5.72" fill="none" stroke="#5BA56B" stroke-width="1.15" opacity="0.92"/><rect x="330.67" y="662.74" width="5.72" height="5.72" fill="none" stroke="#5BA56B" stroke-width="1.15" opacity="0.92"/><rect x="334.08" y="663.41" width="5.72" height="5.72" fill="none" stroke="#5BA56B" stroke-width="1.15" opacity="0.92"/><rect x="337.14" y="664.85" width="5.72" height="5.72" fill="none" stroke="#5BA56B" stroke-width="1.15" opacity="0.92"/><rect x="339.86" y="667.00" width="5.72" height="5.72" fill="none" stroke="#5BA56B" stroke-width="1.15" opacity="0.92"/><rect x="342.26" y="669.48" width="5.72" height="5.72" fill="none" stroke="#5BA56B" stroke-width="1.15" opacity="0.92"/><rect x="344.42" y="672.21" width="5.72" height="5.72" fill="none" stroke="#5BA56B" stroke-width="1.15" opacity="0.92"/><rect x="347.17" y="674.20" width="5.72" height="5.72" fill="none" stroke="#5BA56B" stroke-width="1.15" opacity="0.92"/><rect x="350.28" y="675.76" width="5.72" height="5.72" fill="none" stroke="#5BA56B" stroke-width="1.15" opacity="0.92"/><rect x="353.39" y="677.31" width="5.72" height="5.72" fill="none" stroke="#5BA56B" stroke-width="1.15" opacity="0.92"/><rect x="356.50" y="678.87" width="5.72" height="5.72" fill="none" stroke="#5BA56B" stroke-width="1.15" opacity="0.92"/><rect x="359.42" y="680.73" width="5.72" height="5.72" fill="none" stroke="#5BA56B" stroke-width="1.15" opacity="0.92"/><rect x="362.26" y="682.74" width="5.72" height="5.72" fill="none" stroke="#5BA56B" stroke-width="1.15" opacity="0.92"/><rect x="365.10" y="684.74" width="5.72" height="5.72" fill="none" stroke="#5BA56B" stroke-width="1.15" opacity="0.92"/><rect x="367.94" y="686.74" width="5.72" height="5.72" fill="none" stroke="#5BA56B" stroke-width="1.15" opacity="0.92"/><circle cx="94.10" cy="684.60" r="3.30" fill="#D3583B" opacity="0.92"/><circle cx="97.69" cy="686.59" r="3.30" fill="#D3583B" opacity="0.92"/><circle cx="101.28" cy="688.58" r="3.30" fill="#D3583B" opacity="0.92"/><circle cx="104.87" cy="690.57" r="3.30" fill="#D3583B" opacity="0.92"/><circle cx="108.62" cy="690.17" r="3.30" fill="#D3583B" opacity="0.92"/><circle cx="112.43" cy="688.67" r="3.30" fill="#D3583B" opacity="0.92"/><circle cx="116.25" cy="687.16" r="3.30" fill="#D3583B" opacity="0.92"/><circle cx="120.09" cy="686.29" r="3.30" fill="#D3583B" opacity="0.92"/><circle cx="123.99" cy="687.58" r="3.30" fill="#D3583B" opacity="0.92"/><circle cx="127.84" cy="688.97" r="3.30" fill="#D3583B" opacity="0.92"/><circle cx="131.51" cy="690.81" r="3.30" fill="#D3583B" opacity="0.92"/><circle cx="135.19" cy="692.64" r="3.30" fill="#D3583B" opacity="0.92"/><circle cx="138.86" cy="694.48" r="3.30" fill="#D3583B" opacity="0.92"/><circle cx="142.74" cy="695.68" r="3.30" fill="#D3583B" opacity="0.92"/><circle cx="146.77" cy="696.47" r="3.30" fill="#D3583B" opacity="0.92"/><circle cx="150.80" cy="697.27" r="3.30" fill="#D3583B" opacity="0.92"/><circle cx="154.83" cy="697.58" r="3.30" fill="#D3583B" opacity="0.92"/><circle cx="158.88" cy="696.91" r="3.30" fill="#D3583B" opacity="0.92"/><circle cx="162.93" cy="696.25" r="3.30" fill="#D3583B" opacity="0.92"/><circle cx="166.98" cy="695.58" r="3.30" fill="#D3583B" opacity="0.92"/><circle cx="170.70" cy="694.14" r="3.30" fill="#D3583B" opacity="0.92"/><circle cx="173.98" cy="691.68" r="3.30" fill="#D3583B" opacity="0.92"/><circle cx="177.26" cy="689.21" r="3.30" fill="#D3583B" opacity="0.92"/><circle cx="180.54" cy="686.74" r="3.30" fill="#D3583B" opacity="0.92"/><circle cx="183.82" cy="684.27" r="3.30" fill="#D3583B" opacity="0.92"/><circle cx="187.50" cy="682.59" r="3.30" fill="#D3583B" opacity="0.92"/><circle cx="191.44" cy="681.43" r="3.30" fill="#D3583B" opacity="0.92"/><circle cx="195.37" cy="680.27" r="3.30" fill="#D3583B" opacity="0.92"/><circle cx="199.24" cy="679.87" r="3.30" fill="#D3583B" opacity="0.92"/><circle cx="202.92" cy="681.68" r="3.30" fill="#D3583B" opacity="0.92"/><circle cx="206.55" cy="683.59" r="3.30" fill="#D3583B" opacity="0.92"/><circle cx="209.70" cy="686.22" r="3.30" fill="#D3583B" opacity="0.92"/><circle cx="212.85" cy="688.85" r="3.30" fill="#D3583B" opacity="0.92"/><circle cx="216.55" cy="690.20" r="3.30" fill="#D3583B" opacity="0.92"/><circle cx="220.63" cy="690.70" r="3.30" fill="#D3583B" opacity="0.92"/><circle cx="224.70" cy="691.20" r="3.30" fill="#D3583B" opacity="0.92"/><path d="M63.70 711.60C72.95 709.20 101.17 702.48 119.20 697.20C137.23 691.92 151.77 686.47 171.90 679.90C192.03 673.32 221.62 662.28 240.00 657.77C258.38 653.25 268.13 654.16 282.20 652.83C296.27 651.50 311.72 650.67 324.40 649.80C337.08 648.93 349.03 648.30 358.30 647.60C367.57 646.90 371.98 646.03 380.00 645.60C388.02 645.17 397.60 643.72 406.40 645.00C415.20 646.28 424.00 649.56 432.80 653.29C441.60 657.01 450.42 662.04 459.20 667.35C467.98 672.66 476.72 679.18 485.50 685.16C494.28 691.13 500.68 693.80 511.90 703.21C523.12 712.61 545.98 735.20 552.80 741.60 L552.80 770.60C545.98 762.03 523.12 731.32 511.90 719.19C500.68 707.07 494.28 704.60 485.50 697.84C476.72 691.09 467.98 684.34 459.20 678.65C450.42 672.96 441.60 667.66 432.80 663.71C424.00 659.77 415.20 656.35 406.40 655.00C397.60 653.65 388.02 655.17 380.00 655.60C371.98 656.03 367.57 656.90 358.30 657.60C349.03 658.30 337.08 658.91 324.40 659.80C311.72 660.69 296.27 661.56 282.20 662.97C268.13 664.38 258.38 663.58 240.00 668.23C221.62 672.89 192.03 683.41 171.90 690.90C151.77 698.40 137.23 704.25 119.20 713.20C101.17 722.15 72.95 739.37 63.70 744.60Z" fill="#999999" fill-opacity="0.45"/><path d="M63.70 728.10C72.95 724.28 101.17 712.32 119.20 705.20C137.23 698.08 151.77 692.43 171.90 685.40C192.03 678.37 221.62 667.58 240.00 663.00C258.38 658.42 268.13 659.27 282.20 657.90C296.27 656.53 311.72 655.68 324.40 654.80C337.08 653.92 349.03 653.30 358.30 652.60C367.57 651.90 371.98 651.03 380.00 650.60C388.02 650.17 397.60 648.68 406.40 650.00C415.20 651.32 424.00 654.67 432.80 658.50C441.60 662.33 450.42 667.50 459.20 673.00C467.98 678.50 476.72 685.13 485.50 691.50C494.28 697.87 500.68 700.43 511.90 711.20C523.12 721.97 545.98 748.62 552.80 756.10" fill="none" stroke="#7FA0DE" stroke-width="3.1" stroke-linejoin="round"/><path d="M39.0 449.9V787.0H577.8" fill="none" stroke="#1a1a1a" stroke-width="1.8"/><path d="M35.6 736.4H39.0" stroke="#2a2a2a" stroke-width="1.6"/><text x="32.5" y="740.6" font-size="12.9" fill="#4D4D4D" text-anchor="end">0</text><path d="M35.6 676.2H39.0" stroke="#2a2a2a" stroke-width="1.6"/><text x="32.5" y="680.5" font-size="12.9" fill="#4D4D4D" text-anchor="end">5</text><path d="M35.6 616.1H39.0" stroke="#2a2a2a" stroke-width="1.6"/><text x="32.5" y="620.3" font-size="12.9" fill="#4D4D4D" text-anchor="end">10</text><path d="M35.6 556.0H39.0" stroke="#2a2a2a" stroke-width="1.6"/><text x="32.5" y="560.2" font-size="12.9" fill="#4D4D4D" text-anchor="end">15</text><path d="M35.6 495.8H39.0" stroke="#2a2a2a" stroke-width="1.6"/><text x="32.5" y="500.0" font-size="12.9" fill="#4D4D4D" text-anchor="end">20</text><path d="M190.4 787.0V790.6" stroke="#2a2a2a" stroke-width="1.6"/><text x="190.4" y="802.8" font-size="12.9" fill="#4D4D4D" text-anchor="middle">0.4</text><path d="M342.4 787.0V790.6" stroke="#2a2a2a" stroke-width="1.6"/><text x="342.4" y="802.8" font-size="12.9" fill="#4D4D4D" text-anchor="middle">0.6</text><path d="M494.4 787.0V790.6" stroke="#2a2a2a" stroke-width="1.6"/><text x="494.4" y="802.8" font-size="12.9" fill="#4D4D4D" text-anchor="middle">0.8</text><text x="308.3" y="819.6" font-size="15.2" fill="#111" text-anchor="middle">SDI</text><text transform="translate(12.6 618.5) rotate(-90)" font-size="15" fill="#111" text-anchor="middle">Death rate (per 100,000)</text><text x="5.5" y="430.0" font-size="20" fill="#111">(B) Ambient PM<tspan font-size="13.5" dy="4">2.5</tspan><tspan dy="-4"> pollution</tspan></text><circle cx="602.90" cy="523.50" r="2.47" fill="none" stroke="#F07F6A" stroke-width="1.15"/><text x="613.5" y="527.4" font-size="10.8" fill="#1e1e1e">Global</text><path d="M602.90 530.11L606.24 535.92H599.56Z" fill="none" stroke="#5CC4DB" stroke-width="1.15"/><text x="613.5" y="537.5" font-size="10.8" fill="#1e1e1e">High−income Asia Pacific</text><path d="M599.27 543.76H606.53M602.90 540.13V547.39" fill="none" stroke="#3D9E7E" stroke-width="1.15"/><text x="613.5" y="547.7" font-size="10.8" fill="#1e1e1e">High−income North America</text><path d="M600.40 551.39L605.40 556.39M600.40 556.39L605.40 551.39" fill="none" stroke="#434C8E" stroke-width="1.15"/><text x="613.5" y="557.8" font-size="10.8" fill="#1e1e1e">Western Europe</text><path d="M602.90 560.39L606.53 564.02L602.90 567.65L599.27 564.02Z" fill="none" stroke="#F5A08A" stroke-width="1.15"/><text x="613.5" y="567.9" font-size="10.8" fill="#1e1e1e">Australasia</text><path d="M602.90 577.67L606.24 571.86H599.56Z" fill="none" stroke="#8391C4" stroke-width="1.15"/><text x="613.5" y="578.0" font-size="10.8" fill="#1e1e1e">Andean Latin America</text><path d="M600.30 581.68H605.50V586.88H600.30ZL605.50 586.88M600.30 586.88L605.50 581.68" fill="none" stroke="#7FCDB6" stroke-width="1.15"/><text x="613.5" y="588.2" font-size="10.8" fill="#1e1e1e">Tropical Latin America</text><path d="M599.60 594.41H606.20M602.90 591.11V597.71M600.52 592.03L605.28 596.79M600.52 596.79L605.28 592.03" fill="none" stroke="#E8412C" stroke-width="1.15"/><text x="613.5" y="598.3" font-size="10.8" fill="#1e1e1e">Central Latin America</text><path d="M602.90 600.91L606.53 604.54L602.90 608.17L599.27 604.54ZM599.27 604.54H606.53M602.90 600.91V608.17" fill="none" stroke="#8A6A50" stroke-width="1.15"/><text x="613.5" y="608.4" font-size="10.8" fill="#1e1e1e">Southern Latin America</text><path d="M600.20 614.67H605.60M602.90 611.97V617.37" fill="none" stroke="#5A62B4" stroke-width="1.15"/><circle cx="602.90" cy="614.67" r="2.70" fill="none" stroke="#5A62B4" stroke-width="1.15"/><text x="613.5" y="618.6" font-size="10.8" fill="#1e1e1e">Caribbean</text><path d="M602.90 620.95L606.37 626.72H599.43ZM602.90 628.65L606.37 622.88H599.43Z" fill="none" stroke="#E8523E" stroke-width="1.15"/><text x="613.5" y="628.7" font-size="10.8" fill="#1e1e1e">Central Europe</text><path d="M600.30 632.33H605.50V637.53H600.30ZM600.30 634.93H605.50M602.90 632.33V637.53" fill="none" stroke="#4F9E5A" stroke-width="1.15"/><text x="613.5" y="638.8" font-size="10.8" fill="#1e1e1e">Eastern Europe</text><path d="M600.30 642.46H605.50V647.66H600.30ZM600.30 642.46L605.50 647.66M600.30 647.66L605.50 642.46M600.30 645.06H605.50M602.90 642.46V647.66" fill="none" stroke="#6E3F9E" stroke-width="0.92"/><text x="613.5" y="649.0" font-size="10.8" fill="#1e1e1e">Central Asia</text><path d="M600.30 652.59H605.50V657.79H600.30ZM600.30 657.79L602.90 652.59L605.50 657.79" fill="none" stroke="#2E9191" stroke-width="1.15"/><text x="613.5" y="659.1" font-size="10.8" fill="#1e1e1e">North Africa and Middle East</text><rect x="600.25" y="662.67" width="5.30" height="5.30" fill="#D9573F"/><text x="613.5" y="669.2" font-size="10.8" fill="#1e1e1e">South Asia</text><circle cx="602.90" cy="675.45" r="2.75" fill="#7E73C0"/><text x="613.5" y="679.4" font-size="10.8" fill="#1e1e1e">Southeast Asia</text><path d="M602.90 681.80L606.68 688.23H599.12Z" fill="#B04F7B"/><text x="613.5" y="689.5" font-size="10.8" fill="#1e1e1e">East Asia</text><path d="M602.90 692.81L605.80 695.71L602.90 698.61L600.00 695.71Z" fill="#8E8E8E"/><text x="613.5" y="699.6" font-size="10.8" fill="#1e1e1e">Oceania</text><circle cx="602.90" cy="705.84" r="3.15" fill="#D3583B"/><text x="613.5" y="709.7" font-size="10.8" fill="#1e1e1e">Western Sub−Saharan Africa</text><circle cx="602.90" cy="715.97" r="2.15" fill="#4A86C8"/><text x="613.5" y="719.9" font-size="10.8" fill="#1e1e1e">Eastern Sub−Saharan Africa</text><circle cx="602.90" cy="726.10" r="2.47" fill="none" stroke="#EE9A50" stroke-width="1.15"/><text x="613.5" y="730.0" font-size="10.8" fill="#1e1e1e">Central Sub−Saharan Africa</text><rect x="600.30" y="733.63" width="5.20" height="5.20" fill="none" stroke="#5BA56B" stroke-width="1.15"/><text x="613.5" y="740.1" font-size="10.8" fill="#1e1e1e">Southern Sub−Saharan Africa</text><circle cx="284.00" cy="1083.70" r="2.86" fill="none" stroke="#F07F6A" stroke-width="1.15" opacity="0.92"/><circle cx="287.95" cy="1085.38" r="2.86" fill="none" stroke="#F07F6A" stroke-width="1.15" opacity="0.92"/><circle cx="291.90" cy="1087.07" r="2.86" fill="none" stroke="#F07F6A" stroke-width="1.15" opacity="0.92"/><circle cx="295.84" cy="1088.75" r="2.86" fill="none" stroke="#F07F6A" stroke-width="1.15" opacity="0.92"/><circle cx="299.77" cy="1090.49" r="2.86" fill="none" stroke="#F07F6A" stroke-width="1.15" opacity="0.92"/><circle cx="303.68" cy="1092.24" r="2.86" fill="none" stroke="#F07F6A" stroke-width="1.15" opacity="0.92"/><circle cx="307.60" cy="1094.00" r="2.86" fill="none" stroke="#F07F6A" stroke-width="1.15" opacity="0.92"/><circle cx="311.51" cy="1095.76" r="2.86" fill="none" stroke="#F07F6A" stroke-width="1.15" opacity="0.92"/><circle cx="315.43" cy="1097.51" r="2.86" fill="none" stroke="#F07F6A" stroke-width="1.15" opacity="0.92"/><circle cx="319.34" cy="1099.29" r="2.86" fill="none" stroke="#F07F6A" stroke-width="1.15" opacity="0.92"/><circle cx="323.24" cy="1101.06" r="2.86" fill="none" stroke="#F07F6A" stroke-width="1.15" opacity="0.92"/><circle cx="327.15" cy="1102.84" r="2.86" fill="none" stroke="#F07F6A" stroke-width="1.15" opacity="0.92"/><circle cx="331.06" cy="1104.61" r="2.86" fill="none" stroke="#F07F6A" stroke-width="1.15" opacity="0.92"/><circle cx="334.88" cy="1106.53" r="2.86" fill="none" stroke="#F07F6A" stroke-width="1.15" opacity="0.92"/><circle cx="338.49" cy="1108.86" r="2.86" fill="none" stroke="#F07F6A" stroke-width="1.15" opacity="0.92"/><circle cx="342.10" cy="1111.18" r="2.86" fill="none" stroke="#F07F6A" stroke-width="1.15" opacity="0.92"/><circle cx="345.71" cy="1113.50" r="2.86" fill="none" stroke="#F07F6A" stroke-width="1.15" opacity="0.92"/><circle cx="349.40" cy="1115.70" r="2.86" fill="none" stroke="#F07F6A" stroke-width="1.15" opacity="0.92"/><circle cx="353.11" cy="1117.84" r="2.86" fill="none" stroke="#F07F6A" stroke-width="1.15" opacity="0.92"/><circle cx="356.83" cy="1119.98" r="2.86" fill="none" stroke="#F07F6A" stroke-width="1.15" opacity="0.92"/><circle cx="359.72" cy="1123.05" r="2.86" fill="none" stroke="#F07F6A" stroke-width="1.15" opacity="0.92"/><circle cx="362.28" cy="1126.50" r="2.86" fill="none" stroke="#F07F6A" stroke-width="1.15" opacity="0.92"/><circle cx="364.73" cy="1130.02" r="2.86" fill="none" stroke="#F07F6A" stroke-width="1.15" opacity="0.92"/><circle cx="367.10" cy="1133.60" r="2.86" fill="none" stroke="#F07F6A" stroke-width="1.15" opacity="0.92"/><path d="M244.30 1043.34L248.26 1050.07H240.34Z" fill="#B04F7B" opacity="0.92"/><path d="M250.55 1046.29L254.51 1053.02H246.59Z" fill="#B04F7B" opacity="0.92"/><path d="M256.80 1049.23L260.76 1055.96H252.84Z" fill="#B04F7B" opacity="0.92"/><path d="M262.81 1052.63L266.77 1059.36H258.85Z" fill="#B04F7B" opacity="0.92"/><path d="M268.74 1056.17L272.70 1062.90H264.78Z" fill="#B04F7B" opacity="0.92"/><path d="M274.82 1059.45L278.78 1066.18H270.86Z" fill="#B04F7B" opacity="0.92"/><path d="M280.98 1062.59L284.94 1069.32H277.02Z" fill="#B04F7B" opacity="0.92"/><path d="M287.13 1065.73L291.09 1072.46H283.17Z" fill="#B04F7B" opacity="0.92"/><path d="M293.30 1068.85L297.26 1075.58H289.34Z" fill="#B04F7B" opacity="0.92"/><path d="M299.48 1071.93L303.44 1078.66H295.52Z" fill="#B04F7B" opacity="0.92"/><path d="M305.79 1074.74L309.75 1081.47H301.83Z" fill="#B04F7B" opacity="0.92"/><path d="M312.10 1077.55L316.06 1084.29H308.14Z" fill="#B04F7B" opacity="0.92"/><path d="M317.97 1081.21L321.93 1087.94H314.01Z" fill="#B04F7B" opacity="0.92"/><path d="M323.81 1084.89L327.77 1091.63H319.85Z" fill="#B04F7B" opacity="0.92"/><path d="M329.50 1088.80L333.46 1095.53H325.54Z" fill="#B04F7B" opacity="0.92"/><path d="M335.02 1092.96L338.98 1099.69H331.06Z" fill="#B04F7B" opacity="0.92"/><path d="M340.52 1097.14L344.48 1103.87H336.56Z" fill="#B04F7B" opacity="0.92"/><path d="M345.61 1101.81L349.57 1108.55H341.65Z" fill="#B04F7B" opacity="0.92"/><path d="M350.70 1106.49L354.66 1113.22H346.74Z" fill="#B04F7B" opacity="0.92"/><path d="M355.79 1111.16L359.75 1117.89H351.83Z" fill="#B04F7B" opacity="0.92"/><path d="M361.62 1114.86L365.58 1121.59H357.66Z" fill="#B04F7B" opacity="0.92"/><path d="M367.50 1118.49L371.46 1125.22H363.54Z" fill="#B04F7B" opacity="0.92"/><path d="M373.51 1121.88L377.47 1128.61H369.55Z" fill="#B04F7B" opacity="0.92"/><path d="M379.63 1125.09L383.59 1131.82H375.67Z" fill="#B04F7B" opacity="0.92"/><path d="M385.75 1128.30L389.71 1135.03H381.79Z" fill="#B04F7B" opacity="0.92"/><path d="M390.12 1133.57L394.08 1140.31H386.16Z" fill="#B04F7B" opacity="0.92"/><path d="M394.27 1139.09L398.23 1145.83H390.31Z" fill="#B04F7B" opacity="0.92"/><path d="M398.46 1144.58L402.42 1151.31H394.50Z" fill="#B04F7B" opacity="0.92"/><path d="M403.68 1149.11L407.64 1155.84H399.72Z" fill="#B04F7B" opacity="0.92"/><path d="M408.90 1153.64L412.86 1160.37H404.94Z" fill="#B04F7B" opacity="0.92"/><circle cx="238.50" cy="999.80" r="3.03" fill="#7E73C0" opacity="0.92"/><circle cx="243.00" cy="1004.11" r="3.03" fill="#7E73C0" opacity="0.92"/><circle cx="247.50" cy="1008.42" r="3.03" fill="#7E73C0" opacity="0.92"/><circle cx="252.24" cy="1012.43" r="3.03" fill="#7E73C0" opacity="0.92"/><circle cx="257.38" cy="1015.95" r="3.03" fill="#7E73C0" opacity="0.92"/><circle cx="262.52" cy="1019.48" r="3.03" fill="#7E73C0" opacity="0.92"/><circle cx="267.60" cy="1023.09" r="3.03" fill="#7E73C0" opacity="0.92"/><circle cx="272.67" cy="1026.71" r="3.03" fill="#7E73C0" opacity="0.92"/><circle cx="277.53" cy="1030.60" r="3.03" fill="#7E73C0" opacity="0.92"/><circle cx="282.22" cy="1034.70" r="3.03" fill="#7E73C0" opacity="0.92"/><circle cx="287.06" cy="1038.59" r="3.03" fill="#7E73C0" opacity="0.92"/><circle cx="292.49" cy="1041.64" r="3.03" fill="#7E73C0" opacity="0.92"/><circle cx="297.93" cy="1044.69" r="3.03" fill="#7E73C0" opacity="0.92"/><circle cx="303.62" cy="1047.19" r="3.03" fill="#7E73C0" opacity="0.92"/><circle cx="309.40" cy="1049.53" r="3.03" fill="#7E73C0" opacity="0.92"/><circle cx="314.81" cy="1052.52" r="3.03" fill="#7E73C0" opacity="0.92"/><circle cx="319.86" cy="1056.18" r="3.03" fill="#7E73C0" opacity="0.92"/><circle cx="324.30" cy="1060.54" r="3.03" fill="#7E73C0" opacity="0.92"/><circle cx="328.68" cy="1064.96" r="3.03" fill="#7E73C0" opacity="0.92"/><circle cx="332.46" cy="1069.87" r="3.03" fill="#7E73C0" opacity="0.92"/><circle cx="335.66" cy="1075.21" r="3.03" fill="#7E73C0" opacity="0.92"/><circle cx="338.89" cy="1080.54" r="3.03" fill="#7E73C0" opacity="0.92"/><circle cx="342.72" cy="1085.45" r="3.03" fill="#7E73C0" opacity="0.92"/><circle cx="346.54" cy="1090.37" r="3.03" fill="#7E73C0" opacity="0.92"/><circle cx="350.32" cy="1095.33" r="3.03" fill="#7E73C0" opacity="0.92"/><circle cx="353.76" cy="1100.51" r="3.03" fill="#7E73C0" opacity="0.92"/><circle cx="356.95" cy="1105.86" r="3.03" fill="#7E73C0" opacity="0.92"/><circle cx="360.26" cy="1111.14" r="3.03" fill="#7E73C0" opacity="0.92"/><circle cx="363.70" cy="1116.34" r="3.03" fill="#7E73C0" opacity="0.92"/><circle cx="367.57" cy="1120.89" r="3.03" fill="#7E73C0" opacity="0.92"/><circle cx="373.69" cy="1122.10" r="3.03" fill="#7E73C0" opacity="0.92"/><circle cx="379.80" cy="1123.30" r="3.03" fill="#7E73C0" opacity="0.92"/><path d="M183.20 880.51L186.39 883.70L183.20 886.89L180.01 883.70Z" fill="#8E8E8E" opacity="0.92"/><path d="M188.50 887.41L191.69 890.60L188.50 893.79L185.31 890.60Z" fill="#8E8E8E" opacity="0.92"/><path d="M190.60 891.91L193.79 895.10L190.60 898.29L187.41 895.10Z" fill="#8E8E8E" opacity="0.92"/><path d="M195.10 897.11L198.29 900.30L195.10 903.49L191.91 900.30Z" fill="#8E8E8E" opacity="0.92"/><path d="M199.60 899.81L202.79 903.00L199.60 906.19L196.41 903.00Z" fill="#8E8E8E" opacity="0.92"/><path d="M203.00 906.41L206.19 909.60L203.00 912.79L199.81 909.60Z" fill="#8E8E8E" opacity="0.92"/><path d="M204.30 902.41L207.49 905.60L204.30 908.79L201.11 905.60Z" fill="#8E8E8E" opacity="0.92"/><path d="M209.60 906.41L212.79 909.60L209.60 912.79L206.41 909.60Z" fill="#8E8E8E" opacity="0.92"/><path d="M212.20 909.01L215.39 912.20L212.20 915.39L209.01 912.20Z" fill="#8E8E8E" opacity="0.92"/><path d="M213.50 913.01L216.69 916.20L213.50 919.39L210.31 916.20Z" fill="#8E8E8E" opacity="0.92"/><path d="M217.50 911.71L220.69 914.90L217.50 918.09L214.31 914.90Z" fill="#8E8E8E" opacity="0.92"/><path d="M221.50 918.31L224.69 921.50L221.50 924.69L218.31 921.50Z" fill="#8E8E8E" opacity="0.92"/><path d="M222.80 919.61L225.99 922.80L222.80 925.99L219.61 922.80Z" fill="#8E8E8E" opacity="0.92"/><path d="M224.10 920.91L227.29 924.10L224.10 927.29L220.91 924.10Z" fill="#8E8E8E" opacity="0.92"/><path d="M218.80 924.81L221.99 928.00L218.80 931.19L215.61 928.00Z" fill="#8E8E8E" opacity="0.92"/><path d="M225.40 930.11L228.59 933.30L225.40 936.49L222.21 933.30Z" fill="#8E8E8E" opacity="0.92"/><path d="M229.40 931.41L232.59 934.60L229.40 937.79L226.21 934.60Z" fill="#8E8E8E" opacity="0.92"/><path d="M233.30 940.71L236.49 943.90L233.30 947.09L230.11 943.90Z" fill="#8E8E8E" opacity="0.92"/><path d="M237.30 943.31L240.49 946.50L237.30 949.69L234.11 946.50Z" fill="#8E8E8E" opacity="0.92"/><path d="M239.90 944.61L243.09 947.80L239.90 950.99L236.71 947.80Z" fill="#8E8E8E" opacity="0.92"/><path d="M241.20 946.51L244.39 949.70L241.20 952.89L238.01 949.70Z" fill="#8E8E8E" opacity="0.92"/><path d="M310.84 1051.04H316.56V1056.76H310.84ZM310.84 1051.04L316.56 1056.76M310.84 1056.76L316.56 1051.04M310.84 1053.90H316.56M313.70 1051.04V1056.76" fill="none" stroke="#6E3F9E" stroke-width="0.92" opacity="0.92"/><path d="M316.04 1052.34H321.76V1058.06H316.04ZM316.04 1052.34L321.76 1058.06M316.04 1058.06L321.76 1052.34M316.04 1055.20H321.76M318.90 1052.34V1058.06" fill="none" stroke="#6E3F9E" stroke-width="0.92" opacity="0.92"/><path d="M310.84 1056.34H316.56V1062.06H310.84ZM310.84 1056.34L316.56 1062.06M310.84 1062.06L316.56 1056.34M310.84 1059.20H316.56M313.70 1056.34V1062.06" fill="none" stroke="#6E3F9E" stroke-width="0.92" opacity="0.92"/><path d="M321.34 1057.64H327.06V1063.36H321.34ZM321.34 1057.64L327.06 1063.36M321.34 1063.36L327.06 1057.64M321.34 1060.50H327.06M324.20 1057.64V1063.36" fill="none" stroke="#6E3F9E" stroke-width="0.92" opacity="0.92"/><path d="M324.04 1061.54H329.76V1067.26H324.04ZM324.04 1061.54L329.76 1067.26M324.04 1067.26L329.76 1061.54M324.04 1064.40H329.76M326.90 1061.54V1067.26" fill="none" stroke="#6E3F9E" stroke-width="0.92" opacity="0.92"/><path d="M327.94 1066.84H333.66V1072.56H327.94ZM327.94 1066.84L333.66 1072.56M327.94 1072.56L333.66 1066.84M327.94 1069.70H333.66M330.80 1066.84V1072.56" fill="none" stroke="#6E3F9E" stroke-width="0.92" opacity="0.92"/><path d="M331.94 1074.74H337.66V1080.46H331.94ZM331.94 1074.74L337.66 1080.46M331.94 1080.46L337.66 1074.74M331.94 1077.60H337.66M334.80 1074.74V1080.46" fill="none" stroke="#6E3F9E" stroke-width="0.92" opacity="0.92"/><path d="M309.44 1069.44H315.16V1075.16H309.44ZM309.44 1069.44L315.16 1075.16M309.44 1075.16L315.16 1069.44M309.44 1072.30H315.16M312.30 1069.44V1075.16" fill="none" stroke="#6E3F9E" stroke-width="0.92" opacity="0.92"/><path d="M306.84 1078.74H312.56V1084.46H306.84ZM306.84 1078.74L312.56 1084.46M306.84 1084.46L312.56 1078.74M306.84 1081.60H312.56M309.70 1078.74V1084.46" fill="none" stroke="#6E3F9E" stroke-width="0.92" opacity="0.92"/><path d="M337.14 1082.64H342.86V1088.36H337.14ZM337.14 1082.64L342.86 1088.36M337.14 1088.36L342.86 1082.64M337.14 1085.50H342.86M340.00 1082.64V1088.36" fill="none" stroke="#6E3F9E" stroke-width="0.92" opacity="0.92"/><path d="M341.14 1089.24H346.86V1094.96H341.14ZM341.14 1089.24L346.86 1094.96M341.14 1094.96L346.86 1089.24M341.14 1092.10H346.86M344.00 1089.24V1094.96" fill="none" stroke="#6E3F9E" stroke-width="0.92" opacity="0.92"/><path d="M346.44 1093.24H352.16V1098.96H346.44ZM346.44 1093.24L352.16 1098.96M346.44 1098.96L352.16 1093.24M346.44 1096.10H352.16M349.30 1093.24V1098.96" fill="none" stroke="#6E3F9E" stroke-width="0.92" opacity="0.92"/><path d="M305.54 1089.24H311.26V1094.96H305.54ZM305.54 1089.24L311.26 1094.96M305.54 1094.96L311.26 1089.24M305.54 1092.10H311.26M308.40 1089.24V1094.96" fill="none" stroke="#6E3F9E" stroke-width="0.92" opacity="0.92"/><path d="M303.14 1098.04H308.86V1103.76H303.14ZM303.14 1098.04L308.86 1103.76M303.14 1103.76L308.86 1098.04M303.14 1100.90H308.86M306.00 1098.04V1103.76" fill="none" stroke="#6E3F9E" stroke-width="0.92" opacity="0.92"/><path d="M350.64 1100.64H356.36V1106.36H350.64ZM350.64 1100.64L356.36 1106.36M350.64 1106.36L356.36 1100.64M350.64 1103.50H356.36M353.50 1100.64V1106.36" fill="none" stroke="#6E3F9E" stroke-width="0.92" opacity="0.92"/><path d="M354.14 1105.14H359.86V1110.86H354.14ZM354.14 1105.14L359.86 1110.86M354.14 1110.86L359.86 1105.14M354.14 1108.00H359.86M357.00 1105.14V1110.86" fill="none" stroke="#6E3F9E" stroke-width="0.92" opacity="0.92"/><path d="M358.54 1109.94H364.26V1115.66H358.54ZM358.54 1109.94L364.26 1115.66M358.54 1115.66L364.26 1109.94M358.54 1112.80H364.26M361.40 1109.94V1115.66" fill="none" stroke="#6E3F9E" stroke-width="0.92" opacity="0.92"/><path d="M361.14 1115.14H366.86V1120.86H361.14ZM361.14 1115.14L366.86 1120.86M361.14 1120.86L366.86 1115.14M361.14 1118.00H366.86M364.00 1115.14V1120.86" fill="none" stroke="#6E3F9E" stroke-width="0.92" opacity="0.92"/><path d="M363.74 1120.44H369.46V1126.16H363.74ZM363.74 1120.44L369.46 1126.16M363.74 1126.16L369.46 1120.44M363.74 1123.30H369.46M366.60 1120.44V1126.16" fill="none" stroke="#6E3F9E" stroke-width="0.92" opacity="0.92"/><path d="M366.14 1126.14H371.86V1131.86H366.14ZM366.14 1126.14L371.86 1131.86M366.14 1131.86L371.86 1126.14M366.14 1129.00H371.86M369.00 1126.14V1131.86" fill="none" stroke="#6E3F9E" stroke-width="0.92" opacity="0.92"/><path d="M369.04 1132.34H374.76V1138.06H369.04ZM369.04 1132.34L374.76 1138.06M369.04 1138.06L374.76 1132.34M369.04 1135.20H374.76M371.90 1132.34V1138.06" fill="none" stroke="#6E3F9E" stroke-width="0.92" opacity="0.92"/><path d="M373.14 1138.14H378.86V1143.86H373.14ZM373.14 1138.14L378.86 1143.86M373.14 1143.86L378.86 1138.14M373.14 1141.00H378.86M376.00 1138.14V1143.86" fill="none" stroke="#6E3F9E" stroke-width="0.92" opacity="0.92"/><path d="M379.14 1145.14H384.86V1150.86H379.14ZM379.14 1145.14L384.86 1150.86M379.14 1150.86L384.86 1145.14M379.14 1148.00H384.86M382.00 1145.14V1150.86" fill="none" stroke="#6E3F9E" stroke-width="0.92" opacity="0.92"/><path d="M384.14 1150.14H389.86V1155.86H384.14ZM384.14 1150.14L389.86 1155.86M384.14 1155.86L389.86 1150.14M384.14 1153.00H389.86M387.00 1150.14V1155.86" fill="none" stroke="#6E3F9E" stroke-width="0.92" opacity="0.92"/><path d="M390.14 1154.74H395.86V1160.46H390.14ZM390.14 1154.74L395.86 1160.46M390.14 1160.46L395.86 1154.74M390.14 1157.60H395.86M393.00 1154.74V1160.46" fill="none" stroke="#6E3F9E" stroke-width="0.92" opacity="0.92"/><path d="M364.00 1133.15L367.46 1138.92H360.54ZM364.00 1140.85L367.46 1135.08H360.54Z" fill="none" stroke="#E8523E" stroke-width="1.15" opacity="0.92"/><path d="M368.99 1134.15L372.46 1139.92H365.53ZM368.99 1141.85L372.46 1136.07H365.53Z" fill="none" stroke="#E8523E" stroke-width="1.15" opacity="0.92"/><path d="M374.06 1134.62L377.53 1140.40H370.60ZM374.06 1142.32L377.53 1136.55H370.60Z" fill="none" stroke="#E8523E" stroke-width="1.15" opacity="0.92"/><path d="M379.13 1135.10L382.60 1140.87H375.67ZM379.13 1142.80L382.60 1137.02H375.67Z" fill="none" stroke="#E8523E" stroke-width="1.15" opacity="0.92"/><path d="M384.20 1135.58L387.67 1141.35H380.74ZM384.20 1143.28L387.67 1137.50H380.74Z" fill="none" stroke="#E8523E" stroke-width="1.15" opacity="0.92"/><path d="M389.25 1136.21L392.72 1141.98H385.79ZM389.25 1143.91L392.72 1138.13H385.79Z" fill="none" stroke="#E8523E" stroke-width="1.15" opacity="0.92"/><path d="M394.30 1136.87L397.77 1142.65H390.84ZM394.30 1144.57L397.77 1138.80H390.84Z" fill="none" stroke="#E8523E" stroke-width="1.15" opacity="0.92"/><path d="M399.35 1137.54L402.81 1143.31H395.88ZM399.35 1145.24L402.81 1139.46H395.88Z" fill="none" stroke="#E8523E" stroke-width="1.15" opacity="0.92"/><path d="M404.34 1138.36L407.80 1144.14H400.87ZM404.34 1146.06L407.80 1140.29H400.87Z" fill="none" stroke="#E8523E" stroke-width="1.15" opacity="0.92"/><path d="M408.63 1141.10L412.10 1146.87H405.17ZM408.63 1148.80L412.10 1143.02H405.17Z" fill="none" stroke="#E8523E" stroke-width="1.15" opacity="0.92"/><path d="M412.93 1143.83L416.39 1149.61H409.46ZM412.93 1151.53L416.39 1145.76H409.46Z" fill="none" stroke="#E8523E" stroke-width="1.15" opacity="0.92"/><path d="M417.38 1146.28L420.85 1152.05H413.92ZM417.38 1153.98L420.85 1148.20H413.92Z" fill="none" stroke="#E8523E" stroke-width="1.15" opacity="0.92"/><path d="M421.98 1148.46L425.45 1154.23H418.52ZM421.98 1156.16L425.45 1150.38H418.52Z" fill="none" stroke="#E8523E" stroke-width="1.15" opacity="0.92"/><path d="M426.59 1150.64L430.05 1156.41H423.12ZM426.59 1158.34L430.05 1152.56H423.12Z" fill="none" stroke="#E8523E" stroke-width="1.15" opacity="0.92"/><path d="M431.19 1152.82L434.65 1158.59H427.72ZM431.19 1160.52L434.65 1154.74H427.72Z" fill="none" stroke="#E8523E" stroke-width="1.15" opacity="0.92"/><path d="M435.87 1154.79L439.34 1160.57H432.41ZM435.87 1162.49L439.34 1156.72H432.41Z" fill="none" stroke="#E8523E" stroke-width="1.15" opacity="0.92"/><path d="M440.68 1156.45L444.15 1162.23H437.22ZM440.68 1164.15L444.15 1158.38H437.22Z" fill="none" stroke="#E8523E" stroke-width="1.15" opacity="0.92"/><path d="M445.50 1158.11L448.96 1163.89H442.03ZM445.50 1165.81L448.96 1160.04H442.03Z" fill="none" stroke="#E8523E" stroke-width="1.15" opacity="0.92"/><path d="M450.31 1159.77L453.78 1165.55H446.85ZM450.31 1167.47L453.78 1161.70H446.85Z" fill="none" stroke="#E8523E" stroke-width="1.15" opacity="0.92"/><path d="M455.12 1161.43L458.59 1167.21H451.66ZM455.12 1169.13L458.59 1163.36H451.66Z" fill="none" stroke="#E8523E" stroke-width="1.15" opacity="0.92"/><path d="M459.94 1163.09L463.40 1168.87H456.47ZM459.94 1170.79L463.40 1165.02H456.47Z" fill="none" stroke="#E8523E" stroke-width="1.15" opacity="0.92"/><path d="M464.83 1164.43L468.30 1170.21H461.37ZM464.83 1172.13L468.30 1166.36H461.37Z" fill="none" stroke="#E8523E" stroke-width="1.15" opacity="0.92"/><path d="M469.86 1165.21L473.33 1170.98H466.40ZM469.86 1172.91L473.33 1167.13H466.40Z" fill="none" stroke="#E8523E" stroke-width="1.15" opacity="0.92"/><path d="M474.90 1165.98L478.36 1171.76H471.43ZM474.90 1173.68L478.36 1167.91H471.43Z" fill="none" stroke="#E8523E" stroke-width="1.15" opacity="0.92"/><path d="M479.93 1166.75L483.39 1172.53H476.46ZM479.93 1174.45L483.39 1168.68H476.46Z" fill="none" stroke="#E8523E" stroke-width="1.15" opacity="0.92"/><path d="M484.96 1167.53L488.43 1173.30H481.50ZM484.96 1175.23L488.43 1169.45H481.50Z" fill="none" stroke="#E8523E" stroke-width="1.15" opacity="0.92"/><path d="M489.99 1168.34L493.45 1174.11H486.52ZM489.99 1176.04L493.45 1170.26H486.52Z" fill="none" stroke="#E8523E" stroke-width="1.15" opacity="0.92"/><path d="M494.99 1169.27L498.46 1175.05H491.53ZM494.99 1176.97L498.46 1171.20H491.53Z" fill="none" stroke="#E8523E" stroke-width="1.15" opacity="0.92"/><path d="M500.00 1170.21L503.46 1175.99H496.53ZM500.00 1177.91L503.46 1172.14H496.53Z" fill="none" stroke="#E8523E" stroke-width="1.15" opacity="0.92"/><path d="M505.00 1171.15L508.46 1176.92H501.54ZM505.00 1178.85L508.46 1173.08H501.54Z" fill="none" stroke="#E8523E" stroke-width="1.15" opacity="0.92"/><path d="M387.74 1167.04H393.46V1172.76H387.74ZM387.74 1169.90H393.46M390.60 1167.04V1172.76" fill="none" stroke="#4F9E5A" stroke-width="1.15" opacity="0.92"/><path d="M391.60 1166.41H397.32V1172.13H391.60ZM391.60 1169.27H397.32M394.46 1166.41V1172.13" fill="none" stroke="#4F9E5A" stroke-width="1.15" opacity="0.92"/><path d="M395.45 1165.77H401.17V1171.49H395.45ZM395.45 1168.63H401.17M398.31 1165.77V1171.49" fill="none" stroke="#4F9E5A" stroke-width="1.15" opacity="0.92"/><path d="M399.31 1165.14H405.03V1170.86H399.31ZM399.31 1168.00H405.03M402.17 1165.14V1170.86" fill="none" stroke="#4F9E5A" stroke-width="1.15" opacity="0.92"/><path d="M403.16 1164.50H408.88V1170.22H403.16ZM403.16 1167.36H408.88M406.02 1164.50V1170.22" fill="none" stroke="#4F9E5A" stroke-width="1.15" opacity="0.92"/><path d="M406.69 1162.86H412.41V1168.58H406.69ZM406.69 1165.72H412.41M409.55 1162.86V1168.58" fill="none" stroke="#4F9E5A" stroke-width="1.15" opacity="0.92"/><path d="M410.19 1161.12H415.91V1166.84H410.19ZM410.19 1163.98H415.91M413.05 1161.12V1166.84" fill="none" stroke="#4F9E5A" stroke-width="1.15" opacity="0.92"/><path d="M413.68 1159.37H419.40V1165.09H413.68ZM413.68 1162.23H419.40M416.54 1159.37V1165.09" fill="none" stroke="#4F9E5A" stroke-width="1.15" opacity="0.92"/><path d="M417.22 1157.93H422.94V1163.65H417.22ZM417.22 1160.79H422.94M420.08 1157.93V1163.65" fill="none" stroke="#4F9E5A" stroke-width="1.15" opacity="0.92"/><path d="M421.05 1158.69H426.77V1164.41H421.05ZM421.05 1161.55H426.77M423.91 1158.69V1164.41" fill="none" stroke="#4F9E5A" stroke-width="1.15" opacity="0.92"/><path d="M424.89 1159.44H430.61V1165.16H424.89ZM424.89 1162.30H430.61M427.75 1159.44V1165.16" fill="none" stroke="#4F9E5A" stroke-width="1.15" opacity="0.92"/><path d="M428.72 1160.20H434.44V1165.92H428.72ZM428.72 1163.06H434.44M431.58 1160.20V1165.92" fill="none" stroke="#4F9E5A" stroke-width="1.15" opacity="0.92"/><path d="M432.47 1161.29H438.19V1167.01H432.47ZM432.47 1164.15H438.19M435.33 1161.29V1167.01" fill="none" stroke="#4F9E5A" stroke-width="1.15" opacity="0.92"/><path d="M436.17 1162.53H441.89V1168.25H436.17ZM436.17 1165.39H441.89M439.03 1162.53V1168.25" fill="none" stroke="#4F9E5A" stroke-width="1.15" opacity="0.92"/><path d="M439.88 1163.77H445.60V1169.49H439.88ZM439.88 1166.63H445.60M442.74 1163.77V1169.49" fill="none" stroke="#4F9E5A" stroke-width="1.15" opacity="0.92"/><path d="M443.58 1165.02H449.30V1170.74H443.58ZM443.58 1167.88H449.30M446.44 1165.02V1170.74" fill="none" stroke="#4F9E5A" stroke-width="1.15" opacity="0.92"/><path d="M447.36 1165.97H453.08V1171.69H447.36ZM447.36 1168.83H453.08M450.22 1165.97V1171.69" fill="none" stroke="#4F9E5A" stroke-width="1.15" opacity="0.92"/><path d="M451.23 1166.51H456.95V1172.23H451.23ZM451.23 1169.37H456.95M454.09 1166.51V1172.23" fill="none" stroke="#4F9E5A" stroke-width="1.15" opacity="0.92"/><path d="M455.09 1167.05H460.81V1172.77H455.09ZM455.09 1169.91H460.81M457.95 1167.05V1172.77" fill="none" stroke="#4F9E5A" stroke-width="1.15" opacity="0.92"/><path d="M458.96 1167.60H464.68V1173.32H458.96ZM458.96 1170.46H464.68M461.82 1167.60V1173.32" fill="none" stroke="#4F9E5A" stroke-width="1.15" opacity="0.92"/><path d="M462.83 1168.14H468.55V1173.86H462.83ZM462.83 1171.00H468.55M465.69 1168.14V1173.86" fill="none" stroke="#4F9E5A" stroke-width="1.15" opacity="0.92"/><path d="M466.70 1168.72H472.42V1174.44H466.70ZM466.70 1171.58H472.42M469.56 1168.72V1174.44" fill="none" stroke="#4F9E5A" stroke-width="1.15" opacity="0.92"/><path d="M470.56 1169.33H476.28V1175.05H470.56ZM470.56 1172.19H476.28M473.42 1169.33V1175.05" fill="none" stroke="#4F9E5A" stroke-width="1.15" opacity="0.92"/><path d="M474.42 1169.93H480.14V1175.65H474.42ZM474.42 1172.79H480.14M477.28 1169.93V1175.65" fill="none" stroke="#4F9E5A" stroke-width="1.15" opacity="0.92"/><path d="M478.28 1170.54H484.00V1176.26H478.28ZM478.28 1173.40H484.00M481.14 1170.54V1176.26" fill="none" stroke="#4F9E5A" stroke-width="1.15" opacity="0.92"/><path d="M482.14 1171.14H487.86V1176.86H482.14ZM482.14 1174.00H487.86M485.00 1171.14V1176.86" fill="none" stroke="#4F9E5A" stroke-width="1.15" opacity="0.92"/><path d="M504.00 1174.28L507.34 1180.09H500.66Z" fill="none" stroke="#5CC4DB" stroke-width="1.15" opacity="0.92"/><path d="M506.11 1174.30L509.46 1180.11H502.77Z" fill="none" stroke="#5CC4DB" stroke-width="1.15" opacity="0.92"/><path d="M508.22 1174.32L511.57 1180.12H504.88Z" fill="none" stroke="#5CC4DB" stroke-width="1.15" opacity="0.92"/><path d="M510.34 1174.33L513.68 1180.14H506.99Z" fill="none" stroke="#5CC4DB" stroke-width="1.15" opacity="0.92"/><path d="M512.45 1174.35L515.79 1180.16H509.10Z" fill="none" stroke="#5CC4DB" stroke-width="1.15" opacity="0.92"/><path d="M514.56 1174.37L517.90 1180.18H511.22Z" fill="none" stroke="#5CC4DB" stroke-width="1.15" opacity="0.92"/><path d="M516.67 1174.39L520.02 1180.19H513.33Z" fill="none" stroke="#5CC4DB" stroke-width="1.15" opacity="0.92"/><path d="M518.78 1174.40L522.13 1180.21H515.44Z" fill="none" stroke="#5CC4DB" stroke-width="1.15" opacity="0.92"/><path d="M520.90 1174.42L524.24 1180.23H517.55Z" fill="none" stroke="#5CC4DB" stroke-width="1.15" opacity="0.92"/><path d="M523.01 1174.44L526.35 1180.25H519.66Z" fill="none" stroke="#5CC4DB" stroke-width="1.15" opacity="0.92"/><path d="M525.12 1174.46L528.46 1180.27H521.78Z" fill="none" stroke="#5CC4DB" stroke-width="1.15" opacity="0.92"/><path d="M527.23 1174.48L530.58 1180.28H523.89Z" fill="none" stroke="#5CC4DB" stroke-width="1.15" opacity="0.92"/><path d="M529.34 1174.50L532.69 1180.31H526.00Z" fill="none" stroke="#5CC4DB" stroke-width="1.15" opacity="0.92"/><path d="M531.46 1174.53L534.80 1180.34H528.11Z" fill="none" stroke="#5CC4DB" stroke-width="1.15" opacity="0.92"/><path d="M533.57 1174.56L536.91 1180.37H530.22Z" fill="none" stroke="#5CC4DB" stroke-width="1.15" opacity="0.92"/><path d="M535.68 1174.59L539.02 1180.40H532.34Z" fill="none" stroke="#5CC4DB" stroke-width="1.15" opacity="0.92"/><path d="M537.79 1174.62L541.14 1180.43H534.45Z" fill="none" stroke="#5CC4DB" stroke-width="1.15" opacity="0.92"/><path d="M539.90 1174.65L543.25 1180.45H536.56Z" fill="none" stroke="#5CC4DB" stroke-width="1.15" opacity="0.92"/><path d="M542.02 1174.68L545.36 1180.48H538.67Z" fill="none" stroke="#5CC4DB" stroke-width="1.15" opacity="0.92"/><path d="M544.13 1174.71L547.47 1180.51H540.78Z" fill="none" stroke="#5CC4DB" stroke-width="1.15" opacity="0.92"/><path d="M546.24 1174.73L549.58 1180.54H542.90Z" fill="none" stroke="#5CC4DB" stroke-width="1.15" opacity="0.92"/><path d="M548.35 1174.76L551.70 1180.57H545.01Z" fill="none" stroke="#5CC4DB" stroke-width="1.15" opacity="0.92"/><path d="M550.46 1174.79L553.81 1180.60H547.12Z" fill="none" stroke="#5CC4DB" stroke-width="1.15" opacity="0.92"/><path d="M552.58 1174.82L555.92 1180.63H549.23Z" fill="none" stroke="#5CC4DB" stroke-width="1.15" opacity="0.92"/><path d="M554.69 1174.85L558.03 1180.66H551.34Z" fill="none" stroke="#5CC4DB" stroke-width="1.15" opacity="0.92"/><path d="M556.80 1174.88L560.14 1180.69H553.46Z" fill="none" stroke="#5CC4DB" stroke-width="1.15" opacity="0.92"/><path d="M440.70 1174.87L444.33 1178.50L440.70 1182.13L437.07 1178.50Z" fill="none" stroke="#F5A08A" stroke-width="1.15" opacity="0.92"/><path d="M443.97 1174.92L447.60 1178.55L443.97 1182.18L440.34 1178.55Z" fill="none" stroke="#F5A08A" stroke-width="1.15" opacity="0.92"/><path d="M447.24 1174.97L450.87 1178.60L447.24 1182.23L443.61 1178.60Z" fill="none" stroke="#F5A08A" stroke-width="1.15" opacity="0.92"/><path d="M450.52 1175.03L454.15 1178.66L450.52 1182.29L446.89 1178.66Z" fill="none" stroke="#F5A08A" stroke-width="1.15" opacity="0.92"/><path d="M453.79 1175.08L457.42 1178.71L453.79 1182.34L450.16 1178.71Z" fill="none" stroke="#F5A08A" stroke-width="1.15" opacity="0.92"/><path d="M457.06 1175.13L460.69 1178.76L457.06 1182.39L453.43 1178.76Z" fill="none" stroke="#F5A08A" stroke-width="1.15" opacity="0.92"/><path d="M460.33 1175.18L463.96 1178.81L460.33 1182.44L456.70 1178.81Z" fill="none" stroke="#F5A08A" stroke-width="1.15" opacity="0.92"/><path d="M463.60 1175.23L467.23 1178.86L463.60 1182.49L459.97 1178.86Z" fill="none" stroke="#F5A08A" stroke-width="1.15" opacity="0.92"/><path d="M466.87 1175.28L470.50 1178.91L466.87 1182.54L463.24 1178.91Z" fill="none" stroke="#F5A08A" stroke-width="1.15" opacity="0.92"/><path d="M470.15 1175.34L473.78 1178.97L470.15 1182.60L466.52 1178.97Z" fill="none" stroke="#F5A08A" stroke-width="1.15" opacity="0.92"/><path d="M473.42 1175.37L477.05 1179.00L473.42 1182.63L469.79 1179.00Z" fill="none" stroke="#F5A08A" stroke-width="1.15" opacity="0.92"/><path d="M476.69 1175.37L480.32 1179.00L476.69 1182.63L473.06 1179.00Z" fill="none" stroke="#F5A08A" stroke-width="1.15" opacity="0.92"/><path d="M479.96 1175.37L483.59 1179.00L479.96 1182.63L476.33 1179.00Z" fill="none" stroke="#F5A08A" stroke-width="1.15" opacity="0.92"/><path d="M483.23 1175.37L486.86 1179.00L483.23 1182.63L479.60 1179.00Z" fill="none" stroke="#F5A08A" stroke-width="1.15" opacity="0.92"/><path d="M486.51 1175.37L490.14 1179.00L486.51 1182.63L482.88 1179.00Z" fill="none" stroke="#F5A08A" stroke-width="1.15" opacity="0.92"/><path d="M489.78 1175.37L493.41 1179.00L489.78 1182.63L486.15 1179.00Z" fill="none" stroke="#F5A08A" stroke-width="1.15" opacity="0.92"/><path d="M493.05 1175.37L496.68 1179.00L493.05 1182.63L489.42 1179.00Z" fill="none" stroke="#F5A08A" stroke-width="1.15" opacity="0.92"/><path d="M496.32 1175.37L499.95 1179.00L496.32 1182.63L492.69 1179.00Z" fill="none" stroke="#F5A08A" stroke-width="1.15" opacity="0.92"/><path d="M499.59 1175.37L503.22 1179.00L499.59 1182.63L495.96 1179.00Z" fill="none" stroke="#F5A08A" stroke-width="1.15" opacity="0.92"/><path d="M502.87 1175.37L506.50 1179.00L502.87 1182.63L499.24 1179.00Z" fill="none" stroke="#F5A08A" stroke-width="1.15" opacity="0.92"/><path d="M506.14 1175.37L509.77 1179.00L506.14 1182.63L502.51 1179.00Z" fill="none" stroke="#F5A08A" stroke-width="1.15" opacity="0.92"/><path d="M509.41 1175.37L513.04 1179.00L509.41 1182.63L505.78 1179.00Z" fill="none" stroke="#F5A08A" stroke-width="1.15" opacity="0.92"/><path d="M512.68 1175.37L516.31 1179.00L512.68 1182.63L509.05 1179.00Z" fill="none" stroke="#F5A08A" stroke-width="1.15" opacity="0.92"/><path d="M515.96 1175.37L519.59 1179.00L515.96 1182.63L512.33 1179.00Z" fill="none" stroke="#F5A08A" stroke-width="1.15" opacity="0.92"/><path d="M519.23 1175.37L522.86 1179.00L519.23 1182.63L515.60 1179.00Z" fill="none" stroke="#F5A08A" stroke-width="1.15" opacity="0.92"/><path d="M522.50 1175.37L526.13 1179.00L522.50 1182.63L518.87 1179.00Z" fill="none" stroke="#F5A08A" stroke-width="1.15" opacity="0.92"/><path d="M449.85 1172.75L455.35 1178.25M449.85 1178.25L455.35 1172.75" fill="none" stroke="#434C8E" stroke-width="1.15" opacity="0.92"/><path d="M453.17 1172.95L458.67 1178.45M453.17 1178.45L458.67 1172.95" fill="none" stroke="#434C8E" stroke-width="1.15" opacity="0.92"/><path d="M456.49 1173.15L461.99 1178.65M456.49 1178.65L461.99 1173.15" fill="none" stroke="#434C8E" stroke-width="1.15" opacity="0.92"/><path d="M459.81 1173.36L465.31 1178.86M459.81 1178.86L465.31 1173.36" fill="none" stroke="#434C8E" stroke-width="1.15" opacity="0.92"/><path d="M463.13 1173.56L468.63 1179.06M463.13 1179.06L468.63 1173.56" fill="none" stroke="#434C8E" stroke-width="1.15" opacity="0.92"/><path d="M466.45 1173.76L471.95 1179.26M466.45 1179.26L471.95 1173.76" fill="none" stroke="#434C8E" stroke-width="1.15" opacity="0.92"/><path d="M469.78 1173.96L475.28 1179.46M469.78 1179.46L475.28 1173.96" fill="none" stroke="#434C8E" stroke-width="1.15" opacity="0.92"/><path d="M473.10 1174.16L478.60 1179.66M473.10 1179.66L478.60 1174.16" fill="none" stroke="#434C8E" stroke-width="1.15" opacity="0.92"/><path d="M476.42 1174.36L481.92 1179.86M476.42 1179.86L481.92 1174.36" fill="none" stroke="#434C8E" stroke-width="1.15" opacity="0.92"/><path d="M479.74 1174.57L485.24 1180.07M479.74 1180.07L485.24 1174.57" fill="none" stroke="#434C8E" stroke-width="1.15" opacity="0.92"/><path d="M483.06 1174.76L488.56 1180.26M483.06 1180.26L488.56 1174.76" fill="none" stroke="#434C8E" stroke-width="1.15" opacity="0.92"/><path d="M486.38 1174.85L491.88 1180.35M486.38 1180.35L491.88 1174.85" fill="none" stroke="#434C8E" stroke-width="1.15" opacity="0.92"/><path d="M489.71 1174.94L495.21 1180.44M489.71 1180.44L495.21 1174.94" fill="none" stroke="#434C8E" stroke-width="1.15" opacity="0.92"/><path d="M493.04 1175.03L498.54 1180.53M493.04 1180.53L498.54 1175.03" fill="none" stroke="#434C8E" stroke-width="1.15" opacity="0.92"/><path d="M496.36 1175.12L501.86 1180.62M496.36 1180.62L501.86 1175.12" fill="none" stroke="#434C8E" stroke-width="1.15" opacity="0.92"/><path d="M499.69 1175.21L505.19 1180.71M499.69 1180.71L505.19 1175.21" fill="none" stroke="#434C8E" stroke-width="1.15" opacity="0.92"/><path d="M503.01 1175.30L508.51 1180.80M503.01 1180.80L508.51 1175.30" fill="none" stroke="#434C8E" stroke-width="1.15" opacity="0.92"/><path d="M506.34 1175.39L511.84 1180.89M506.34 1180.89L511.84 1175.39" fill="none" stroke="#434C8E" stroke-width="1.15" opacity="0.92"/><path d="M509.66 1175.48L515.16 1180.98M509.66 1180.98L515.16 1175.48" fill="none" stroke="#434C8E" stroke-width="1.15" opacity="0.92"/><path d="M512.99 1175.57L518.49 1181.07M512.99 1181.07L518.49 1175.57" fill="none" stroke="#434C8E" stroke-width="1.15" opacity="0.92"/><path d="M516.32 1175.66L521.82 1181.16M516.32 1181.16L521.82 1175.66" fill="none" stroke="#434C8E" stroke-width="1.15" opacity="0.92"/><path d="M519.64 1175.75L525.14 1181.25M519.64 1181.25L525.14 1175.75" fill="none" stroke="#434C8E" stroke-width="1.15" opacity="0.92"/><path d="M522.97 1175.75L528.47 1181.25M522.97 1181.25L528.47 1175.75" fill="none" stroke="#434C8E" stroke-width="1.15" opacity="0.92"/><path d="M526.30 1175.75L531.80 1181.25M526.30 1181.25L531.80 1175.75" fill="none" stroke="#434C8E" stroke-width="1.15" opacity="0.92"/><path d="M529.62 1175.75L535.12 1181.25M529.62 1181.25L535.12 1175.75" fill="none" stroke="#434C8E" stroke-width="1.15" opacity="0.92"/><path d="M532.95 1175.75L538.45 1181.25M532.95 1181.25L538.45 1175.75" fill="none" stroke="#434C8E" stroke-width="1.15" opacity="0.92"/><path d="M385.10 1172.87L388.73 1176.50L385.10 1180.13L381.47 1176.50ZM381.47 1176.50H388.73M385.10 1172.87V1180.13" fill="none" stroke="#8A6A50" stroke-width="1.15" opacity="0.92"/><path d="M387.53 1173.02L391.16 1176.65L387.53 1180.28L383.90 1176.65ZM383.90 1176.65H391.16M387.53 1173.02V1180.28" fill="none" stroke="#8A6A50" stroke-width="1.15" opacity="0.92"/><path d="M389.97 1173.17L393.60 1176.80L389.97 1180.43L386.34 1176.80ZM386.34 1176.80H393.60M389.97 1173.17V1180.43" fill="none" stroke="#8A6A50" stroke-width="1.15" opacity="0.92"/><path d="M392.40 1173.32L396.03 1176.95L392.40 1180.58L388.77 1176.95ZM388.77 1176.95H396.03M392.40 1173.32V1180.58" fill="none" stroke="#8A6A50" stroke-width="1.15" opacity="0.92"/><path d="M394.83 1173.46L398.46 1177.09L394.83 1180.72L391.20 1177.09ZM391.20 1177.09H398.46M394.83 1173.46V1180.72" fill="none" stroke="#8A6A50" stroke-width="1.15" opacity="0.92"/><path d="M397.27 1173.61L400.90 1177.24L397.27 1180.87L393.64 1177.24ZM393.64 1177.24H400.90M397.27 1173.61V1180.87" fill="none" stroke="#8A6A50" stroke-width="1.15" opacity="0.92"/><path d="M399.70 1173.76L403.33 1177.39L399.70 1181.02L396.07 1177.39ZM396.07 1177.39H403.33M399.70 1173.76V1181.02" fill="none" stroke="#8A6A50" stroke-width="1.15" opacity="0.92"/><path d="M402.13 1173.91L405.76 1177.54L402.13 1181.17L398.50 1177.54ZM398.50 1177.54H405.76M402.13 1173.91V1181.17" fill="none" stroke="#8A6A50" stroke-width="1.15" opacity="0.92"/><path d="M404.56 1174.06L408.19 1177.69L404.56 1181.32L400.93 1177.69ZM400.93 1177.69H408.19M404.56 1174.06V1181.32" fill="none" stroke="#8A6A50" stroke-width="1.15" opacity="0.92"/><path d="M407.00 1174.17L410.63 1177.80L407.00 1181.43L403.37 1177.80ZM403.37 1177.80H410.63M407.00 1174.17V1181.43" fill="none" stroke="#8A6A50" stroke-width="1.15" opacity="0.92"/><path d="M409.44 1174.17L413.07 1177.80L409.44 1181.43L405.81 1177.80ZM405.81 1177.80H413.07M409.44 1174.17V1181.43" fill="none" stroke="#8A6A50" stroke-width="1.15" opacity="0.92"/><path d="M411.87 1174.17L415.50 1177.80L411.87 1181.43L408.24 1177.80ZM408.24 1177.80H415.50M411.87 1174.17V1181.43" fill="none" stroke="#8A6A50" stroke-width="1.15" opacity="0.92"/><path d="M414.31 1174.17L417.94 1177.80L414.31 1181.43L410.68 1177.80ZM410.68 1177.80H417.94M414.31 1174.17V1181.43" fill="none" stroke="#8A6A50" stroke-width="1.15" opacity="0.92"/><path d="M416.75 1174.17L420.38 1177.80L416.75 1181.43L413.12 1177.80ZM413.12 1177.80H420.38M416.75 1174.17V1181.43" fill="none" stroke="#8A6A50" stroke-width="1.15" opacity="0.92"/><path d="M419.19 1174.17L422.82 1177.80L419.19 1181.43L415.56 1177.80ZM415.56 1177.80H422.82M419.19 1174.17V1181.43" fill="none" stroke="#8A6A50" stroke-width="1.15" opacity="0.92"/><path d="M421.62 1174.17L425.25 1177.80L421.62 1181.43L417.99 1177.80ZM417.99 1177.80H425.25M421.62 1174.17V1181.43" fill="none" stroke="#8A6A50" stroke-width="1.15" opacity="0.92"/><path d="M424.06 1174.17L427.69 1177.80L424.06 1181.43L420.43 1177.80ZM420.43 1177.80H427.69M424.06 1174.17V1181.43" fill="none" stroke="#8A6A50" stroke-width="1.15" opacity="0.92"/><path d="M426.50 1174.17L430.13 1177.80L426.50 1181.43L422.87 1177.80ZM422.87 1177.80H430.13M426.50 1174.17V1181.43" fill="none" stroke="#8A6A50" stroke-width="1.15" opacity="0.92"/><path d="M428.94 1174.17L432.57 1177.80L428.94 1181.43L425.31 1177.80ZM425.31 1177.80H432.57M428.94 1174.17V1181.43" fill="none" stroke="#8A6A50" stroke-width="1.15" opacity="0.92"/><path d="M431.37 1174.17L435.00 1177.80L431.37 1181.43L427.74 1177.80ZM427.74 1177.80H435.00M431.37 1174.17V1181.43" fill="none" stroke="#8A6A50" stroke-width="1.15" opacity="0.92"/><path d="M433.81 1174.17L437.44 1177.80L433.81 1181.43L430.18 1177.80ZM430.18 1177.80H437.44M433.81 1174.17V1181.43" fill="none" stroke="#8A6A50" stroke-width="1.15" opacity="0.92"/><path d="M436.25 1174.17L439.88 1177.80L436.25 1181.43L432.62 1177.80ZM432.62 1177.80H439.88M436.25 1174.17V1181.43" fill="none" stroke="#8A6A50" stroke-width="1.15" opacity="0.92"/><path d="M438.69 1174.17L442.32 1177.80L438.69 1181.43L435.06 1177.80ZM435.06 1177.80H442.32M438.69 1174.17V1181.43" fill="none" stroke="#8A6A50" stroke-width="1.15" opacity="0.92"/><path d="M441.12 1174.17L444.75 1177.80L441.12 1181.43L437.49 1177.80ZM437.49 1177.80H444.75M441.12 1174.17V1181.43" fill="none" stroke="#8A6A50" stroke-width="1.15" opacity="0.92"/><path d="M443.56 1174.17L447.19 1177.80L443.56 1181.43L439.93 1177.80ZM439.93 1177.80H447.19M443.56 1174.17V1181.43" fill="none" stroke="#8A6A50" stroke-width="1.15" opacity="0.92"/><path d="M446.00 1174.17L449.63 1177.80L446.00 1181.43L442.37 1177.80ZM442.37 1177.80H449.63M446.00 1174.17V1181.43" fill="none" stroke="#8A6A50" stroke-width="1.15" opacity="0.92"/><path d="M463.47 1177.00H470.73M467.10 1173.37V1180.63" fill="none" stroke="#3D9E7E" stroke-width="1.15" opacity="0.92"/><path d="M466.53 1177.10H473.79M470.16 1173.47V1180.73" fill="none" stroke="#3D9E7E" stroke-width="1.15" opacity="0.92"/><path d="M469.59 1177.19H476.85M473.22 1173.56V1180.82" fill="none" stroke="#3D9E7E" stroke-width="1.15" opacity="0.92"/><path d="M472.65 1177.29H479.91M476.28 1173.66V1180.92" fill="none" stroke="#3D9E7E" stroke-width="1.15" opacity="0.92"/><path d="M475.71 1177.39H482.97M479.34 1173.76V1181.02" fill="none" stroke="#3D9E7E" stroke-width="1.15" opacity="0.92"/><path d="M478.77 1177.48H486.03M482.40 1173.85V1181.11" fill="none" stroke="#3D9E7E" stroke-width="1.15" opacity="0.92"/><path d="M481.83 1177.58H489.09M485.46 1173.95V1181.21" fill="none" stroke="#3D9E7E" stroke-width="1.15" opacity="0.92"/><path d="M484.89 1177.68H492.15M488.52 1174.05V1181.31" fill="none" stroke="#3D9E7E" stroke-width="1.15" opacity="0.92"/><path d="M487.94 1177.77H495.20M491.57 1174.14V1181.40" fill="none" stroke="#3D9E7E" stroke-width="1.15" opacity="0.92"/><path d="M491.00 1177.87H498.26M494.63 1174.24V1181.50" fill="none" stroke="#3D9E7E" stroke-width="1.15" opacity="0.92"/><path d="M494.06 1177.97H501.32M497.69 1174.34V1181.60" fill="none" stroke="#3D9E7E" stroke-width="1.15" opacity="0.92"/><path d="M497.12 1178.04H504.38M500.75 1174.41V1181.67" fill="none" stroke="#3D9E7E" stroke-width="1.15" opacity="0.92"/><path d="M500.18 1178.10H507.44M503.81 1174.47V1181.73" fill="none" stroke="#3D9E7E" stroke-width="1.15" opacity="0.92"/><path d="M503.24 1178.15H510.50M506.87 1174.52V1181.78" fill="none" stroke="#3D9E7E" stroke-width="1.15" opacity="0.92"/><path d="M506.30 1178.21H513.56M509.93 1174.58V1181.84" fill="none" stroke="#3D9E7E" stroke-width="1.15" opacity="0.92"/><path d="M509.36 1178.27H516.62M512.99 1174.64V1181.90" fill="none" stroke="#3D9E7E" stroke-width="1.15" opacity="0.92"/><path d="M512.42 1178.33H519.68M516.05 1174.70V1181.96" fill="none" stroke="#3D9E7E" stroke-width="1.15" opacity="0.92"/><path d="M515.48 1178.39H522.74M519.11 1174.76V1182.02" fill="none" stroke="#3D9E7E" stroke-width="1.15" opacity="0.92"/><path d="M518.54 1178.44H525.80M522.17 1174.81V1182.07" fill="none" stroke="#3D9E7E" stroke-width="1.15" opacity="0.92"/><path d="M521.61 1178.50H528.87M525.24 1174.87V1182.13" fill="none" stroke="#3D9E7E" stroke-width="1.15" opacity="0.92"/><path d="M524.67 1178.50H531.93M528.30 1174.87V1182.13" fill="none" stroke="#3D9E7E" stroke-width="1.15" opacity="0.92"/><path d="M527.73 1178.50H534.99M531.36 1174.87V1182.13" fill="none" stroke="#3D9E7E" stroke-width="1.15" opacity="0.92"/><path d="M530.79 1178.50H538.05M534.42 1174.87V1182.13" fill="none" stroke="#3D9E7E" stroke-width="1.15" opacity="0.92"/><path d="M533.85 1178.50H541.11M537.48 1174.87V1182.13" fill="none" stroke="#3D9E7E" stroke-width="1.15" opacity="0.92"/><path d="M536.91 1178.50H544.17M540.54 1174.87V1182.13" fill="none" stroke="#3D9E7E" stroke-width="1.15" opacity="0.92"/><path d="M539.97 1178.50H547.23M543.60 1174.87V1182.13" fill="none" stroke="#3D9E7E" stroke-width="1.15" opacity="0.92"/><path d="M275.53 1097.50H281.47M278.50 1094.53V1100.47" fill="none" stroke="#5A62B4" stroke-width="1.15" opacity="0.92"/><circle cx="278.50" cy="1097.50" r="2.97" fill="none" stroke="#5A62B4" stroke-width="1.15" opacity="0.92"/><path d="M278.38 1099.80H284.32M281.35 1096.83V1102.77" fill="none" stroke="#5A62B4" stroke-width="1.15" opacity="0.92"/><circle cx="281.35" cy="1099.80" r="2.97" fill="none" stroke="#5A62B4" stroke-width="1.15" opacity="0.92"/><path d="M281.24 1102.09H287.18M284.21 1099.12V1105.06" fill="none" stroke="#5A62B4" stroke-width="1.15" opacity="0.92"/><circle cx="284.21" cy="1102.09" r="2.97" fill="none" stroke="#5A62B4" stroke-width="1.15" opacity="0.92"/><path d="M284.09 1104.39H290.03M287.06 1101.42V1107.36" fill="none" stroke="#5A62B4" stroke-width="1.15" opacity="0.92"/><circle cx="287.06" cy="1104.39" r="2.97" fill="none" stroke="#5A62B4" stroke-width="1.15" opacity="0.92"/><path d="M286.84 1106.80H292.78M289.81 1103.83V1109.77" fill="none" stroke="#5A62B4" stroke-width="1.15" opacity="0.92"/><circle cx="289.81" cy="1106.80" r="2.97" fill="none" stroke="#5A62B4" stroke-width="1.15" opacity="0.92"/><path d="M289.56 1109.26H295.50M292.53 1106.29V1112.23" fill="none" stroke="#5A62B4" stroke-width="1.15" opacity="0.92"/><circle cx="292.53" cy="1109.26" r="2.97" fill="none" stroke="#5A62B4" stroke-width="1.15" opacity="0.92"/><path d="M292.28 1111.71H298.22M295.25 1108.74V1114.68" fill="none" stroke="#5A62B4" stroke-width="1.15" opacity="0.92"/><circle cx="295.25" cy="1111.71" r="2.97" fill="none" stroke="#5A62B4" stroke-width="1.15" opacity="0.92"/><path d="M295.16 1113.94H301.10M298.13 1110.97V1116.91" fill="none" stroke="#5A62B4" stroke-width="1.15" opacity="0.92"/><circle cx="298.13" cy="1113.94" r="2.97" fill="none" stroke="#5A62B4" stroke-width="1.15" opacity="0.92"/><path d="M298.30 1115.83H304.24M301.27 1112.86V1118.80" fill="none" stroke="#5A62B4" stroke-width="1.15" opacity="0.92"/><circle cx="301.27" cy="1115.83" r="2.97" fill="none" stroke="#5A62B4" stroke-width="1.15" opacity="0.92"/><path d="M301.44 1117.72H307.38M304.41 1114.75V1120.69" fill="none" stroke="#5A62B4" stroke-width="1.15" opacity="0.92"/><circle cx="304.41" cy="1117.72" r="2.97" fill="none" stroke="#5A62B4" stroke-width="1.15" opacity="0.92"/><path d="M304.77 1119.09H310.71M307.74 1116.12V1122.06" fill="none" stroke="#5A62B4" stroke-width="1.15" opacity="0.92"/><circle cx="307.74" cy="1119.09" r="2.97" fill="none" stroke="#5A62B4" stroke-width="1.15" opacity="0.92"/><path d="M308.37 1119.77H314.31M311.34 1116.80V1122.74" fill="none" stroke="#5A62B4" stroke-width="1.15" opacity="0.92"/><circle cx="311.34" cy="1119.77" r="2.97" fill="none" stroke="#5A62B4" stroke-width="1.15" opacity="0.92"/><path d="M311.97 1120.45H317.91M314.94 1117.48V1123.42" fill="none" stroke="#5A62B4" stroke-width="1.15" opacity="0.92"/><circle cx="314.94" cy="1120.45" r="2.97" fill="none" stroke="#5A62B4" stroke-width="1.15" opacity="0.92"/><path d="M315.57 1121.13H321.51M318.54 1118.16V1124.10" fill="none" stroke="#5A62B4" stroke-width="1.15" opacity="0.92"/><circle cx="318.54" cy="1121.13" r="2.97" fill="none" stroke="#5A62B4" stroke-width="1.15" opacity="0.92"/><path d="M319.16 1121.84H325.10M322.13 1118.87V1124.81" fill="none" stroke="#5A62B4" stroke-width="1.15" opacity="0.92"/><circle cx="322.13" cy="1121.84" r="2.97" fill="none" stroke="#5A62B4" stroke-width="1.15" opacity="0.92"/><path d="M322.75 1122.59H328.69M325.72 1119.62V1125.56" fill="none" stroke="#5A62B4" stroke-width="1.15" opacity="0.92"/><circle cx="325.72" cy="1122.59" r="2.97" fill="none" stroke="#5A62B4" stroke-width="1.15" opacity="0.92"/><path d="M326.33 1123.34H332.27M329.30 1120.37V1126.31" fill="none" stroke="#5A62B4" stroke-width="1.15" opacity="0.92"/><circle cx="329.30" cy="1123.34" r="2.97" fill="none" stroke="#5A62B4" stroke-width="1.15" opacity="0.92"/><path d="M329.92 1124.09H335.86M332.89 1121.12V1127.06" fill="none" stroke="#5A62B4" stroke-width="1.15" opacity="0.92"/><circle cx="332.89" cy="1124.09" r="2.97" fill="none" stroke="#5A62B4" stroke-width="1.15" opacity="0.92"/><path d="M333.46 1125.02H339.40M336.43 1122.05V1127.99" fill="none" stroke="#5A62B4" stroke-width="1.15" opacity="0.92"/><circle cx="336.43" cy="1125.02" r="2.97" fill="none" stroke="#5A62B4" stroke-width="1.15" opacity="0.92"/><path d="M336.98 1126.03H342.92M339.95 1123.06V1129.00" fill="none" stroke="#5A62B4" stroke-width="1.15" opacity="0.92"/><circle cx="339.95" cy="1126.03" r="2.97" fill="none" stroke="#5A62B4" stroke-width="1.15" opacity="0.92"/><path d="M340.50 1127.04H346.44M343.47 1124.07V1130.01" fill="none" stroke="#5A62B4" stroke-width="1.15" opacity="0.92"/><circle cx="343.47" cy="1127.04" r="2.97" fill="none" stroke="#5A62B4" stroke-width="1.15" opacity="0.92"/><path d="M344.01 1127.93H349.95M346.98 1124.96V1130.90" fill="none" stroke="#5A62B4" stroke-width="1.15" opacity="0.92"/><circle cx="346.98" cy="1127.93" r="2.97" fill="none" stroke="#5A62B4" stroke-width="1.15" opacity="0.92"/><path d="M347.41 1126.56H353.35M350.38 1123.59V1129.53" fill="none" stroke="#5A62B4" stroke-width="1.15" opacity="0.92"/><circle cx="350.38" cy="1126.56" r="2.97" fill="none" stroke="#5A62B4" stroke-width="1.15" opacity="0.92"/><path d="M350.81 1125.19H356.75M353.78 1122.22V1128.16" fill="none" stroke="#5A62B4" stroke-width="1.15" opacity="0.92"/><circle cx="353.78" cy="1125.19" r="2.97" fill="none" stroke="#5A62B4" stroke-width="1.15" opacity="0.92"/><path d="M354.23 1123.90H360.17M357.20 1120.93V1126.87" fill="none" stroke="#5A62B4" stroke-width="1.15" opacity="0.92"/><circle cx="357.20" cy="1123.90" r="2.97" fill="none" stroke="#5A62B4" stroke-width="1.15" opacity="0.92"/><path d="M357.71 1122.74H363.65M360.68 1119.77V1125.71" fill="none" stroke="#5A62B4" stroke-width="1.15" opacity="0.92"/><circle cx="360.68" cy="1122.74" r="2.97" fill="none" stroke="#5A62B4" stroke-width="1.15" opacity="0.92"/><path d="M361.18 1121.58H367.12M364.15 1118.61V1124.55" fill="none" stroke="#5A62B4" stroke-width="1.15" opacity="0.92"/><circle cx="364.15" cy="1121.58" r="2.97" fill="none" stroke="#5A62B4" stroke-width="1.15" opacity="0.92"/><path d="M364.65 1120.41H370.59M367.62 1117.44V1123.38" fill="none" stroke="#5A62B4" stroke-width="1.15" opacity="0.92"/><circle cx="367.62" cy="1120.41" r="2.97" fill="none" stroke="#5A62B4" stroke-width="1.15" opacity="0.92"/><path d="M368.09 1119.16H374.03M371.06 1116.19V1122.13" fill="none" stroke="#5A62B4" stroke-width="1.15" opacity="0.92"/><circle cx="371.06" cy="1119.16" r="2.97" fill="none" stroke="#5A62B4" stroke-width="1.15" opacity="0.92"/><path d="M371.53 1117.90H377.47M374.50 1114.93V1120.87" fill="none" stroke="#5A62B4" stroke-width="1.15" opacity="0.92"/><circle cx="374.50" cy="1117.90" r="2.97" fill="none" stroke="#5A62B4" stroke-width="1.15" opacity="0.92"/><path d="M249.90 1151.00H256.50M253.20 1147.70V1154.30M250.82 1148.62L255.58 1153.38M250.82 1153.38L255.58 1148.62" fill="none" stroke="#E8412C" stroke-width="1.15" opacity="0.92"/><path d="M253.54 1151.82H260.14M256.84 1148.52V1155.12M254.46 1149.44L259.21 1154.20M254.46 1154.20L259.21 1149.44" fill="none" stroke="#E8412C" stroke-width="1.15" opacity="0.92"/><path d="M257.18 1152.64H263.78M260.48 1149.34V1155.94M258.10 1150.26L262.85 1155.02M258.10 1155.02L262.85 1150.26" fill="none" stroke="#E8412C" stroke-width="1.15" opacity="0.92"/><path d="M260.81 1153.46H267.41M264.11 1150.16V1156.76M261.74 1151.08L266.49 1155.83M261.74 1155.83L266.49 1151.08" fill="none" stroke="#E8412C" stroke-width="1.15" opacity="0.92"/><path d="M264.45 1154.28H271.05M267.75 1150.98V1157.58M265.38 1151.90L270.13 1156.65M265.38 1156.65L270.13 1151.90" fill="none" stroke="#E8412C" stroke-width="1.15" opacity="0.92"/><path d="M268.09 1155.10H274.69M271.39 1151.80V1158.40M269.01 1152.72L273.77 1157.47M269.01 1157.47L273.77 1152.72" fill="none" stroke="#E8412C" stroke-width="1.15" opacity="0.92"/><path d="M271.73 1155.92H278.33M275.03 1152.62V1159.22M272.65 1153.54L277.40 1158.29M272.65 1158.29L277.40 1153.54" fill="none" stroke="#E8412C" stroke-width="1.15" opacity="0.92"/><path d="M275.36 1156.74H281.96M278.66 1153.44V1160.04M276.29 1154.36L281.04 1159.12M276.29 1159.12L281.04 1154.36" fill="none" stroke="#E8412C" stroke-width="1.15" opacity="0.92"/><path d="M278.98 1157.65H285.58M282.28 1154.35V1160.95M279.91 1155.27L284.66 1160.02M279.91 1160.02L284.66 1155.27" fill="none" stroke="#E8412C" stroke-width="1.15" opacity="0.92"/><path d="M282.60 1158.55H289.20M285.90 1155.25V1161.85M283.52 1156.17L288.28 1160.93M283.52 1160.93L288.28 1156.17" fill="none" stroke="#E8412C" stroke-width="1.15" opacity="0.92"/><path d="M286.22 1159.45H292.82M289.52 1156.15V1162.75M287.14 1157.08L291.89 1161.83M287.14 1161.83L291.89 1157.08" fill="none" stroke="#E8412C" stroke-width="1.15" opacity="0.92"/><path d="M289.83 1160.36H296.43M293.13 1157.06V1163.66M290.76 1157.98L295.51 1162.73M290.76 1162.73L295.51 1157.98" fill="none" stroke="#E8412C" stroke-width="1.15" opacity="0.92"/><path d="M293.45 1161.26H300.05M296.75 1157.96V1164.56M294.38 1158.89L299.13 1163.64M294.38 1163.64L299.13 1158.89" fill="none" stroke="#E8412C" stroke-width="1.15" opacity="0.92"/><path d="M297.11 1162.00H303.71M300.41 1158.70V1165.30M298.03 1159.63L302.78 1164.38M298.03 1164.38L302.78 1159.63" fill="none" stroke="#E8412C" stroke-width="1.15" opacity="0.92"/><path d="M300.76 1162.73H307.36M304.06 1159.43V1166.03M301.69 1160.36L306.44 1165.11M301.69 1165.11L306.44 1160.36" fill="none" stroke="#E8412C" stroke-width="1.15" opacity="0.92"/><path d="M304.42 1163.46H311.02M307.72 1160.16V1166.76M305.34 1161.09L310.10 1165.84M305.34 1165.84L310.10 1161.09" fill="none" stroke="#E8412C" stroke-width="1.15" opacity="0.92"/><path d="M308.08 1164.20H314.68M311.38 1160.90V1167.50M309.00 1161.82L313.75 1166.57M309.00 1166.57L313.75 1161.82" fill="none" stroke="#E8412C" stroke-width="1.15" opacity="0.92"/><path d="M311.73 1164.93H318.33M315.03 1161.63V1168.23M312.66 1162.55L317.41 1167.30M312.66 1167.30L317.41 1162.55" fill="none" stroke="#E8412C" stroke-width="1.15" opacity="0.92"/><path d="M315.44 1165.32H322.04M318.74 1162.02V1168.62M316.36 1162.95L321.12 1167.70M316.36 1167.70L321.12 1162.95" fill="none" stroke="#E8412C" stroke-width="1.15" opacity="0.92"/><path d="M319.15 1165.69H325.75M322.45 1162.39V1168.99M320.08 1163.31L324.83 1168.06M320.08 1168.06L324.83 1163.31" fill="none" stroke="#E8412C" stroke-width="1.15" opacity="0.92"/><path d="M322.86 1166.05H329.46M326.16 1162.75V1169.35M323.79 1163.67L328.54 1168.42M323.79 1168.42L328.54 1163.67" fill="none" stroke="#E8412C" stroke-width="1.15" opacity="0.92"/><path d="M326.57 1166.41H333.17M329.87 1163.11V1169.71M327.50 1164.03L332.25 1168.78M327.50 1168.78L332.25 1164.03" fill="none" stroke="#E8412C" stroke-width="1.15" opacity="0.92"/><path d="M330.29 1166.77H336.89M333.59 1163.47V1170.07M331.21 1164.39L335.96 1169.15M331.21 1169.15L335.96 1164.39" fill="none" stroke="#E8412C" stroke-width="1.15" opacity="0.92"/><path d="M334.01 1166.97H340.61M337.31 1163.67V1170.27M334.93 1164.59L339.69 1169.34M334.93 1169.34L339.69 1164.59" fill="none" stroke="#E8412C" stroke-width="1.15" opacity="0.92"/><path d="M337.73 1167.15H344.33M341.03 1163.85V1170.45M338.66 1164.77L343.41 1169.52M338.66 1169.52L343.41 1164.77" fill="none" stroke="#E8412C" stroke-width="1.15" opacity="0.92"/><path d="M341.46 1167.33H348.06M344.76 1164.03V1170.63M342.38 1164.95L347.13 1169.70M342.38 1169.70L347.13 1164.95" fill="none" stroke="#E8412C" stroke-width="1.15" opacity="0.92"/><path d="M345.18 1167.51H351.78M348.48 1164.21V1170.81M346.11 1165.13L350.86 1169.89M346.11 1169.89L350.86 1165.13" fill="none" stroke="#E8412C" stroke-width="1.15" opacity="0.92"/><path d="M348.91 1167.69H355.51M352.21 1164.39V1170.99M349.83 1165.31L354.58 1170.07M349.83 1170.07L354.58 1165.31" fill="none" stroke="#E8412C" stroke-width="1.15" opacity="0.92"/><path d="M352.62 1168.00H359.22M355.92 1164.70V1171.30M353.55 1165.63L358.30 1170.38M353.55 1170.38L358.30 1165.63" fill="none" stroke="#E8412C" stroke-width="1.15" opacity="0.92"/><path d="M356.34 1168.32H362.94M359.64 1165.02V1171.62M357.26 1165.95L362.01 1170.70M357.26 1170.70L362.01 1165.95" fill="none" stroke="#E8412C" stroke-width="1.15" opacity="0.92"/><path d="M360.05 1168.64H366.65M363.35 1165.34V1171.94M360.98 1166.27L365.73 1171.02M360.98 1171.02L365.73 1166.27" fill="none" stroke="#E8412C" stroke-width="1.15" opacity="0.92"/><path d="M363.77 1168.96H370.37M367.07 1165.66V1172.26M364.69 1166.59L369.45 1171.34M364.69 1171.34L369.45 1166.59" fill="none" stroke="#E8412C" stroke-width="1.15" opacity="0.92"/><path d="M367.48 1169.28H374.08M370.78 1165.98V1172.58M368.41 1166.90L373.16 1171.66M368.41 1171.66L373.16 1166.90" fill="none" stroke="#E8412C" stroke-width="1.15" opacity="0.92"/><path d="M371.20 1169.60H377.80M374.50 1166.30V1172.90M372.12 1167.22L376.88 1171.98M372.12 1171.98L376.88 1167.22" fill="none" stroke="#E8412C" stroke-width="1.15" opacity="0.92"/><path d="M274.04 1134.94H279.76V1140.66H274.04ZL279.76 1140.66M274.04 1140.66L279.76 1134.94" fill="none" stroke="#7FCDB6" stroke-width="1.15" opacity="0.92"/><path d="M277.40 1137.33H283.12V1143.05H277.40ZL283.12 1143.05M277.40 1143.05L283.12 1137.33" fill="none" stroke="#7FCDB6" stroke-width="1.15" opacity="0.92"/><path d="M280.77 1139.72H286.49V1145.44H280.77ZL286.49 1145.44M280.77 1145.44L286.49 1139.72" fill="none" stroke="#7FCDB6" stroke-width="1.15" opacity="0.92"/><path d="M284.13 1142.11H289.85V1147.83H284.13ZL289.85 1147.83M284.13 1147.83L289.85 1142.11" fill="none" stroke="#7FCDB6" stroke-width="1.15" opacity="0.92"/><path d="M287.50 1144.49H293.22V1150.21H287.50ZL293.22 1150.21M287.50 1150.21L293.22 1144.49" fill="none" stroke="#7FCDB6" stroke-width="1.15" opacity="0.92"/><path d="M290.86 1146.88H296.58V1152.60H290.86ZL296.58 1152.60M290.86 1152.60L296.58 1146.88" fill="none" stroke="#7FCDB6" stroke-width="1.15" opacity="0.92"/><path d="M294.26 1149.21H299.98V1154.93H294.26ZL299.98 1154.93M294.26 1154.93L299.98 1149.21" fill="none" stroke="#7FCDB6" stroke-width="1.15" opacity="0.92"/><path d="M298.21 1150.40H303.93V1156.12H298.21ZL303.93 1156.12M298.21 1156.12L303.93 1150.40" fill="none" stroke="#7FCDB6" stroke-width="1.15" opacity="0.92"/><path d="M302.16 1151.60H307.88V1157.32H302.16ZL307.88 1157.32M302.16 1157.32L307.88 1151.60" fill="none" stroke="#7FCDB6" stroke-width="1.15" opacity="0.92"/><path d="M306.11 1152.79H311.83V1158.51H306.11ZL311.83 1158.51M306.11 1158.51L311.83 1152.79" fill="none" stroke="#7FCDB6" stroke-width="1.15" opacity="0.92"/><path d="M310.06 1153.99H315.78V1159.71H310.06ZL315.78 1159.71M310.06 1159.71L315.78 1153.99" fill="none" stroke="#7FCDB6" stroke-width="1.15" opacity="0.92"/><path d="M314.01 1155.18H319.73V1160.90H314.01ZL319.73 1160.90M314.01 1160.90L319.73 1155.18" fill="none" stroke="#7FCDB6" stroke-width="1.15" opacity="0.92"/><path d="M317.96 1156.35H323.68V1162.07H317.96ZL323.68 1162.07M317.96 1162.07L323.68 1156.35" fill="none" stroke="#7FCDB6" stroke-width="1.15" opacity="0.92"/><path d="M321.92 1157.53H327.64V1163.25H321.92ZL327.64 1163.25M321.92 1163.25L327.64 1157.53" fill="none" stroke="#7FCDB6" stroke-width="1.15" opacity="0.92"/><path d="M325.87 1158.70H331.59V1164.42H325.87ZL331.59 1164.42M325.87 1164.42L331.59 1158.70" fill="none" stroke="#7FCDB6" stroke-width="1.15" opacity="0.92"/><path d="M329.83 1159.88H335.55V1165.60H329.83ZL335.55 1165.60M329.83 1165.60L335.55 1159.88" fill="none" stroke="#7FCDB6" stroke-width="1.15" opacity="0.92"/><path d="M333.85 1160.80H339.57V1166.52H333.85ZL339.57 1166.52M333.85 1166.52L339.57 1160.80" fill="none" stroke="#7FCDB6" stroke-width="1.15" opacity="0.92"/><path d="M337.89 1161.61H343.61V1167.33H337.89ZL343.61 1167.33M337.89 1167.33L343.61 1161.61" fill="none" stroke="#7FCDB6" stroke-width="1.15" opacity="0.92"/><path d="M341.94 1162.42H347.66V1168.14H341.94ZL347.66 1168.14M341.94 1168.14L347.66 1162.42" fill="none" stroke="#7FCDB6" stroke-width="1.15" opacity="0.92"/><path d="M345.98 1163.23H351.70V1168.95H345.98ZL351.70 1168.95M345.98 1168.95L351.70 1163.23" fill="none" stroke="#7FCDB6" stroke-width="1.15" opacity="0.92"/><path d="M350.03 1164.04H355.75V1169.76H350.03ZL355.75 1169.76M350.03 1169.76L355.75 1164.04" fill="none" stroke="#7FCDB6" stroke-width="1.15" opacity="0.92"/><path d="M354.07 1164.85H359.79V1170.57H354.07ZL359.79 1170.57M354.07 1170.57L359.79 1164.85" fill="none" stroke="#7FCDB6" stroke-width="1.15" opacity="0.92"/><path d="M358.12 1165.67H363.84V1171.39H358.12ZL363.84 1171.39M358.12 1171.39L363.84 1165.67" fill="none" stroke="#7FCDB6" stroke-width="1.15" opacity="0.92"/><path d="M362.17 1166.48H367.89V1172.20H362.17ZL367.89 1172.20M362.17 1172.20L367.89 1166.48" fill="none" stroke="#7FCDB6" stroke-width="1.15" opacity="0.92"/><path d="M366.21 1167.29H371.93V1173.01H366.21ZL371.93 1173.01M366.21 1173.01L371.93 1167.29" fill="none" stroke="#7FCDB6" stroke-width="1.15" opacity="0.92"/><path d="M370.26 1168.10H375.98V1173.82H370.26ZL375.98 1173.82M370.26 1173.82L375.98 1168.10" fill="none" stroke="#7FCDB6" stroke-width="1.15" opacity="0.92"/><path d="M374.30 1168.91H380.02V1174.63H374.30ZL380.02 1174.63M374.30 1174.63L380.02 1168.91" fill="none" stroke="#7FCDB6" stroke-width="1.15" opacity="0.92"/><path d="M378.35 1169.72H384.07V1175.44H378.35ZL384.07 1175.44M378.35 1175.44L384.07 1169.72" fill="none" stroke="#7FCDB6" stroke-width="1.15" opacity="0.92"/><path d="M382.39 1170.53H388.11V1176.25H382.39ZL388.11 1176.25M382.39 1176.25L388.11 1170.53" fill="none" stroke="#7FCDB6" stroke-width="1.15" opacity="0.92"/><path d="M386.44 1171.34H392.16V1177.06H386.44ZL392.16 1177.06M386.44 1177.06L392.16 1171.34" fill="none" stroke="#7FCDB6" stroke-width="1.15" opacity="0.92"/><path d="M216.54 1104.44H222.26V1110.16H216.54ZM216.54 1110.16L219.40 1104.44L222.26 1110.16" fill="none" stroke="#2E9191" stroke-width="1.15" opacity="0.92"/><path d="M221.51 1106.66H227.23V1112.38H221.51ZM221.51 1112.38L224.37 1106.66L227.23 1112.38" fill="none" stroke="#2E9191" stroke-width="1.15" opacity="0.92"/><path d="M226.49 1108.88H232.21V1114.60H226.49ZM226.49 1114.60L229.35 1108.88L232.21 1114.60" fill="none" stroke="#2E9191" stroke-width="1.15" opacity="0.92"/><path d="M231.46 1111.11H237.18V1116.83H231.46ZM231.46 1116.83L234.32 1111.11L237.18 1116.83" fill="none" stroke="#2E9191" stroke-width="1.15" opacity="0.92"/><path d="M236.44 1113.33H242.16V1119.05H236.44ZM236.44 1119.05L239.30 1113.33L242.16 1119.05" fill="none" stroke="#2E9191" stroke-width="1.15" opacity="0.92"/><path d="M241.42 1115.53H247.14V1121.25H241.42ZM241.42 1121.25L244.28 1115.53L247.14 1121.25" fill="none" stroke="#2E9191" stroke-width="1.15" opacity="0.92"/><path d="M246.41 1117.72H252.13V1123.44H246.41ZM246.41 1123.44L249.27 1117.72L252.13 1123.44" fill="none" stroke="#2E9191" stroke-width="1.15" opacity="0.92"/><path d="M251.40 1119.91H257.12V1125.63H251.40ZM251.40 1125.63L254.26 1119.91L257.12 1125.63" fill="none" stroke="#2E9191" stroke-width="1.15" opacity="0.92"/><path d="M256.39 1122.11H262.11V1127.83H256.39ZM256.39 1127.83L259.25 1122.11L262.11 1127.83" fill="none" stroke="#2E9191" stroke-width="1.15" opacity="0.92"/><path d="M261.20 1124.66H266.92V1130.38H261.20ZM261.20 1130.38L264.06 1124.66L266.92 1130.38" fill="none" stroke="#2E9191" stroke-width="1.15" opacity="0.92"/><path d="M265.98 1127.27H271.70V1132.99H265.98ZM265.98 1132.99L268.84 1127.27L271.70 1132.99" fill="none" stroke="#2E9191" stroke-width="1.15" opacity="0.92"/><path d="M270.76 1129.88H276.48V1135.60H270.76ZM270.76 1135.60L273.62 1129.88L276.48 1135.60" fill="none" stroke="#2E9191" stroke-width="1.15" opacity="0.92"/><path d="M275.54 1132.49H281.26V1138.21H275.54ZM275.54 1138.21L278.40 1132.49L281.26 1138.21" fill="none" stroke="#2E9191" stroke-width="1.15" opacity="0.92"/><path d="M280.42 1134.93H286.14V1140.65H280.42ZM280.42 1140.65L283.28 1134.93L286.14 1140.65" fill="none" stroke="#2E9191" stroke-width="1.15" opacity="0.92"/><path d="M285.29 1137.36H291.01V1143.08H285.29ZM285.29 1143.08L288.15 1137.36L291.01 1143.08" fill="none" stroke="#2E9191" stroke-width="1.15" opacity="0.92"/><path d="M290.16 1139.80H295.88V1145.52H290.16ZM290.16 1145.52L293.02 1139.80L295.88 1145.52" fill="none" stroke="#2E9191" stroke-width="1.15" opacity="0.92"/><path d="M295.12 1142.01H300.84V1147.73H295.12ZM295.12 1147.73L297.98 1142.01L300.84 1147.73" fill="none" stroke="#2E9191" stroke-width="1.15" opacity="0.92"/><path d="M300.40 1143.36H306.12V1149.08H300.40ZM300.40 1149.08L303.26 1143.36L306.12 1149.08" fill="none" stroke="#2E9191" stroke-width="1.15" opacity="0.92"/><path d="M305.68 1144.70H311.40V1150.42H305.68ZM305.68 1150.42L308.54 1144.70L311.40 1150.42" fill="none" stroke="#2E9191" stroke-width="1.15" opacity="0.92"/><path d="M310.96 1146.04H316.68V1151.76H310.96ZM310.96 1151.76L313.82 1146.04L316.68 1151.76" fill="none" stroke="#2E9191" stroke-width="1.15" opacity="0.92"/><path d="M316.28 1147.19H322.00V1152.91H316.28ZM316.28 1152.91L319.14 1147.19L322.00 1152.91" fill="none" stroke="#2E9191" stroke-width="1.15" opacity="0.92"/><path d="M321.63 1148.26H327.35V1153.98H321.63ZM321.63 1153.98L324.49 1148.26L327.35 1153.98" fill="none" stroke="#2E9191" stroke-width="1.15" opacity="0.92"/><path d="M326.97 1149.33H332.69V1155.05H326.97ZM326.97 1155.05L329.83 1149.33L332.69 1155.05" fill="none" stroke="#2E9191" stroke-width="1.15" opacity="0.92"/><path d="M332.32 1150.33H338.04V1156.05H332.32ZM332.32 1156.05L335.18 1150.33L338.04 1156.05" fill="none" stroke="#2E9191" stroke-width="1.15" opacity="0.92"/><path d="M337.72 1151.11H343.44V1156.83H337.72ZM337.72 1156.83L340.58 1151.11L343.44 1156.83" fill="none" stroke="#2E9191" stroke-width="1.15" opacity="0.92"/><path d="M343.11 1151.90H348.83V1157.62H343.11ZM343.11 1157.62L345.97 1151.90L348.83 1157.62" fill="none" stroke="#2E9191" stroke-width="1.15" opacity="0.92"/><path d="M348.50 1152.69H354.22V1158.41H348.50ZM348.50 1158.41L351.36 1152.69L354.22 1158.41" fill="none" stroke="#2E9191" stroke-width="1.15" opacity="0.92"/><path d="M353.91 1153.29H359.63V1159.01H353.91ZM353.91 1159.01L356.77 1153.29L359.63 1159.01" fill="none" stroke="#2E9191" stroke-width="1.15" opacity="0.92"/><path d="M359.33 1153.85H365.05V1159.57H359.33ZM359.33 1159.57L362.19 1153.85L365.05 1159.57" fill="none" stroke="#2E9191" stroke-width="1.15" opacity="0.92"/><path d="M364.75 1154.41H370.47V1160.13H364.75ZM364.75 1160.13L367.61 1154.41L370.47 1160.13" fill="none" stroke="#2E9191" stroke-width="1.15" opacity="0.92"/><path d="M370.17 1154.96H375.89V1160.68H370.17ZM370.17 1160.68L373.03 1154.96L375.89 1160.68" fill="none" stroke="#2E9191" stroke-width="1.15" opacity="0.92"/><path d="M375.59 1155.48H381.31V1161.20H375.59ZM375.59 1161.20L378.45 1155.48L381.31 1161.20" fill="none" stroke="#2E9191" stroke-width="1.15" opacity="0.92"/><path d="M381.02 1156.01H386.74V1161.73H381.02ZM381.02 1161.73L383.88 1156.01L386.74 1161.73" fill="none" stroke="#2E9191" stroke-width="1.15" opacity="0.92"/><path d="M386.44 1156.54H392.16V1162.26H386.44ZM386.44 1162.26L389.30 1156.54L392.16 1162.26" fill="none" stroke="#2E9191" stroke-width="1.15" opacity="0.92"/><rect x="125.48" y="1008.59" width="5.83" height="5.83" fill="#D9573F" opacity="0.92"/><rect x="131.68" y="1011.97" width="5.83" height="5.83" fill="#D9573F" opacity="0.92"/><rect x="137.91" y="1015.31" width="5.83" height="5.83" fill="#D9573F" opacity="0.92"/><rect x="144.40" y="1018.09" width="5.83" height="5.83" fill="#D9573F" opacity="0.92"/><rect x="151.16" y="1019.75" width="5.83" height="5.83" fill="#D9573F" opacity="0.92"/><rect x="158.21" y="1020.11" width="5.83" height="5.83" fill="#D9573F" opacity="0.92"/><rect x="165.17" y="1020.94" width="5.83" height="5.83" fill="#D9573F" opacity="0.92"/><rect x="171.78" y="1023.44" width="5.83" height="5.83" fill="#D9573F" opacity="0.92"/><rect x="178.20" y="1026.34" width="5.83" height="5.83" fill="#D9573F" opacity="0.92"/><rect x="184.52" y="1029.50" width="5.83" height="5.83" fill="#D9573F" opacity="0.92"/><rect x="190.52" y="1033.23" width="5.83" height="5.83" fill="#D9573F" opacity="0.92"/><rect x="196.63" y="1036.74" width="5.83" height="5.83" fill="#D9573F" opacity="0.92"/><rect x="203.26" y="1039.18" width="5.83" height="5.83" fill="#D9573F" opacity="0.92"/><rect x="209.99" y="1041.30" width="5.83" height="5.83" fill="#D9573F" opacity="0.92"/><rect x="216.79" y="1043.19" width="5.83" height="5.83" fill="#D9573F" opacity="0.92"/><rect x="223.38" y="1045.63" width="5.83" height="5.83" fill="#D9573F" opacity="0.92"/><rect x="229.58" y="1049.01" width="5.83" height="5.83" fill="#D9573F" opacity="0.92"/><rect x="235.80" y="1052.36" width="5.83" height="5.83" fill="#D9573F" opacity="0.92"/><rect x="242.46" y="1054.70" width="5.83" height="5.83" fill="#D9573F" opacity="0.92"/><rect x="247.56" y="1059.52" width="5.83" height="5.83" fill="#D9573F" opacity="0.92"/><rect x="252.41" y="1064.66" width="5.83" height="5.83" fill="#D9573F" opacity="0.92"/><rect x="257.01" y="1070.01" width="5.83" height="5.83" fill="#D9573F" opacity="0.92"/><rect x="261.71" y="1075.29" width="5.83" height="5.83" fill="#D9573F" opacity="0.92"/><rect x="266.47" y="1080.50" width="5.83" height="5.83" fill="#D9573F" opacity="0.92"/><rect x="272.87" y="1083.23" width="5.83" height="5.83" fill="#D9573F" opacity="0.92"/><rect x="279.26" y="1086.19" width="5.83" height="5.83" fill="#D9573F" opacity="0.92"/><rect x="285.48" y="1089.55" width="5.83" height="5.83" fill="#D9573F" opacity="0.92"/><rect x="291.88" y="1092.37" width="5.83" height="5.83" fill="#D9573F" opacity="0.92"/><rect x="298.78" y="1093.88" width="5.83" height="5.83" fill="#D9573F" opacity="0.92"/><rect x="305.69" y="1095.38" width="5.83" height="5.83" fill="#D9573F" opacity="0.92"/><circle cx="116.50" cy="1046.60" r="2.86" fill="none" stroke="#EE9A50" stroke-width="1.15" opacity="0.92"/><circle cx="118.06" cy="1047.96" r="2.86" fill="none" stroke="#EE9A50" stroke-width="1.15" opacity="0.92"/><circle cx="120.22" cy="1049.83" r="2.86" fill="none" stroke="#EE9A50" stroke-width="1.15" opacity="0.92"/><circle cx="122.68" cy="1051.96" r="2.86" fill="none" stroke="#EE9A50" stroke-width="1.15" opacity="0.92"/><circle cx="125.35" cy="1054.28" r="2.86" fill="none" stroke="#EE9A50" stroke-width="1.15" opacity="0.92"/><circle cx="128.29" cy="1056.64" r="2.86" fill="none" stroke="#EE9A50" stroke-width="1.15" opacity="0.92"/><circle cx="131.53" cy="1058.92" r="2.86" fill="none" stroke="#EE9A50" stroke-width="1.15" opacity="0.92"/><circle cx="134.91" cy="1061.30" r="2.86" fill="none" stroke="#EE9A50" stroke-width="1.15" opacity="0.92"/><circle cx="138.42" cy="1063.77" r="2.86" fill="none" stroke="#EE9A50" stroke-width="1.15" opacity="0.92"/><circle cx="142.29" cy="1065.81" r="2.86" fill="none" stroke="#EE9A50" stroke-width="1.15" opacity="0.92"/><circle cx="146.57" cy="1067.35" r="2.86" fill="none" stroke="#EE9A50" stroke-width="1.15" opacity="0.92"/><circle cx="150.96" cy="1068.92" r="2.86" fill="none" stroke="#EE9A50" stroke-width="1.15" opacity="0.92"/><circle cx="155.45" cy="1070.53" r="2.86" fill="none" stroke="#EE9A50" stroke-width="1.15" opacity="0.92"/><circle cx="160.07" cy="1072.04" r="2.86" fill="none" stroke="#EE9A50" stroke-width="1.15" opacity="0.92"/><circle cx="164.89" cy="1073.25" r="2.86" fill="none" stroke="#EE9A50" stroke-width="1.15" opacity="0.92"/><circle cx="169.79" cy="1074.47" r="2.86" fill="none" stroke="#EE9A50" stroke-width="1.15" opacity="0.92"/><circle cx="174.78" cy="1075.72" r="2.86" fill="none" stroke="#EE9A50" stroke-width="1.15" opacity="0.92"/><circle cx="179.84" cy="1076.99" r="2.86" fill="none" stroke="#EE9A50" stroke-width="1.15" opacity="0.92"/><circle cx="184.98" cy="1078.27" r="2.86" fill="none" stroke="#EE9A50" stroke-width="1.15" opacity="0.92"/><circle cx="189.80" cy="1080.65" r="2.86" fill="none" stroke="#EE9A50" stroke-width="1.15" opacity="0.92"/><circle cx="194.66" cy="1083.08" r="2.86" fill="none" stroke="#EE9A50" stroke-width="1.15" opacity="0.92"/><circle cx="199.69" cy="1085.31" r="2.86" fill="none" stroke="#EE9A50" stroke-width="1.15" opacity="0.92"/><circle cx="205.04" cy="1086.89" r="2.86" fill="none" stroke="#EE9A50" stroke-width="1.15" opacity="0.92"/><circle cx="210.45" cy="1088.49" r="2.86" fill="none" stroke="#EE9A50" stroke-width="1.15" opacity="0.92"/><circle cx="215.98" cy="1089.85" r="2.86" fill="none" stroke="#EE9A50" stroke-width="1.15" opacity="0.92"/><circle cx="221.62" cy="1090.97" r="2.86" fill="none" stroke="#EE9A50" stroke-width="1.15" opacity="0.92"/><circle cx="227.41" cy="1091.60" r="2.86" fill="none" stroke="#EE9A50" stroke-width="1.15" opacity="0.92"/><circle cx="233.25" cy="1092.23" r="2.86" fill="none" stroke="#EE9A50" stroke-width="1.15" opacity="0.92"/><circle cx="239.15" cy="1092.86" r="2.86" fill="none" stroke="#EE9A50" stroke-width="1.15" opacity="0.92"/><circle cx="245.10" cy="1093.50" r="2.86" fill="none" stroke="#EE9A50" stroke-width="1.15" opacity="0.92"/><circle cx="62.40" cy="1025.40" r="2.15" fill="#4A86C8" opacity="0.92"/><circle cx="62.93" cy="1025.17" r="2.15" fill="#4A86C8" opacity="0.92"/><circle cx="63.99" cy="1024.71" r="2.15" fill="#4A86C8" opacity="0.92"/><circle cx="65.45" cy="1024.09" r="2.15" fill="#4A86C8" opacity="0.92"/><circle cx="67.23" cy="1023.32" r="2.15" fill="#4A86C8" opacity="0.92"/><circle cx="69.30" cy="1022.43" r="2.15" fill="#4A86C8" opacity="0.92"/><circle cx="71.68" cy="1022.44" r="2.15" fill="#4A86C8" opacity="0.92"/><circle cx="74.36" cy="1023.29" r="2.15" fill="#4A86C8" opacity="0.92"/><circle cx="77.21" cy="1024.36" r="2.15" fill="#4A86C8" opacity="0.92"/><circle cx="79.72" cy="1026.50" r="2.15" fill="#4A86C8" opacity="0.92"/><circle cx="82.36" cy="1028.84" r="2.15" fill="#4A86C8" opacity="0.92"/><circle cx="84.45" cy="1031.95" r="2.15" fill="#4A86C8" opacity="0.92"/><circle cx="86.65" cy="1035.24" r="2.15" fill="#4A86C8" opacity="0.92"/><circle cx="88.97" cy="1038.70" r="2.15" fill="#4A86C8" opacity="0.92"/><circle cx="91.40" cy="1042.32" r="2.15" fill="#4A86C8" opacity="0.92"/><circle cx="94.50" cy="1045.53" r="2.15" fill="#4A86C8" opacity="0.92"/><circle cx="98.44" cy="1048.16" r="2.15" fill="#4A86C8" opacity="0.92"/><circle cx="102.53" cy="1050.89" r="2.15" fill="#4A86C8" opacity="0.92"/><circle cx="106.83" cy="1053.62" r="2.15" fill="#4A86C8" opacity="0.92"/><circle cx="111.54" cy="1055.97" r="2.15" fill="#4A86C8" opacity="0.92"/><circle cx="116.41" cy="1058.40" r="2.15" fill="#4A86C8" opacity="0.92"/><circle cx="121.50" cy="1060.73" r="2.15" fill="#4A86C8" opacity="0.92"/><circle cx="126.84" cy="1062.89" r="2.15" fill="#4A86C8" opacity="0.92"/><circle cx="132.34" cy="1065.11" r="2.15" fill="#4A86C8" opacity="0.92"/><circle cx="138.17" cy="1066.83" r="2.15" fill="#4A86C8" opacity="0.92"/><circle cx="144.15" cy="1068.60" r="2.15" fill="#4A86C8" opacity="0.92"/><circle cx="150.38" cy="1069.98" r="2.15" fill="#4A86C8" opacity="0.92"/><circle cx="156.79" cy="1071.27" r="2.15" fill="#4A86C8" opacity="0.92"/><circle cx="163.34" cy="1072.58" r="2.15" fill="#4A86C8" opacity="0.92"/><circle cx="170.03" cy="1073.93" r="2.15" fill="#4A86C8" opacity="0.92"/><circle cx="176.89" cy="1075.19" r="2.15" fill="#4A86C8" opacity="0.92"/><circle cx="183.89" cy="1076.43" r="2.15" fill="#4A86C8" opacity="0.92"/><circle cx="191.03" cy="1077.71" r="2.15" fill="#4A86C8" opacity="0.92"/><circle cx="198.30" cy="1079.00" r="2.15" fill="#4A86C8" opacity="0.92"/><rect x="264.54" y="1125.14" width="5.72" height="5.72" fill="none" stroke="#5BA56B" stroke-width="1.15" opacity="0.92"/><rect x="268.29" y="1127.03" width="5.72" height="5.72" fill="none" stroke="#5BA56B" stroke-width="1.15" opacity="0.92"/><rect x="272.04" y="1128.93" width="5.72" height="5.72" fill="none" stroke="#5BA56B" stroke-width="1.15" opacity="0.92"/><rect x="275.79" y="1130.83" width="5.72" height="5.72" fill="none" stroke="#5BA56B" stroke-width="1.15" opacity="0.92"/><rect x="279.39" y="1132.98" width="5.72" height="5.72" fill="none" stroke="#5BA56B" stroke-width="1.15" opacity="0.92"/><rect x="283.00" y="1135.14" width="5.72" height="5.72" fill="none" stroke="#5BA56B" stroke-width="1.15" opacity="0.92"/><rect x="286.81" y="1136.84" width="5.72" height="5.72" fill="none" stroke="#5BA56B" stroke-width="1.15" opacity="0.92"/><rect x="290.83" y="1138.06" width="5.72" height="5.72" fill="none" stroke="#5BA56B" stroke-width="1.15" opacity="0.92"/><rect x="294.83" y="1138.74" width="5.72" height="5.72" fill="none" stroke="#5BA56B" stroke-width="1.15" opacity="0.92"/><rect x="298.76" y="1137.25" width="5.72" height="5.72" fill="none" stroke="#5BA56B" stroke-width="1.15" opacity="0.92"/><rect x="302.51" y="1135.44" width="5.72" height="5.72" fill="none" stroke="#5BA56B" stroke-width="1.15" opacity="0.92"/><rect x="305.89" y="1132.94" width="5.72" height="5.72" fill="none" stroke="#5BA56B" stroke-width="1.15" opacity="0.92"/><rect x="309.21" y="1130.37" width="5.72" height="5.72" fill="none" stroke="#5BA56B" stroke-width="1.15" opacity="0.92"/><rect x="312.18" y="1127.40" width="5.72" height="5.72" fill="none" stroke="#5BA56B" stroke-width="1.15" opacity="0.92"/><rect x="315.34" y="1124.69" width="5.72" height="5.72" fill="none" stroke="#5BA56B" stroke-width="1.15" opacity="0.92"/><rect x="319.08" y="1122.79" width="5.72" height="5.72" fill="none" stroke="#5BA56B" stroke-width="1.15" opacity="0.92"/><rect x="322.45" y="1122.44" width="5.72" height="5.72" fill="none" stroke="#5BA56B" stroke-width="1.15" opacity="0.92"/><rect x="324.90" y="1125.85" width="5.72" height="5.72" fill="none" stroke="#5BA56B" stroke-width="1.15" opacity="0.92"/><rect x="327.34" y="1129.27" width="5.72" height="5.72" fill="none" stroke="#5BA56B" stroke-width="1.15" opacity="0.92"/><rect x="329.79" y="1132.69" width="5.72" height="5.72" fill="none" stroke="#5BA56B" stroke-width="1.15" opacity="0.92"/><rect x="332.80" y="1135.49" width="5.72" height="5.72" fill="none" stroke="#5BA56B" stroke-width="1.15" opacity="0.92"/><rect x="336.40" y="1137.65" width="5.72" height="5.72" fill="none" stroke="#5BA56B" stroke-width="1.15" opacity="0.92"/><rect x="340.01" y="1139.80" width="5.72" height="5.72" fill="none" stroke="#5BA56B" stroke-width="1.15" opacity="0.92"/><rect x="343.77" y="1141.68" width="5.72" height="5.72" fill="none" stroke="#5BA56B" stroke-width="1.15" opacity="0.92"/><rect x="347.53" y="1143.55" width="5.72" height="5.72" fill="none" stroke="#5BA56B" stroke-width="1.15" opacity="0.92"/><rect x="351.46" y="1144.94" width="5.72" height="5.72" fill="none" stroke="#5BA56B" stroke-width="1.15" opacity="0.92"/><rect x="355.58" y="1145.79" width="5.72" height="5.72" fill="none" stroke="#5BA56B" stroke-width="1.15" opacity="0.92"/><rect x="359.69" y="1146.63" width="5.72" height="5.72" fill="none" stroke="#5BA56B" stroke-width="1.15" opacity="0.92"/><rect x="363.82" y="1147.43" width="5.72" height="5.72" fill="none" stroke="#5BA56B" stroke-width="1.15" opacity="0.92"/><rect x="367.94" y="1148.24" width="5.72" height="5.72" fill="none" stroke="#5BA56B" stroke-width="1.15" opacity="0.92"/><circle cx="92.80" cy="1073.00" r="3.30" fill="#D3583B" opacity="0.92"/><circle cx="97.00" cy="1072.39" r="3.30" fill="#D3583B" opacity="0.92"/><circle cx="101.21" cy="1071.79" r="3.30" fill="#D3583B" opacity="0.92"/><circle cx="105.41" cy="1071.18" r="3.30" fill="#D3583B" opacity="0.92"/><circle cx="109.65" cy="1070.88" r="3.30" fill="#D3583B" opacity="0.92"/><circle cx="113.89" cy="1070.62" r="3.30" fill="#D3583B" opacity="0.92"/><circle cx="118.13" cy="1070.37" r="3.30" fill="#D3583B" opacity="0.92"/><circle cx="122.20" cy="1071.33" r="3.30" fill="#D3583B" opacity="0.92"/><circle cx="126.22" cy="1072.70" r="3.30" fill="#D3583B" opacity="0.92"/><circle cx="130.18" cy="1074.24" r="3.30" fill="#D3583B" opacity="0.92"/><circle cx="134.12" cy="1075.82" r="3.30" fill="#D3583B" opacity="0.92"/><circle cx="138.06" cy="1077.40" r="3.30" fill="#D3583B" opacity="0.92"/><circle cx="141.87" cy="1079.24" r="3.30" fill="#D3583B" opacity="0.92"/><circle cx="145.52" cy="1081.42" r="3.30" fill="#D3583B" opacity="0.92"/><circle cx="149.16" cy="1083.60" r="3.30" fill="#D3583B" opacity="0.92"/><circle cx="152.81" cy="1085.79" r="3.30" fill="#D3583B" opacity="0.92"/><circle cx="156.69" cy="1087.49" r="3.30" fill="#D3583B" opacity="0.92"/><circle cx="160.63" cy="1089.08" r="3.30" fill="#D3583B" opacity="0.92"/><circle cx="164.56" cy="1090.68" r="3.30" fill="#D3583B" opacity="0.92"/><circle cx="168.44" cy="1092.41" r="3.30" fill="#D3583B" opacity="0.92"/><circle cx="172.25" cy="1094.28" r="3.30" fill="#D3583B" opacity="0.92"/><circle cx="176.06" cy="1096.16" r="3.30" fill="#D3583B" opacity="0.92"/><circle cx="179.86" cy="1098.05" r="3.30" fill="#D3583B" opacity="0.92"/><circle cx="183.25" cy="1100.61" r="3.30" fill="#D3583B" opacity="0.92"/><circle cx="187.01" cy="1102.27" r="3.30" fill="#D3583B" opacity="0.92"/><circle cx="191.22" cy="1102.86" r="3.30" fill="#D3583B" opacity="0.92"/><circle cx="195.43" cy="1103.45" r="3.30" fill="#D3583B" opacity="0.92"/><circle cx="199.63" cy="1104.04" r="3.30" fill="#D3583B" opacity="0.92"/><circle cx="203.84" cy="1104.64" r="3.30" fill="#D3583B" opacity="0.92"/><circle cx="208.01" cy="1105.44" r="3.30" fill="#D3583B" opacity="0.92"/><circle cx="212.18" cy="1106.23" r="3.30" fill="#D3583B" opacity="0.92"/><circle cx="216.35" cy="1107.02" r="3.30" fill="#D3583B" opacity="0.92"/><circle cx="220.53" cy="1107.81" r="3.30" fill="#D3583B" opacity="0.92"/><circle cx="224.70" cy="1108.60" r="3.30" fill="#D3583B" opacity="0.92"/><path d="M63.70 1050.10C68.55 1048.70 83.55 1044.15 92.80 1041.70C102.05 1039.25 110.42 1037.15 119.20 1035.40C127.98 1033.65 136.72 1031.96 145.50 1031.20C154.28 1030.43 163.10 1029.88 171.90 1030.80C180.70 1031.71 189.50 1033.62 198.30 1036.68C207.10 1039.74 216.68 1045.19 224.70 1049.16C232.72 1053.14 239.45 1056.54 246.40 1060.54C253.35 1064.54 260.87 1068.85 266.40 1073.16C271.93 1077.48 275.20 1081.92 279.60 1086.45C284.00 1090.97 286.20 1094.81 292.80 1100.33C299.40 1105.85 310.42 1114.71 319.20 1119.59C327.98 1124.48 336.72 1126.28 345.50 1129.63C354.28 1132.97 363.10 1136.15 371.90 1139.66C380.70 1143.17 388.15 1146.51 398.30 1150.69C408.45 1154.87 422.65 1161.41 432.80 1164.73C442.95 1168.04 450.42 1169.29 459.20 1170.59C467.98 1171.90 476.72 1172.26 485.50 1172.56C494.28 1172.86 500.68 1173.87 511.90 1172.40C523.12 1170.94 545.98 1165.23 552.80 1163.80 L552.80 1191.80C545.98 1190.57 523.12 1186.02 511.90 1184.40C500.68 1182.77 494.28 1182.97 485.50 1182.04C476.72 1181.11 467.98 1180.24 459.20 1178.81C450.42 1177.38 442.95 1176.62 432.80 1173.47C422.65 1170.32 408.45 1163.96 398.30 1159.91C388.15 1155.85 380.70 1152.56 371.90 1149.14C363.10 1145.72 354.28 1142.63 345.50 1139.37C336.72 1136.12 327.98 1134.39 319.20 1129.61C310.42 1124.82 299.40 1116.11 292.80 1110.67C286.20 1105.23 284.00 1101.43 279.60 1096.95C275.20 1092.48 271.93 1088.08 266.40 1083.84C260.87 1079.59 253.35 1075.29 246.40 1071.46C239.45 1067.63 232.72 1064.49 224.70 1060.84C216.68 1057.18 207.10 1052.19 198.30 1049.52C189.50 1046.85 180.70 1045.19 171.90 1044.80C163.10 1044.42 154.28 1045.77 145.50 1047.20C136.72 1048.64 127.98 1050.32 119.20 1053.40C110.42 1056.48 102.05 1060.75 92.80 1065.70C83.55 1070.65 68.55 1080.20 63.70 1083.10Z" fill="#999999" fill-opacity="0.45"/><path d="M63.70 1066.60C68.55 1064.45 83.55 1057.40 92.80 1053.70C102.05 1050.00 110.42 1046.82 119.20 1044.40C127.98 1041.98 136.72 1040.30 145.50 1039.20C154.28 1038.10 163.10 1037.15 171.90 1037.80C180.70 1038.45 189.50 1040.23 198.30 1043.10C207.10 1045.97 216.68 1051.18 224.70 1055.00C232.72 1058.82 239.45 1062.08 246.40 1066.00C253.35 1069.92 260.87 1074.22 266.40 1078.50C271.93 1082.78 275.20 1087.20 279.60 1091.70C284.00 1096.20 286.20 1100.02 292.80 1105.50C299.40 1110.98 310.42 1119.77 319.20 1124.60C327.98 1129.43 336.72 1131.20 345.50 1134.50C354.28 1137.80 363.10 1140.93 371.90 1144.40C380.70 1147.87 388.15 1151.18 398.30 1155.30C408.45 1159.42 422.65 1165.87 432.80 1169.10C442.95 1172.33 450.42 1173.33 459.20 1174.70C467.98 1176.07 476.72 1176.68 485.50 1177.30C494.28 1177.92 500.68 1178.32 511.90 1178.40C523.12 1178.48 545.98 1177.90 552.80 1177.80" fill="none" stroke="#7FA0DE" stroke-width="3.1" stroke-linejoin="round"/><path d="M39.0 869.7V1206.5H577.8" fill="none" stroke="#1a1a1a" stroke-width="1.8"/><path d="M35.6 1179.0H39.0" stroke="#2a2a2a" stroke-width="1.6"/><text x="32.5" y="1183.2" font-size="12.9" fill="#4D4D4D" text-anchor="end">0</text><path d="M35.6 1096.5H39.0" stroke="#2a2a2a" stroke-width="1.6"/><text x="32.5" y="1100.8" font-size="12.9" fill="#4D4D4D" text-anchor="end">10</text><path d="M35.6 1014.1H39.0" stroke="#2a2a2a" stroke-width="1.6"/><text x="32.5" y="1018.3" font-size="12.9" fill="#4D4D4D" text-anchor="end">20</text><path d="M35.6 931.7H39.0" stroke="#2a2a2a" stroke-width="1.6"/><text x="32.5" y="935.9" font-size="12.9" fill="#4D4D4D" text-anchor="end">30</text><path d="M190.4 1206.5V1210.1" stroke="#2a2a2a" stroke-width="1.6"/><text x="190.4" y="1222.3" font-size="12.9" fill="#4D4D4D" text-anchor="middle">0.4</text><path d="M342.4 1206.5V1210.1" stroke="#2a2a2a" stroke-width="1.6"/><text x="342.4" y="1222.3" font-size="12.9" fill="#4D4D4D" text-anchor="middle">0.6</text><path d="M494.4 1206.5V1210.1" stroke="#2a2a2a" stroke-width="1.6"/><text x="494.4" y="1222.3" font-size="12.9" fill="#4D4D4D" text-anchor="middle">0.8</text><text x="308.3" y="1239.1" font-size="15.2" fill="#111" text-anchor="middle">SDI</text><text transform="translate(12.6 1038.1) rotate(-90)" font-size="15" fill="#111" text-anchor="middle">Death rate (per 100,000)</text><text x="5.5" y="838.8" font-size="20" fill="#111">(C) Household PM<tspan font-size="13.5" dy="4">2.5</tspan><tspan dy="-4"> pollution</tspan></text><circle cx="602.90" cy="943.50" r="2.47" fill="none" stroke="#F07F6A" stroke-width="1.15"/><text x="613.5" y="947.4" font-size="10.8" fill="#1e1e1e">Global</text><path d="M602.90 950.11L606.24 955.92H599.56Z" fill="none" stroke="#5CC4DB" stroke-width="1.15"/><text x="613.5" y="957.5" font-size="10.8" fill="#1e1e1e">High−income Asia Pacific</text><path d="M599.27 963.76H606.53M602.90 960.13V967.39" fill="none" stroke="#3D9E7E" stroke-width="1.15"/><text x="613.5" y="967.7" font-size="10.8" fill="#1e1e1e">High−income North America</text><path d="M600.40 971.39L605.40 976.39M600.40 976.39L605.40 971.39" fill="none" stroke="#434C8E" stroke-width="1.15"/><text x="613.5" y="977.8" font-size="10.8" fill="#1e1e1e">Western Europe</text><path d="M602.90 980.39L606.53 984.02L602.90 987.65L599.27 984.02Z" fill="none" stroke="#F5A08A" stroke-width="1.15"/><text x="613.5" y="987.9" font-size="10.8" fill="#1e1e1e">Australasia</text><path d="M602.90 997.67L606.24 991.86H599.56Z" fill="none" stroke="#8391C4" stroke-width="1.15"/><text x="613.5" y="998.0" font-size="10.8" fill="#1e1e1e">Andean Latin America</text><path d="M600.30 1001.68H605.50V1006.88H600.30ZL605.50 1006.88M600.30 1006.88L605.50 1001.68" fill="none" stroke="#7FCDB6" stroke-width="1.15"/><text x="613.5" y="1008.2" font-size="10.8" fill="#1e1e1e">Tropical Latin America</text><path d="M599.60 1014.41H606.20M602.90 1011.11V1017.71M600.52 1012.03L605.28 1016.79M600.52 1016.79L605.28 1012.03" fill="none" stroke="#E8412C" stroke-width="1.15"/><text x="613.5" y="1018.3" font-size="10.8" fill="#1e1e1e">Central Latin America</text><path d="M602.90 1020.91L606.53 1024.54L602.90 1028.17L599.27 1024.54ZM599.27 1024.54H606.53M602.90 1020.91V1028.17" fill="none" stroke="#8A6A50" stroke-width="1.15"/><text x="613.5" y="1028.4" font-size="10.8" fill="#1e1e1e">Southern Latin America</text><path d="M600.20 1034.67H605.60M602.90 1031.97V1037.37" fill="none" stroke="#5A62B4" stroke-width="1.15"/><circle cx="602.90" cy="1034.67" r="2.70" fill="none" stroke="#5A62B4" stroke-width="1.15"/><text x="613.5" y="1038.6" font-size="10.8" fill="#1e1e1e">Caribbean</text><path d="M602.90 1040.95L606.37 1046.72H599.43ZM602.90 1048.65L606.37 1042.88H599.43Z" fill="none" stroke="#E8523E" stroke-width="1.15"/><text x="613.5" y="1048.7" font-size="10.8" fill="#1e1e1e">Central Europe</text><path d="M600.30 1052.33H605.50V1057.53H600.30ZM600.30 1054.93H605.50M602.90 1052.33V1057.53" fill="none" stroke="#4F9E5A" stroke-width="1.15"/><text x="613.5" y="1058.8" font-size="10.8" fill="#1e1e1e">Eastern Europe</text><path d="M600.30 1062.46H605.50V1067.66H600.30ZM600.30 1062.46L605.50 1067.66M600.30 1067.66L605.50 1062.46M600.30 1065.06H605.50M602.90 1062.46V1067.66" fill="none" stroke="#6E3F9E" stroke-width="0.92"/><text x="613.5" y="1069.0" font-size="10.8" fill="#1e1e1e">Central Asia</text><path d="M600.30 1072.59H605.50V1077.79H600.30ZM600.30 1077.79L602.90 1072.59L605.50 1077.79" fill="none" stroke="#2E9191" stroke-width="1.15"/><text x="613.5" y="1079.1" font-size="10.8" fill="#1e1e1e">North Africa and Middle East</text><rect x="600.25" y="1082.67" width="5.30" height="5.30" fill="#D9573F"/><text x="613.5" y="1089.2" font-size="10.8" fill="#1e1e1e">South Asia</text><circle cx="602.90" cy="1095.45" r="2.75" fill="#7E73C0"/><text x="613.5" y="1099.4" font-size="10.8" fill="#1e1e1e">Southeast Asia</text><path d="M602.90 1101.80L606.68 1108.23H599.12Z" fill="#B04F7B"/><text x="613.5" y="1109.5" font-size="10.8" fill="#1e1e1e">East Asia</text><path d="M602.90 1112.81L605.80 1115.71L602.90 1118.61L600.00 1115.71Z" fill="#8E8E8E"/><text x="613.5" y="1119.6" font-size="10.8" fill="#1e1e1e">Oceania</text><circle cx="602.90" cy="1125.84" r="3.15" fill="#D3583B"/><text x="613.5" y="1129.7" font-size="10.8" fill="#1e1e1e">Western Sub−Saharan Africa</text><circle cx="602.90" cy="1135.97" r="2.15" fill="#4A86C8"/><text x="613.5" y="1139.9" font-size="10.8" fill="#1e1e1e">Eastern Sub−Saharan Africa</text><circle cx="602.90" cy="1146.10" r="2.47" fill="none" stroke="#EE9A50" stroke-width="1.15"/><text x="613.5" y="1150.0" font-size="10.8" fill="#1e1e1e">Central Sub−Saharan Africa</text><rect x="600.30" y="1153.63" width="5.20" height="5.20" fill="none" stroke="#5BA56B" stroke-width="1.15"/><text x="613.5" y="1160.1" font-size="10.8" fill="#1e1e1e">Southern Sub−Saharan Africa</text></svg></body></html>
